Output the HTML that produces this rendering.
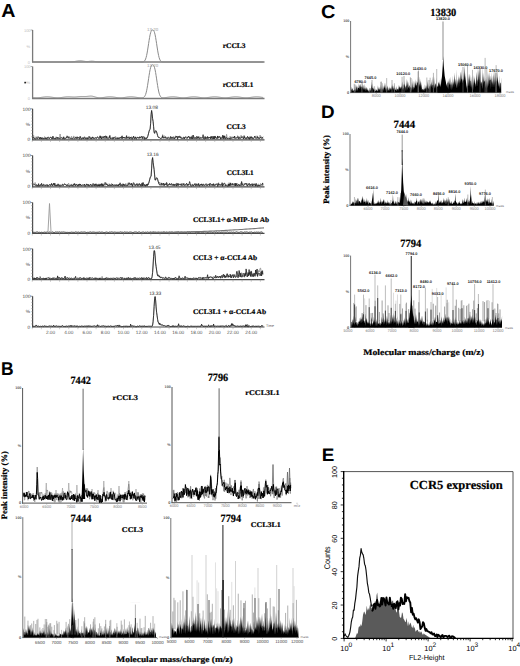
<!DOCTYPE html>
<html><head><meta charset="utf-8"><style>
html,body{margin:0;padding:0;background:#fff;overflow:hidden;}
svg{display:block;text-rendering:geometricPrecision;}
</style></head><body>
<svg width="520" height="666" viewBox="0 0 520 666">
<rect width="520" height="666" fill="#fff"/>
<text x="1.2" y="17.4" font-family="Liberation Sans" font-size="19" font-weight="bold" fill="#000" text-anchor="start" textLength="14.2" lengthAdjust="spacingAndGlyphs" >A</text>
<line x1="32.6" y1="30" x2="32.6" y2="62.5" stroke="#7a7a7a" stroke-width="1.3" />
<line x1="32.1" y1="62" x2="264.5" y2="62" stroke="#7a7a7a" stroke-width="1.3" />
<line x1="30.6" y1="30" x2="32.6" y2="30" stroke="#7a7a7a" stroke-width="0.6" />
<text x="30.6" y="31.9" font-family="Liberation Sans" font-size="4" font-weight="normal" fill="#bbb" text-anchor="end" >100</text>
<text x="30.1" y="47.5" font-family="Liberation Sans" font-size="4" font-weight="normal" fill="#bbb" text-anchor="end" >%</text>
<text x="30.1" y="63.5" font-family="Liberation Sans" font-size="4" font-weight="normal" fill="#bbb" text-anchor="end" >0</text>
<polyline points="33.1,62 33.6,62 34.1,62 34.6,62 35.1,62 35.6,62 36.1,62 36.6,62 37.1,62 37.6,62 38.1,62 38.6,62 39.1,62 39.6,62 40.1,62 40.6,62 41.1,62 41.6,62 42.1,62 42.6,62 43.1,62 43.6,62 44.1,62 44.6,62 45.1,62 45.6,62 46.1,62 46.6,62 47.1,62 47.6,62 48.1,62 48.6,62 49.1,62 49.6,62 50.1,62 50.6,62 51.1,62 51.6,62 52.1,62 52.6,62 53.1,62 53.6,62 54.1,62 54.6,62 55.1,62 55.6,62 56.1,62 56.6,62 57.1,62 57.6,62 58.1,62 58.6,62 59.1,62 59.6,62 60.1,62 60.6,62 61.1,62 61.6,62 62.1,62 62.6,62 63.1,62 63.6,62 64.1,62 64.6,62 65.1,62 65.6,62 66.1,62 66.6,62 67.1,61.99 67.6,61.99 68.1,61.99 68.6,61.98 69.1,61.97 69.6,61.96 70.1,61.94 70.6,61.92 71.1,61.9 71.6,61.87 72.1,61.83 72.6,61.78 73.1,61.73 73.6,61.67 74.1,61.6 74.6,61.52 75.1,61.43 75.6,61.34 76.1,61.25 76.6,61.16 77.1,61.08 77.6,61 78.1,60.93 78.6,60.87 79.1,60.83 79.6,60.81 80.1,60.8 80.6,60.81 81.1,60.84 81.6,60.89 82.1,60.95 82.6,61.02 83.1,61.1 83.6,61.18 84.1,61.27 84.6,61.34 85.1,61.41 85.6,61.47 86.1,61.51 86.6,61.53 87.1,61.54 87.6,61.53 88.1,61.5 88.6,61.46 89.1,61.41 89.6,61.35 90.1,61.3 90.6,61.25 91.1,61.21 91.6,61.19 92.1,61.19 92.6,61.21 93.1,61.25 93.6,61.3 94.1,61.37 94.6,61.45 95.1,61.53 95.6,61.61 96.1,61.69 96.6,61.75 97.1,61.81 97.6,61.86 98.1,61.9 98.6,61.93 99.1,61.95 99.6,61.97 100.1,61.98 100.6,61.99 101.1,61.99 101.6,62 102.1,62 102.6,62 103.1,62 103.6,62 104.1,62 104.6,62 105.1,62 105.6,62 106.1,62 106.6,62 107.1,62 107.6,62 108.1,62 108.6,62 109.1,62 109.6,62 110.1,62 110.6,62 111.1,62 111.6,62 112.1,62 112.6,62 113.1,62 113.6,62 114.1,62 114.6,62 115.1,62 115.6,62 116.1,62 116.6,62 117.1,62 117.6,62 118.1,62 118.6,62 119.1,62 119.6,62 120.1,62 120.6,62 121.1,62 121.6,62 122.1,62 122.6,62 123.1,62 123.6,62 124.1,62 124.6,62 125.1,62 125.6,62 126.1,62 126.6,62 127.1,62 127.6,62 128.1,62 128.6,62 129.1,62 129.6,62 130.1,62 130.6,62 131.1,62 131.6,62 132.1,62 132.6,62 133.1,62 133.6,62 134.1,62 134.6,62 135.1,62 135.6,62 136.1,62 136.6,62 137.1,62 137.6,62 138.1,62 138.6,62 139.1,62 139.6,62 140.1,62 140.6,62 141.1,61.99 141.6,61.99 142.1,61.97 142.6,61.92 143.1,61.84 143.6,61.67 144.1,61.38 144.6,60.9 145.1,60.15 145.6,59.04 146.1,57.51 146.6,55.51 147.1,53.04 147.6,50.15 148.1,46.96 148.6,43.65 149.1,40.4 149.6,37.4 150.1,34.84 150.6,32.8 151.1,31.36 151.6,30.48 152.1,30.08 152.6,30 153.1,30.08 153.6,30.48 154.1,31.36 154.6,32.8 155.1,34.84 155.6,37.4 156.1,40.4 156.6,43.65 157.1,46.96 157.6,50.15 158.1,53.04 158.6,55.51 159.1,57.51 159.6,59.04 160.1,60.15 160.6,60.9 161.1,61.38 161.6,61.67 162.1,61.84 162.6,61.92 163.1,61.97 163.6,61.99 164.1,61.99 164.6,62 165.1,62 165.6,62 166.1,62 166.6,62 167.1,62 167.6,62 168.1,62 168.6,62 169.1,62 169.6,62 170.1,62 170.6,62 171.1,62 171.6,62 172.1,62 172.6,62 173.1,62 173.6,62 174.1,62 174.6,62 175.1,62 175.6,62 176.1,62 176.6,62 177.1,62 177.6,62 178.1,62 178.6,62 179.1,62 179.6,62 180.1,62 180.6,62 181.1,62 181.6,62 182.1,62 182.6,62 183.1,62 183.6,62 184.1,62 184.6,62 185.1,62 185.6,62 186.1,62 186.6,62 187.1,62 187.6,62 188.1,62 188.6,62 189.1,62 189.6,62 190.1,62 190.6,62 191.1,62 191.6,62 192.1,62 192.6,62 193.1,62 193.6,62 194.1,62 194.6,62 195.1,62 195.6,62 196.1,62 196.6,62 197.1,62 197.6,62 198.1,62 198.6,62 199.1,62 199.6,62 200.1,62 200.6,62 201.1,62 201.6,62 202.1,62 202.6,62 203.1,62 203.6,62 204.1,62 204.6,62 205.1,62 205.6,62 206.1,62 206.6,62 207.1,62 207.6,62 208.1,62 208.6,62 209.1,62 209.6,62 210.1,62 210.6,62 211.1,62 211.6,62 212.1,62 212.6,62 213.1,62 213.6,62 214.1,62 214.6,62 215.1,62 215.6,62 216.1,62 216.6,62 217.1,62 217.6,62 218.1,62 218.6,62 219.1,62 219.6,62 220.1,62 220.6,62 221.1,62 221.6,62 222.1,62 222.6,62 223.1,62 223.6,62 224.1,62 224.6,62 225.1,62 225.6,62 226.1,62 226.6,62 227.1,62 227.6,62 228.1,62 228.6,62 229.1,62 229.6,62 230.1,62 230.6,62 231.1,62 231.6,62 232.1,62 232.6,62 233.1,62 233.6,62 234.1,62 234.6,62 235.1,62 235.6,62 236.1,62 236.6,62 237.1,62 237.6,62 238.1,62 238.6,62 239.1,62 239.6,62 240.1,62 240.6,62 241.1,62 241.6,62 242.1,62 242.6,62 243.1,62 243.6,62 244.1,62 244.6,62 245.1,62 245.6,62 246.1,62 246.6,62 247.1,62 247.6,62 248.1,62 248.6,62 249.1,62 249.6,62 250.1,62 250.6,62 251.1,62 251.6,62 252.1,62 252.6,62 253.1,62 253.6,62 254.1,62 254.6,62 255.1,62 255.6,62 256.1,62 256.6,62 257.1,62 257.6,62 258.1,62 258.6,62 259.1,62 259.6,62 260.1,62 260.6,62 261.1,62 261.6,62 262.1,62 262.6,62 263.1,62" stroke="#8a8a8a" stroke-width="1" fill="none" stroke-linejoin="round" />
<text x="152.6" y="30.9" font-family="Liberation Sans" font-size="4.4" font-weight="normal" fill="#999" text-anchor="middle" >13.20</text>
<text x="222.65" y="48.4" font-family="Liberation Serif" font-size="7.2" font-weight="bold" fill="#000" text-anchor="start" textLength="22.9" lengthAdjust="spacingAndGlyphs" stroke="#000" stroke-width="0.2" >rCCL3</text>
<line x1="32.6" y1="66.5" x2="32.6" y2="99" stroke="#7a7a7a" stroke-width="1.3" />
<line x1="32.1" y1="98.5" x2="264.5" y2="98.5" stroke="#7a7a7a" stroke-width="1.3" />
<line x1="30.6" y1="66.5" x2="32.6" y2="66.5" stroke="#7a7a7a" stroke-width="0.6" />
<text x="30.6" y="68.4" font-family="Liberation Sans" font-size="4" font-weight="normal" fill="#bbb" text-anchor="end" >100</text>
<text x="30.1" y="84" font-family="Liberation Sans" font-size="4" font-weight="normal" fill="#bbb" text-anchor="end" >%</text>
<text x="30.1" y="100" font-family="Liberation Sans" font-size="4" font-weight="normal" fill="#bbb" text-anchor="end" >0</text>
<polyline points="33.1,97.54 33.6,97.6 34.1,97.66 34.6,97.71 35.1,97.75 35.6,97.78 36.1,97.79 36.6,97.8 37.1,97.8 37.6,97.78 38.1,97.75 38.6,97.72 39.1,97.67 39.6,97.62 40.1,97.56 40.6,97.49 41.1,97.42 41.6,97.34 42.1,97.27 42.6,97.19 43.1,97.12 43.6,97.05 44.1,96.99 44.6,96.94 45.1,96.89 45.6,96.85 46.1,96.82 46.6,96.81 47.1,96.8 47.6,96.81 48.1,96.82 48.6,96.85 49.1,96.89 49.6,96.93 50.1,96.99 50.6,97.05 51.1,97.12 51.6,97.19 52.1,97.26 52.6,97.34 53.1,97.41 53.6,97.48 54.1,97.55 54.6,97.61 55.1,97.67 55.6,97.71 56.1,97.75 56.6,97.78 57.1,97.79 57.6,97.8 58.1,97.79 58.6,97.78 59.1,97.75 59.6,97.71 60.1,97.67 60.6,97.61 61.1,97.55 61.6,97.48 62.1,97.41 62.6,97.33 63.1,97.26 63.6,97.19 64.1,97.11 64.6,97.05 65.1,96.98 65.6,96.93 66.1,96.88 66.6,96.84 67.1,96.81 67.6,96.8 68.1,96.79 68.6,96.79 69.1,96.79 69.6,96.81 70.1,96.83 70.6,96.86 71.1,96.89 71.6,96.92 72.1,96.95 72.6,96.98 73.1,97 73.6,97.01 74.1,97.01 74.6,97.01 75.1,96.99 75.6,96.96 76.1,96.93 76.6,96.88 77.1,96.83 77.6,96.78 78.1,96.72 78.6,96.67 79.1,96.62 79.6,96.58 80.1,96.55 80.6,96.52 81.1,96.5 81.6,96.49 82.1,96.49 82.6,96.5 83.1,96.5 83.6,96.51 84.1,96.52 84.6,96.52 85.1,96.52 85.6,96.51 86.1,96.49 86.6,96.46 87.1,96.42 87.6,96.37 88.1,96.32 88.6,96.26 89.1,96.21 89.6,96.16 90.1,96.12 90.6,96.1 91.1,96.1 91.6,96.13 92.1,96.19 92.6,96.27 93.1,96.38 93.6,96.51 94.1,96.65 94.6,96.8 95.1,96.96 95.6,97.11 96.1,97.25 96.6,97.38 97.1,97.49 97.6,97.58 98.1,97.66 98.6,97.71 99.1,97.75 99.6,97.77 100.1,97.77 100.6,97.76 101.1,97.73 101.6,97.7 102.1,97.65 102.6,97.6 103.1,97.53 103.6,97.46 104.1,97.39 104.6,97.32 105.1,97.24 105.6,97.17 106.1,97.1 106.6,97.03 107.1,96.97 107.6,96.92 108.1,96.88 108.6,96.84 109.1,96.82 109.6,96.8 110.1,96.8 110.6,96.81 111.1,96.83 111.6,96.86 112.1,96.9 112.6,96.95 113.1,97.01 113.6,97.07 114.1,97.14 114.6,97.21 115.1,97.29 115.6,97.36 116.1,97.43 116.6,97.51 117.1,97.57 117.6,97.63 118.1,97.68 118.6,97.73 119.1,97.76 119.6,97.78 120.1,97.8 120.6,97.8 121.1,97.79 121.6,97.77 122.1,97.74 122.6,97.7 123.1,97.65 123.6,97.59 124.1,97.53 124.6,97.46 125.1,97.38 125.6,97.31 126.1,97.23 126.6,97.16 127.1,97.09 127.6,97.03 128.1,96.97 128.6,96.91 129.1,96.87 129.6,96.84 130.1,96.81 130.6,96.8 131.1,96.8 131.6,96.81 132.1,96.83 132.6,96.86 133.1,96.91 133.6,96.96 134.1,97.01 134.6,97.08 135.1,97.15 135.6,97.22 136.1,97.29 136.6,97.37 137.1,97.44 137.6,97.51 138.1,97.58 138.6,97.64 139.1,97.69 139.6,97.73 140.1,97.76 140.6,97.78 141.1,97.79 141.6,97.78 142.1,97.75 142.6,97.69 143.1,97.57 143.6,97.36 144.1,97.02 144.6,96.48 145.1,95.67 145.6,94.49 146.1,92.89 146.6,90.81 147.1,88.26 147.6,85.3 148.1,82.05 148.6,78.67 149.1,75.36 149.6,72.31 150.1,69.7 150.6,67.64 151.1,66.17 151.6,65.28 152.1,64.88 152.6,64.81 153.1,64.91 153.6,65.35 154.1,66.27 154.6,67.77 155.1,69.86 155.6,72.49 156.1,75.55 156.6,78.88 157.1,82.27 157.6,85.53 158.1,88.49 158.6,91.03 159.1,93.1 159.6,94.69 160.1,95.84 160.6,96.64 161.1,97.15 161.6,97.46 162.1,97.63 162.6,97.72 163.1,97.75 163.6,97.75 164.1,97.72 164.6,97.69 165.1,97.63 165.6,97.58 166.1,97.51 166.6,97.44 167.1,97.37 167.6,97.29 168.1,97.22 168.6,97.15 169.1,97.08 169.6,97.01 170.1,96.95 170.6,96.9 171.1,96.86 171.6,96.83 172.1,96.81 172.6,96.8 173.1,96.8 173.6,96.81 174.1,96.84 174.6,96.87 175.1,96.92 175.6,96.97 176.1,97.03 176.6,97.09 177.1,97.16 177.6,97.24 178.1,97.31 178.6,97.39 179.1,97.46 179.6,97.53 180.1,97.59 180.6,97.65 181.1,97.7 181.6,97.74 182.1,97.77 182.6,97.79 183.1,97.8 183.6,97.8 184.1,97.78 184.6,97.76 185.1,97.73 185.6,97.68 186.1,97.63 186.6,97.57 187.1,97.5 187.6,97.43 188.1,97.36 188.6,97.28 189.1,97.21 189.6,97.14 190.1,97.07 190.6,97 191.1,96.95 191.6,96.9 192.1,96.86 192.6,96.83 193.1,96.81 193.6,96.8 194.1,96.8 194.6,96.82 195.1,96.84 195.6,96.88 196.1,96.92 196.6,96.97 197.1,97.03 197.6,97.1 198.1,97.17 198.6,97.24 199.1,97.32 199.6,97.39 200.1,97.47 200.6,97.54 201.1,97.6 201.6,97.66 202.1,97.7 202.6,97.74 203.1,97.77 203.6,97.79 204.1,97.8 204.6,97.8 205.1,97.78 205.6,97.76 206.1,97.72 206.6,97.68 207.1,97.62 207.6,97.56 208.1,97.5 208.6,97.42 209.1,97.35 209.6,97.28 210.1,97.2 210.6,97.13 211.1,97.06 211.6,97 212.1,96.94 212.6,96.89 213.1,96.85 213.6,96.83 214.1,96.81 214.6,96.8 215.1,96.8 215.6,96.82 216.1,96.84 216.6,96.88 217.1,96.93 217.6,96.98 218.1,97.04 218.6,97.11 219.1,97.18 219.6,97.25 220.1,97.33 220.6,97.4 221.1,97.47 221.6,97.54 222.1,97.61 222.6,97.66 223.1,97.71 223.6,97.75 224.1,97.78 224.6,97.79 225.1,97.8 225.6,97.8 226.1,97.78 226.6,97.75 227.1,97.72 227.6,97.67 228.1,97.62 228.6,97.55 229.1,97.49 229.6,97.42 230.1,97.34 230.6,97.27 231.1,97.19 231.6,97.12 232.1,97.05 232.6,96.99 233.1,96.94 233.6,96.89 234.1,96.85 234.6,96.82 235.1,96.81 235.6,96.8 236.1,96.81 236.6,96.82 237.1,96.85 237.6,96.89 238.1,96.93 238.6,96.99 239.1,97.05 239.6,97.12 240.1,97.19 240.6,97.26 241.1,97.34 241.6,97.41 242.1,97.48 242.6,97.55 243.1,97.61 243.6,97.67 244.1,97.71 244.6,97.75 245.1,97.78 245.6,97.79 246.1,97.8 246.6,97.79 247.1,97.78 247.6,97.75 248.1,97.71 248.6,97.66 249.1,97.61 249.6,97.55 250.1,97.48 250.6,97.41 251.1,97.33 251.6,97.26 252.1,97.19 252.6,97.11 253.1,97.05 253.6,96.98 254.1,96.93 254.6,96.88 255.1,96.85 255.6,96.82 256.1,96.8 256.6,96.8 257.1,96.81 257.6,96.82 258.1,96.85 258.6,96.89 259.1,96.94 259.6,96.99 260.1,97.06 260.6,97.12 261.1,97.2 261.6,97.27 262.1,97.35 262.6,97.42 263.1,97.49" stroke="#8a8a8a" stroke-width="1" fill="none" stroke-linejoin="round" />
<text x="152.6" y="67.4" font-family="Liberation Sans" font-size="4.4" font-weight="normal" fill="#999" text-anchor="middle" >13.20</text>
<text x="222.65" y="86.9" font-family="Liberation Serif" font-size="7.2" font-weight="bold" fill="#000" text-anchor="start" textLength="30.7" lengthAdjust="spacingAndGlyphs" stroke="#000" stroke-width="0.2" >rCCL3L1</text>
<line x1="32.6" y1="108.8" x2="32.6" y2="140.3" stroke="#4a4a4a" stroke-width="1.2" />
<line x1="32.1" y1="139.8" x2="264.5" y2="139.8" stroke="#4a4a4a" stroke-width="1.2" />
<line x1="30.6" y1="108.8" x2="32.6" y2="108.8" stroke="#4a4a4a" stroke-width="0.6" />
<text x="30.6" y="110.7" font-family="Liberation Sans" font-size="4.8" font-weight="normal" fill="#444" text-anchor="end" >100</text>
<text x="30.1" y="125.8" font-family="Liberation Sans" font-size="4.8" font-weight="normal" fill="#444" text-anchor="end" >%</text>
<text x="30.1" y="141.3" font-family="Liberation Sans" font-size="4.8" font-weight="normal" fill="#444" text-anchor="end" >0</text>
<path d="M31 136.7h1.6M31 133.6h1.6M31 130.5h1.6M31 127.4h1.6M31 124.3h1.6M31 121.2h1.6M31 118.1h1.6M31 115h1.6M31 111.9h1.6" stroke="#999" stroke-width="0.5"/>
<path d="M32.25 139.8v2.2M41.38 139.8v2.2M50.5 139.8v2.2M59.62 139.8v2.2M68.75 139.8v2.2M77.88 139.8v2.2M87 139.8v2.2M96.12 139.8v2.2M105.25 139.8v2.2M114.38 139.8v2.2M123.5 139.8v2.2M132.62 139.8v2.2M141.75 139.8v2.2M150.88 139.8v2.2M160 139.8v2.2M169.12 139.8v2.2M178.25 139.8v2.2M187.38 139.8v2.2M196.5 139.8v2.2M205.62 139.8v2.2M214.75 139.8v2.2M223.88 139.8v2.2M233 139.8v2.2M242.12 139.8v2.2M251.25 139.8v2.2M260.38 139.8v2.2" stroke="#999" stroke-width="0.5"/>
<polyline points="33.1,138.77 33.6,135.28 34.1,138.45 34.6,138.44 35.1,138.73 35.6,138.32 36.1,136.61 36.6,138.91 37.1,137.94 37.6,138.5 38.1,138 38.6,137.95 39.1,138.61 39.6,138.31 40.1,139.01 40.6,138.52 41.1,138.64 41.6,138.66 42.1,137.62 42.6,137.57 43.1,137.93 43.6,138.5 44.1,137.95 44.6,136.64 45.1,136.97 45.6,138.46 46.1,138.86 46.6,138.04 47.1,137.24 47.6,137.29 48.1,138.14 48.6,138.01 49.1,139.2 49.6,137.54 50.1,137.12 50.6,137.33 51.1,137.53 51.6,138.75 52.1,138.93 52.6,136.09 53.1,139.15 53.6,138.71 54.1,138.11 54.6,138.97 55.1,138.36 55.6,138.39 56.1,136.69 56.6,138.13 57.1,138.68 57.6,138.97 58.1,137.19 58.6,138.16 59.1,138.61 59.6,137.91 60.1,134.01 60.6,137.81 61.1,136.96 61.6,137.46 62.1,137.17 62.6,137.78 63.1,138.73 63.6,136.59 64.1,136.79 64.6,138.53 65.1,138.9 65.6,138.86 66.1,138.62 66.6,137.34 67.1,135.66 67.6,136.36 68.1,138.85 68.6,138.3 69.1,138.09 69.6,136.59 70.1,138.24 70.6,138.33 71.1,138.04 71.6,136.29 72.1,138.28 72.6,138.96 73.1,137.88 73.6,136.19 74.1,136.25 74.6,137.81 75.1,138.33 75.6,138.34 76.1,138.43 76.6,137.91 77.1,138.64 77.6,138.86 78.1,138.62 78.6,137.88 79.1,137.05 79.6,137.5 80.1,137.42 80.6,136.59 81.1,137.53 81.6,139.03 82.1,139.19 82.6,139.04 83.1,137.1 83.6,138.09 84.1,138.65 84.6,138.46 85.1,138 85.6,139.04 86.1,137.66 86.6,138.02 87.1,138.27 87.6,138.03 88.1,138.1 88.6,136.2 89.1,138.66 89.6,137.9 90.1,138.13 90.6,137.29 91.1,137.31 91.6,138.7 92.1,137.24 92.6,137.02 93.1,138.19 93.6,138.42 94.1,137.82 94.6,138.54 95.1,138.52 95.6,138.69 96.1,139.17 96.6,138.16 97.1,138.34 97.6,137.51 98.1,137.3 98.6,138.53 99.1,138.3 99.6,138.79 100.1,135.84 100.6,136.94 101.1,139.05 101.6,138.47 102.1,138.68 102.6,137.69 103.1,137.05 103.6,138.51 104.1,138.41 104.6,138.92 105.1,138.85 105.6,137.93 106.1,137.22 106.6,137.89 107.1,137.8 107.6,136.79 108.1,137.69 108.6,137.44 109.1,137.86 109.6,138.25 110.1,135.31 110.6,139.25 111.1,138.06 111.6,138.64 112.1,138.39 112.6,137.23 113.1,137.13 113.6,137.96 114.1,138.76 114.6,138.88 115.1,138.61 115.6,136.32 116.1,137.43 116.6,137.67 117.1,138.42 117.6,138.06 118.1,136.98 118.6,138.32 119.1,137.99 119.6,138.77 120.1,137.95 120.6,138.14 121.1,137.09 121.6,139.03 122.1,136.6 122.6,138.6 123.1,137.27 123.6,137.6 124.1,137.03 124.6,138.57 125.1,138.36 125.6,137.28 126.1,136.66 126.6,138.84 127.1,138.52 127.6,137.29 128.1,139 128.6,136.58 129.1,137.93 129.6,136.7 130.1,138 130.6,137.47 131.1,138.43 131.6,136.65 132.1,137.97 132.6,138.11 133.1,138.91 133.6,137.03 134.1,138.44 134.6,137.37 135.1,138.14 135.6,138.23 136.1,137.11 136.6,138.65 137.1,137.93 137.6,137 138.1,137.82 138.6,138.82 139.1,137.82 139.6,138.3 140.1,138.05 140.6,137.31 141.1,138.73 141.6,136.64 142.1,137.85 142.6,136.23 143.1,138.91 143.6,138.51 144.1,138.27 144.6,137.21 145.1,139.03 145.6,138.77 146.1,138.58 146.6,138.64 147.1,137.94 147.6,136.79 148.1,135.16 148.6,133.19 149.1,131.23 149.6,129.76 150.1,129.22 150.6,123.77 151.1,114.62 151.6,110.5 152.1,113.88 152.6,118.65 153.1,121.43 153.6,126.72 154.1,132.1 154.6,133.32 155.1,131.68 155.6,130.75 156.1,130.86 156.6,131.96 157.1,133.69 157.6,135.52 158.1,137.06 158.6,137.54 159.1,137.18 159.6,137.74 160.1,137.85 160.6,138.57 161.1,138.53 161.6,138.26 162.1,137.95 162.6,134.64 163.1,138.6 163.6,136.92 164.1,135.58 164.6,136.46 165.1,138.18 165.6,137.56 166.1,138.87 166.6,138.26 167.1,137.87 167.6,137.23 168.1,137.24 168.6,137.09 169.1,137.1 169.6,137.49 170.1,138.23 170.6,138.44 171.1,137.94 171.6,138.82 172.1,138.64 172.6,138.61 173.1,137.45 173.6,136.43 174.1,139.1 174.6,137.37 175.1,137.59 175.6,135.81 176.1,137.23 176.6,136.88 177.1,135.99 177.6,138.1 178.1,137.06 178.6,137.31 179.1,136.58 179.6,135.81 180.1,136.95 180.6,136.01 181.1,138.93 181.6,138.18 182.1,139.06 182.6,138.05 183.1,138.56 183.6,136.81 184.1,139.17 184.6,138.62 185.1,137.24 185.6,136.46 186.1,136.45 186.6,137.82 187.1,137.17 187.6,137.56 188.1,137.14 188.6,137.2 189.1,136.56 189.6,138.54 190.1,138.11 190.6,139.07 191.1,138.53 191.6,138.91 192.1,135.72 192.6,137.38 193.1,135.9 193.6,139.06 194.1,136.88 194.6,137.67 195.1,138.44 195.6,138.42 196.1,138.61 196.6,138.83 197.1,137.95 197.6,139 198.1,136.56 198.6,137.5 199.1,137.23 199.6,136.94 200.1,137.38 200.6,139.11 201.1,138.01 201.6,137.7 202.1,137.34 202.6,137.94 203.1,138.83 203.6,138.31 204.1,137.66 204.6,137.48 205.1,138.21 205.6,137.78 206.1,137.93 206.6,137.19 207.1,137.32 207.6,137.48 208.1,138.62 208.6,137.68 209.1,137.6 209.6,137.53 210.1,137.78 210.6,137.55 211.1,138.92 211.6,136.65 212.1,138.62 212.6,136.03 213.1,139.2 213.6,138.4 214.1,139.22 214.6,137.69 215.1,138 215.6,137.57 216.1,137.97 216.6,137.7 217.1,139.16 217.6,136.08 218.1,137.56 218.6,136.31 219.1,138.06 219.6,137.59 220.1,137.54 220.6,137.44 221.1,138.5 221.6,137.55 222.1,137.25 222.6,137.39 223.1,138.6 223.6,137.59 224.1,137.19 224.6,136.84 225.1,138.07 225.6,138.64 226.1,137.21 226.6,134.34 227.1,137.52 227.6,138.66 228.1,138.06 228.6,138.27 229.1,138.39 229.6,139.15 230.1,136.19 230.6,138.18 231.1,136.9 231.6,137.9 232.1,136.61 232.6,138 233.1,136.88 233.6,137.19 234.1,137.09 234.6,137.15 235.1,139.07 235.6,138.92 236.1,137.84 236.6,137.76 237.1,138.68 237.6,135.69 238.1,137.15 238.6,138.69 239.1,136.98 239.6,136.91 240.1,138.72 240.6,137.5 241.1,135.27 241.6,138.13 242.1,137.45 242.6,138.07 243.1,137.74 243.6,137.74 244.1,137.73 244.6,137.22 245.1,136.82 245.6,138.66 246.1,138.18 246.6,137.79 247.1,137.95 247.6,137.61 248.1,137.89 248.6,137.86 249.1,137.93 249.6,138.84 250.1,135.99 250.6,136.89 251.1,138 251.6,137.31 252.1,138.66 252.6,137.26 253.1,137.79 253.6,138.38 254.1,137.82 254.6,137.05 255.1,136.56 255.6,135.9 256.1,137 256.6,137.75 257.1,135.77 257.6,136.62 258.1,138.28 258.6,137.16 259.1,138.89 259.6,138.6 260.1,135.12 260.6,138.25 261.1,136.44 261.6,138.1 262.1,138.69 262.6,137.12 263.1,138.85" stroke="#8a8a8a" stroke-width="0.8" fill="none" stroke-linejoin="round" />
<polyline points="33.1,137.64 33.6,137.08 34.1,138.64 34.6,138.65 35.1,138.74 35.6,138.93 36.1,138.53 36.6,137.81 37.1,138.28 37.6,138.46 38.1,136.59 38.6,137.15 39.1,137.87 39.6,139.03 40.1,137.01 40.6,138.51 41.1,137.59 41.6,139.06 42.1,137.81 42.6,138.62 43.1,138.16 43.6,139.1 44.1,138.07 44.6,138.53 45.1,137.82 45.6,138.8 46.1,137.78 46.6,138.83 47.1,139.21 47.6,137.44 48.1,137.07 48.6,137.24 49.1,138.45 49.6,138.34 50.1,138.03 50.6,137.25 51.1,137.29 51.6,137.67 52.1,139.01 52.6,137.54 53.1,136.37 53.6,138.48 54.1,138.29 54.6,138.72 55.1,137.9 55.6,138.81 56.1,138.37 56.6,137.62 57.1,138.75 57.6,137.26 58.1,137.76 58.6,138.51 59.1,137.9 59.6,138.6 60.1,138.92 60.6,137.88 61.1,137.89 61.6,137.77 62.1,138.63 62.6,138.75 63.1,138.96 63.6,137.14 64.1,139.14 64.6,138.73 65.1,138.58 65.6,138.6 66.1,137.28 66.6,137.74 67.1,136.37 67.6,137.34 68.1,136.59 68.6,138.06 69.1,138.26 69.6,138.08 70.1,137.94 70.6,138.5 71.1,138.83 71.6,138.46 72.1,138.58 72.6,139.12 73.1,137.93 73.6,137.73 74.1,138.24 74.6,138.7 75.1,138.5 75.6,137.13 76.1,137.28 76.6,138.57 77.1,136.7 77.6,138.33 78.1,137.25 78.6,137.69 79.1,138.25 79.6,139.19 80.1,136.35 80.6,138.37 81.1,138.81 81.6,139.11 82.1,137.95 82.6,138.08 83.1,137.74 83.6,138.93 84.1,138.02 84.6,136.77 85.1,137.51 85.6,138.71 86.1,138.32 86.6,137.96 87.1,139.2 87.6,137.74 88.1,138.81 88.6,138.24 89.1,137.47 89.6,136.52 90.1,138.64 90.6,138.2 91.1,139.12 91.6,137.94 92.1,138.21 92.6,136.92 93.1,138.64 93.6,137.66 94.1,138.53 94.6,138.2 95.1,137.83 95.6,137.46 96.1,138.55 96.6,138.07 97.1,137.06 97.6,136.7 98.1,137.57 98.6,138.22 99.1,138.67 99.6,137.36 100.1,135.82 100.6,138.19 101.1,136.43 101.6,139.01 102.1,138.36 102.6,137.42 103.1,136.28 103.6,137.8 104.1,138.41 104.6,136.05 105.1,136.66 105.6,135.77 106.1,138.64 106.6,136.25 107.1,138 107.6,138.67 108.1,139.16 108.6,138.48 109.1,137.96 109.6,135.68 110.1,138.43 110.6,138.35 111.1,138.45 111.6,137.85 112.1,138.23 112.6,139.12 113.1,137.59 113.6,138.63 114.1,137.05 114.6,137.22 115.1,137.79 115.6,138.77 116.1,138.58 116.6,138.47 117.1,139.05 117.6,137.82 118.1,138.87 118.6,138.21 119.1,138.81 119.6,137.5 120.1,137.51 120.6,137.37 121.1,138.35 121.6,136.61 122.1,135.79 122.6,138.43 123.1,138.16 123.6,137.13 124.1,138.15 124.6,137.46 125.1,138.24 125.6,137.99 126.1,138.57 126.6,135.6 127.1,138.02 127.6,137.57 128.1,137.23 128.6,137.68 129.1,137.77 129.6,138.91 130.1,137.23 130.6,138.3 131.1,137.4 131.6,138.34 132.1,139.29 132.6,137.72 133.1,137.78 133.6,136.02 134.1,137.53 134.6,138.83 135.1,138.49 135.6,136.84 136.1,138.94 136.6,138.79 137.1,138.31 137.6,137.2 138.1,137.46 138.6,137.57 139.1,138.23 139.6,136.69 140.1,138.06 140.6,136.93 141.1,136.43 141.6,136.52 142.1,136.72 142.6,138.64 143.1,137.2 143.6,136.62 144.1,136.77 144.6,139.2 145.1,138.72 145.6,138.81 146.1,137.54 146.6,138.64 147.1,137.94 147.6,136.79 148.1,135.16 148.6,133.19 149.1,131.23 149.6,129.76 150.1,129.22 150.6,123.77 151.1,114.62 151.6,110.5 152.1,113.88 152.6,118.65 153.1,121.43 153.6,126.72 154.1,132.1 154.6,133.32 155.1,131.68 155.6,130.75 156.1,130.86 156.6,131.96 157.1,133.69 157.6,135.52 158.1,137.06 158.6,137.42 159.1,137.94 159.6,137.71 160.1,138.28 160.6,138.42 161.1,138.29 161.6,138.04 162.1,137.72 162.6,135.76 163.1,138.11 163.6,137.72 164.1,137.16 164.6,137.9 165.1,138.27 165.6,136.65 166.1,137.8 166.6,138.17 167.1,138.05 167.6,138.68 168.1,137.33 168.6,138.21 169.1,138.81 169.6,138.79 170.1,138.51 170.6,136.46 171.1,138.56 171.6,137.32 172.1,136.87 172.6,138.3 173.1,137.58 173.6,138.37 174.1,137.75 174.6,138.89 175.1,138.26 175.6,136.78 176.1,137.25 176.6,136.28 177.1,137.36 177.6,139.26 178.1,136.16 178.6,137.03 179.1,137.59 179.6,136.45 180.1,137.73 180.6,137.02 181.1,138.22 181.6,137.87 182.1,138.15 182.6,138.27 183.1,137.77 183.6,138.37 184.1,137.27 184.6,138.77 185.1,137.17 185.6,137.26 186.1,137.61 186.6,138.05 187.1,138.61 187.6,137.07 188.1,137.26 188.6,136.13 189.1,137.1 189.6,138.47 190.1,136.95 190.6,137.25 191.1,138.9 191.6,136.72 192.1,137.65 192.6,138.98 193.1,135 193.6,136.33 194.1,138.51 194.6,138.26 195.1,137.82 195.6,137.51 196.1,138.79 196.6,136.39 197.1,136.93 197.6,138.23 198.1,136.52 198.6,138.34 199.1,137.5 199.6,138.8 200.1,138.42 200.6,137.45 201.1,137.81 201.6,138 202.1,137.95 202.6,137.74 203.1,134.67 203.6,138.65 204.1,138.75 204.6,139.07 205.1,136.43 205.6,138.73 206.1,137.41 206.6,138.48 207.1,138.72 207.6,136.43 208.1,138.5 208.6,137.31 209.1,137.84 209.6,137.99 210.1,136.99 210.6,138.76 211.1,136.19 211.6,138.03 212.1,138.44 212.6,138.65 213.1,136.47 213.6,138.78 214.1,136.19 214.6,138.77 215.1,135.98 215.6,138.03 216.1,138.5 216.6,138.09 217.1,138.57 217.6,135.94 218.1,138.34 218.6,137.67 219.1,136.5 219.6,136.62 220.1,136.72 220.6,139.15 221.1,138.04 221.6,138.09 222.1,137.76 222.6,135.3 223.1,138.81 223.6,135.67 224.1,138.84 224.6,135.84 225.1,137.3 225.6,138.75 226.1,138.51 226.6,137.46 227.1,138.87 227.6,138.47 228.1,138.47 228.6,138.07 229.1,138.65 229.6,138.46 230.1,139.24 230.6,137.77 231.1,138.35 231.6,138.22 232.1,138.64 232.6,138.02 233.1,137.4 233.6,137.45 234.1,138.4 234.6,136.01 235.1,137.74 235.6,138.1 236.1,137.78 236.6,137.81 237.1,137.34 237.6,137.35 238.1,136.66 238.6,138.63 239.1,138.86 239.6,137.47 240.1,137.96 240.6,138.17 241.1,138.09 241.6,137.41 242.1,136.46 242.6,137.25 243.1,138.06 243.6,139.02 244.1,135.65 244.6,138.14 245.1,137.81 245.6,138.28 246.1,139.14 246.6,137.74 247.1,137.51 247.6,136.33 248.1,138.88 248.6,137.54 249.1,137.06 249.6,139.22 250.1,138.87 250.6,137.17 251.1,138.55 251.6,136.63 252.1,137.51 252.6,138.74 253.1,138.72 253.6,138.81 254.1,137.8 254.6,136.12 255.1,136.81 255.6,138.4 256.1,138.54 256.6,138.21 257.1,138.63 257.6,136.65 258.1,138.22 258.6,138.32 259.1,138.59 259.6,138.38 260.1,137.33 260.6,137.4 261.1,137.93 261.6,138.09 262.1,138.52 262.6,137.42 263.1,136.79" stroke="#1e1e1e" stroke-width="0.8" fill="none" stroke-linejoin="round" />
<text x="151.8" y="109.3" font-family="Liberation Sans" font-size="4.84" font-weight="normal" fill="#333" text-anchor="middle" >13.08</text>
<text x="226.45" y="128.5" font-family="Liberation Serif" font-size="7.2" font-weight="bold" fill="#000" text-anchor="start" textLength="19.3" lengthAdjust="spacingAndGlyphs" stroke="#000" stroke-width="0.2" >CCL3</text>
<line x1="32.6" y1="155.5" x2="32.6" y2="187.4" stroke="#4a4a4a" stroke-width="1.2" />
<line x1="32.1" y1="186.9" x2="264.5" y2="186.9" stroke="#4a4a4a" stroke-width="1.2" />
<line x1="30.6" y1="155.5" x2="32.6" y2="155.5" stroke="#4a4a4a" stroke-width="0.6" />
<text x="30.6" y="157.4" font-family="Liberation Sans" font-size="4.8" font-weight="normal" fill="#444" text-anchor="end" >100</text>
<text x="30.1" y="172.7" font-family="Liberation Sans" font-size="4.8" font-weight="normal" fill="#444" text-anchor="end" >%</text>
<text x="30.1" y="188.4" font-family="Liberation Sans" font-size="4.8" font-weight="normal" fill="#444" text-anchor="end" >0</text>
<path d="M31 183.76h1.6M31 180.62h1.6M31 177.48h1.6M31 174.34h1.6M31 171.2h1.6M31 168.06h1.6M31 164.92h1.6M31 161.78h1.6M31 158.64h1.6" stroke="#999" stroke-width="0.5"/>
<path d="M32.25 186.9v2.2M41.38 186.9v2.2M50.5 186.9v2.2M59.62 186.9v2.2M68.75 186.9v2.2M77.88 186.9v2.2M87 186.9v2.2M96.12 186.9v2.2M105.25 186.9v2.2M114.38 186.9v2.2M123.5 186.9v2.2M132.62 186.9v2.2M141.75 186.9v2.2M150.88 186.9v2.2M160 186.9v2.2M169.12 186.9v2.2M178.25 186.9v2.2M187.38 186.9v2.2M196.5 186.9v2.2M205.62 186.9v2.2M214.75 186.9v2.2M223.88 186.9v2.2M233 186.9v2.2M242.12 186.9v2.2M251.25 186.9v2.2M260.38 186.9v2.2" stroke="#999" stroke-width="0.5"/>
<polyline points="33.1,184.78 33.6,185.1 34.1,184.77 34.6,184.67 35.1,182.51 35.6,184.95 36.1,184.83 36.6,185.1 37.1,186.02 37.6,185.43 38.1,184.8 38.6,185.42 39.1,185.37 39.6,185.66 40.1,185.45 40.6,184.09 41.1,185.72 41.6,184.36 42.1,185.34 42.6,184.63 43.1,185.27 43.6,185.58 44.1,185.18 44.6,185.03 45.1,184.63 45.6,185.39 46.1,184.22 46.6,184.73 47.1,184.17 47.6,185.73 48.1,185.05 48.6,185.75 49.1,185.29 49.6,186.1 50.1,185.7 50.6,184.44 51.1,185.23 51.6,184.27 52.1,184.51 52.6,185.42 53.1,184.57 53.6,183.82 54.1,183.42 54.6,186.08 55.1,183.29 55.6,183.87 56.1,185.14 56.6,186.15 57.1,186.12 57.6,184.41 58.1,184.63 58.6,185.06 59.1,185.22 59.6,184.63 60.1,184.1 60.6,186.19 61.1,185.75 61.6,185.23 62.1,184.74 62.6,185.63 63.1,184.84 63.6,184.75 64.1,184.95 64.6,183.51 65.1,183.97 65.6,184.67 66.1,185.25 66.6,186.12 67.1,185.4 67.6,185.52 68.1,184.07 68.6,183.2 69.1,184.35 69.6,185.11 70.1,186.26 70.6,185.17 71.1,185.73 71.6,183.95 72.1,185.73 72.6,185.15 73.1,184.74 73.6,184.25 74.1,183.46 74.6,184.42 75.1,185.23 75.6,185.98 76.1,183.92 76.6,184.94 77.1,184.57 77.6,185.58 78.1,184.6 78.6,185.79 79.1,185.89 79.6,185.24 80.1,185.56 80.6,184.7 81.1,185.24 81.6,186.12 82.1,185.85 82.6,184.84 83.1,185.09 83.6,186.29 84.1,185.33 84.6,185.67 85.1,185.58 85.6,185.82 86.1,185.9 86.6,184.04 87.1,184.84 87.6,185.67 88.1,185.1 88.6,185.27 89.1,184.82 89.6,186.25 90.1,185.74 90.6,184.15 91.1,184.75 91.6,185.75 92.1,184.36 92.6,185.98 93.1,185.45 93.6,185.53 94.1,186.1 94.6,184.08 95.1,184.45 95.6,184.8 96.1,184.54 96.6,185.4 97.1,184.01 97.6,185.98 98.1,185.89 98.6,184.09 99.1,183.76 99.6,185.91 100.1,185.39 100.6,185.11 101.1,183.66 101.6,184.95 102.1,184.68 102.6,183.62 103.1,185.23 103.6,183.81 104.1,185.67 104.6,185.16 105.1,185.35 105.6,185.23 106.1,183.19 106.6,183 107.1,184.94 107.6,185.34 108.1,184.96 108.6,186.36 109.1,183.65 109.6,184.86 110.1,186.03 110.6,184.98 111.1,185.61 111.6,183.43 112.1,184.58 112.6,184.94 113.1,184.73 113.6,185.56 114.1,186.15 114.6,185.18 115.1,184.84 115.6,186.26 116.1,184.58 116.6,186.28 117.1,184.77 117.6,186.09 118.1,184.45 118.6,184.62 119.1,184.34 119.6,185 120.1,186.02 120.6,185.48 121.1,185.98 121.6,184.9 122.1,183.93 122.6,184.14 123.1,183.48 123.6,185.14 124.1,184.3 124.6,185.43 125.1,185.13 125.6,183.56 126.1,184.39 126.6,184.16 127.1,184.04 127.6,184.85 128.1,182.82 128.6,185.31 129.1,185.92 129.6,185.7 130.1,183.55 130.6,184.13 131.1,183.52 131.6,184.85 132.1,185.49 132.6,185.91 133.1,183.07 133.6,182.05 134.1,184.76 134.6,185.32 135.1,185.82 135.6,185.4 136.1,185.48 136.6,186.36 137.1,183.26 137.6,184.81 138.1,185.28 138.6,184.17 139.1,185.91 139.6,184.03 140.1,184.13 140.6,186.08 141.1,184.49 141.6,185.17 142.1,183.6 142.6,183.97 143.1,185.1 143.6,185.34 144.1,184.6 144.6,185.71 145.1,184.71 145.6,185.96 146.1,186.3 146.6,184.5 147.1,184.58 147.6,185.22 148.1,183.2 148.6,183.59 149.1,181.87 149.6,179.86 150.1,177.95 150.6,176.64 151.1,176.31 151.6,168.87 152.1,160.22 152.6,157.64 153.1,162.26 153.6,165.93 154.1,169.41 154.6,174.92 155.1,180.1 155.6,180.03 156.1,178.49 156.6,177.75 157.1,178.08 157.6,179.35 158.1,181.14 158.6,182.95 159.1,183.22 159.6,182.02 160.1,184.47 160.6,184.28 161.1,182.75 161.6,185.22 162.1,183.54 162.6,185.48 163.1,185.35 163.6,185.87 164.1,185.72 164.6,185.46 165.1,184.24 165.6,183.57 166.1,184.91 166.6,184.97 167.1,185.25 167.6,183.6 168.1,184.67 168.6,185.03 169.1,184.04 169.6,184.19 170.1,185.13 170.6,183.92 171.1,185.25 171.6,185.73 172.1,184.55 172.6,185.29 173.1,185.36 173.6,186.17 174.1,185.09 174.6,184.72 175.1,185.21 175.6,183.79 176.1,184.76 176.6,182.93 177.1,184.47 177.6,184.38 178.1,183.04 178.6,185.14 179.1,185.36 179.6,184.37 180.1,185.07 180.6,185.2 181.1,184.57 181.6,183.7 182.1,184.94 182.6,183.34 183.1,185.25 183.6,185.44 184.1,183.4 184.6,184.56 185.1,184.19 185.6,185.17 186.1,186 186.6,184.85 187.1,184.9 187.6,184.23 188.1,185 188.6,185.83 189.1,184.68 189.6,184.64 190.1,184.14 190.6,184.59 191.1,185.36 191.6,184.57 192.1,184.84 192.6,186.04 193.1,184.73 193.6,185.6 194.1,184.33 194.6,183.85 195.1,184.65 195.6,185.35 196.1,184.26 196.6,183.96 197.1,185.91 197.6,185.53 198.1,184.34 198.6,183.22 199.1,184.85 199.6,185.52 200.1,186.21 200.6,185.04 201.1,183.87 201.6,184.14 202.1,184.84 202.6,185.27 203.1,183.74 203.6,184.16 204.1,185.03 204.6,185.91 205.1,185.06 205.6,184.99 206.1,185.88 206.6,185.53 207.1,185.01 207.6,186.27 208.1,185.42 208.6,184.6 209.1,184.26 209.6,183.92 210.1,185.31 210.6,185.97 211.1,183.99 211.6,184.44 212.1,185.76 212.6,184.57 213.1,185.1 213.6,184.33 214.1,184.08 214.6,184.79 215.1,186.32 215.6,185.55 216.1,184.81 216.6,184.17 217.1,184.99 217.6,185.07 218.1,184.55 218.6,182.66 219.1,184.58 219.6,184.76 220.1,184.97 220.6,186.14 221.1,185.3 221.6,184.58 222.1,184.87 222.6,185.99 223.1,183.17 223.6,184.4 224.1,185.92 224.6,185.63 225.1,184.94 225.6,184.75 226.1,184.69 226.6,185.23 227.1,184.87 227.6,185.54 228.1,183.75 228.6,185.79 229.1,182.65 229.6,184.41 230.1,184.91 230.6,184.08 231.1,184.7 231.6,185.45 232.1,183.29 232.6,185.54 233.1,184.38 233.6,183.7 234.1,184.83 234.6,183.72 235.1,184.43 235.6,185.55 236.1,183.79 236.6,185.11 237.1,183.81 237.6,183.47 238.1,184.94 238.6,185.06 239.1,184.16 239.6,185.28 240.1,184.38 240.6,184.26 241.1,182.85 241.6,185.56 242.1,183.29 242.6,184.72 243.1,184.98 243.6,183.89 244.1,184.33 244.6,183.11 245.1,184.58 245.6,183.68 246.1,185.25 246.6,184.77 247.1,183.33 247.6,186.02 248.1,185.17 248.6,183.72 249.1,185.28 249.6,185.36 250.1,184.01 250.6,184.82 251.1,184.72 251.6,184.82 252.1,184.46 252.6,184.87 253.1,184.62 253.6,185.91 254.1,183.29 254.6,184.64 255.1,186.04 255.6,185.1 256.1,184.29 256.6,185.73 257.1,184.92 257.6,186.14 258.1,183.98 258.6,183.99 259.1,186.06 259.6,185.12 260.1,185.39 260.6,183.48 261.1,184.5 261.6,184.62 262.1,185.38 262.6,186.05 263.1,184.95" stroke="#8a8a8a" stroke-width="0.8" fill="none" stroke-linejoin="round" />
<polyline points="33.1,183.77 33.6,184.09 34.1,184.25 34.6,185 35.1,185.2 35.6,185.47 36.1,184.65 36.6,184.87 37.1,186.29 37.6,185.45 38.1,185.93 38.6,183.66 39.1,186.33 39.6,185.77 40.1,184.95 40.6,185.49 41.1,184.46 41.6,183.34 42.1,185.87 42.6,185.02 43.1,185.66 43.6,184.28 44.1,184.63 44.6,185.39 45.1,186.06 45.6,185.32 46.1,185.88 46.6,185.37 47.1,184.68 47.6,186.09 48.1,185.83 48.6,185.76 49.1,184.68 49.6,184.55 50.1,184.56 50.6,185.67 51.1,185.33 51.6,183.36 52.1,185.26 52.6,185.98 53.1,184.35 53.6,183.26 54.1,185.25 54.6,183.41 55.1,185.62 55.6,185.05 56.1,186.17 56.6,185.1 57.1,185.23 57.6,185.85 58.1,183.82 58.6,185.61 59.1,186.06 59.6,185.2 60.1,186.36 60.6,185.71 61.1,185.82 61.6,185.15 62.1,184.5 62.6,184.15 63.1,185.82 63.6,185.24 64.1,184.38 64.6,184.15 65.1,184.46 65.6,184.53 66.1,185.13 66.6,185.74 67.1,184.41 67.6,185.52 68.1,185.48 68.6,185.16 69.1,186.17 69.6,186.22 70.1,185.53 70.6,184.75 71.1,185.58 71.6,185.24 72.1,184.81 72.6,185.83 73.1,186.18 73.6,184.33 74.1,185.22 74.6,183.59 75.1,185.56 75.6,185.6 76.1,184.4 76.6,185.03 77.1,184.61 77.6,185.93 78.1,186.16 78.6,184.34 79.1,185.33 79.6,183.88 80.1,185.43 80.6,184.07 81.1,185.75 81.6,185.66 82.1,185.08 82.6,184.95 83.1,185.02 83.6,185 84.1,185.35 84.6,184.01 85.1,186.34 85.6,185.69 86.1,185.53 86.6,183.87 87.1,184.51 87.6,185.41 88.1,184.08 88.6,185.87 89.1,186.16 89.6,185.84 90.1,184.72 90.6,184.08 91.1,185.5 91.6,185.71 92.1,186.27 92.6,185.67 93.1,183.45 93.6,184.59 94.1,185.58 94.6,184.46 95.1,186.15 95.6,184.01 96.1,183.68 96.6,185.8 97.1,185.36 97.6,186.24 98.1,184.65 98.6,186.03 99.1,184.76 99.6,186.2 100.1,184.14 100.6,185.53 101.1,185.88 101.6,183.64 102.1,186.13 102.6,184.32 103.1,186.18 103.6,184.93 104.1,184.97 104.6,184.47 105.1,182.4 105.6,183.03 106.1,184.89 106.6,184.58 107.1,183.99 107.6,185.56 108.1,185.34 108.6,185.55 109.1,185.54 109.6,184.7 110.1,185.72 110.6,184.84 111.1,184.55 111.6,185.6 112.1,185.85 112.6,184.14 113.1,185.35 113.6,185.33 114.1,184.94 114.6,184.83 115.1,185.74 115.6,184.91 116.1,185.22 116.6,184.77 117.1,185.82 117.6,185.07 118.1,184.85 118.6,186.05 119.1,184 119.6,184.86 120.1,182.8 120.6,185.6 121.1,185.29 121.6,185.47 122.1,184.25 122.6,186.28 123.1,185.44 123.6,184.04 124.1,185.88 124.6,184.69 125.1,185.37 125.6,184.73 126.1,186.08 126.6,185.5 127.1,185.09 127.6,185.91 128.1,184.81 128.6,184.12 129.1,182.67 129.6,184.21 130.1,184.05 130.6,184.07 131.1,185.43 131.6,183.21 132.1,184.09 132.6,186.32 133.1,184.43 133.6,183.53 134.1,183.54 134.6,183.86 135.1,185.72 135.6,184.72 136.1,185.04 136.6,183.9 137.1,183.98 137.6,185.7 138.1,185.79 138.6,184.88 139.1,183.38 139.6,183.85 140.1,185.14 140.6,184.68 141.1,186.2 141.6,184.4 142.1,182.87 142.6,186.01 143.1,182.46 143.6,183.83 144.1,185.76 144.6,184.63 145.1,185.07 145.6,186.25 146.1,184.71 146.6,184.17 147.1,186.06 147.6,183.92 148.1,184.84 148.6,183.45 149.1,181.87 149.6,179.86 150.1,177.95 150.6,176.64 151.1,176.31 151.6,168.87 152.1,160.22 152.6,157.64 153.1,162.26 153.6,165.93 154.1,169.41 154.6,174.92 155.1,180.1 155.6,180.03 156.1,178.49 156.6,177.75 157.1,178.08 157.6,179.35 158.1,181.14 158.6,182.95 159.1,184.41 159.6,184.28 160.1,185.32 160.6,184.76 161.1,185.29 161.6,183.29 162.1,184.02 162.6,183.86 163.1,184.84 163.6,183.1 164.1,185.68 164.6,184.03 165.1,183.64 165.6,184.61 166.1,185.13 166.6,182.48 167.1,185.12 167.6,186.19 168.1,185.02 168.6,184.73 169.1,185.1 169.6,183.42 170.1,184.54 170.6,184.83 171.1,184.87 171.6,183.45 172.1,184.12 172.6,185.31 173.1,185.02 173.6,183.92 174.1,185.92 174.6,184.5 175.1,184.41 175.6,185.36 176.1,184.69 176.6,186.12 177.1,183.48 177.6,185.24 178.1,185.87 178.6,183.79 179.1,184.43 179.6,184.17 180.1,184.67 180.6,185.03 181.1,183.69 181.6,185.63 182.1,185.06 182.6,185.35 183.1,185 183.6,183.62 184.1,185.26 184.6,185.6 185.1,184.66 185.6,184.82 186.1,184.63 186.6,183.23 187.1,184.16 187.6,185.68 188.1,184.1 188.6,184.93 189.1,183.87 189.6,181.55 190.1,183.11 190.6,185.65 191.1,185.43 191.6,186.27 192.1,185.61 192.6,184.43 193.1,184.85 193.6,185.78 194.1,185.45 194.6,184.09 195.1,183.51 195.6,185.73 196.1,185.96 196.6,184.17 197.1,183.76 197.6,184.37 198.1,185.75 198.6,183.7 199.1,185.76 199.6,186.13 200.1,184.5 200.6,184.5 201.1,185.17 201.6,183.91 202.1,185.76 202.6,184.64 203.1,185.61 203.6,184.48 204.1,184.66 204.6,185.41 205.1,184.6 205.6,184.44 206.1,183.64 206.6,184.78 207.1,185.76 207.6,184.43 208.1,184.86 208.6,184.42 209.1,183.87 209.6,185.69 210.1,183.28 210.6,183.84 211.1,184.19 211.6,185.27 212.1,184.63 212.6,184.24 213.1,185.88 213.6,183.63 214.1,185.11 214.6,185.69 215.1,185.36 215.6,184.18 216.1,184.34 216.6,184.15 217.1,183.57 217.6,186.32 218.1,186.08 218.6,183.61 219.1,184.76 219.6,185.25 220.1,184.28 220.6,185.06 221.1,184.86 221.6,185.22 222.1,182.68 222.6,186.26 223.1,184.99 223.6,183.96 224.1,183.42 224.6,183.08 225.1,184.22 225.6,185.87 226.1,184.89 226.6,185.41 227.1,185.55 227.6,186.21 228.1,186.23 228.6,184.11 229.1,185.95 229.6,183.87 230.1,185.99 230.6,182.87 231.1,184.58 231.6,185.08 232.1,184.91 232.6,183.51 233.1,185.01 233.6,185.08 234.1,185.12 234.6,185.65 235.1,183.13 235.6,185.98 236.1,183.19 236.6,185.22 237.1,186.01 237.6,184.87 238.1,185.66 238.6,184.5 239.1,184.68 239.6,185.88 240.1,184.91 240.6,185.36 241.1,185.74 241.6,181.51 242.1,183.5 242.6,184.9 243.1,185.75 243.6,185.12 244.1,185.38 244.6,184.33 245.1,183.95 245.6,183.18 246.1,183.73 246.6,183.6 247.1,185.94 247.6,185.76 248.1,184.65 248.6,184.36 249.1,183.3 249.6,183.73 250.1,185.85 250.6,184.58 251.1,185.14 251.6,185.18 252.1,183.56 252.6,185.99 253.1,184.52 253.6,184.42 254.1,185.03 254.6,184.81 255.1,184.2 255.6,186.15 256.1,183.3 256.6,184.43 257.1,186.2 257.6,185.96 258.1,186.18 258.6,185.09 259.1,185.93 259.6,185.59 260.1,185.67 260.6,184.98 261.1,185.39 261.6,184.83 262.1,185.08 262.6,182.95 263.1,184.7" stroke="#1e1e1e" stroke-width="0.8" fill="none" stroke-linejoin="round" />
<text x="152.7" y="156.3" font-family="Liberation Sans" font-size="4.84" font-weight="normal" fill="#333" text-anchor="middle" >13.16</text>
<text x="226.65" y="174.7" font-family="Liberation Serif" font-size="7.2" font-weight="bold" fill="#000" text-anchor="start" textLength="26.9" lengthAdjust="spacingAndGlyphs" stroke="#000" stroke-width="0.2" >CCL3L1</text>
<line x1="32.6" y1="202.5" x2="32.6" y2="233.9" stroke="#4a4a4a" stroke-width="1.2" />
<line x1="32.1" y1="233.4" x2="264.5" y2="233.4" stroke="#4a4a4a" stroke-width="1.2" />
<line x1="30.6" y1="202.5" x2="32.6" y2="202.5" stroke="#4a4a4a" stroke-width="0.6" />
<text x="30.6" y="204.4" font-family="Liberation Sans" font-size="4.8" font-weight="normal" fill="#444" text-anchor="end" >100</text>
<text x="30.1" y="219.45" font-family="Liberation Sans" font-size="4.8" font-weight="normal" fill="#444" text-anchor="end" >%</text>
<text x="30.1" y="234.9" font-family="Liberation Sans" font-size="4.8" font-weight="normal" fill="#444" text-anchor="end" >0</text>
<path d="M31 230.31h1.6M31 227.22h1.6M31 224.13h1.6M31 221.04h1.6M31 217.95h1.6M31 214.86h1.6M31 211.77h1.6M31 208.68h1.6M31 205.59h1.6" stroke="#999" stroke-width="0.5"/>
<path d="M32.25 233.4v2.2M41.38 233.4v2.2M50.5 233.4v2.2M59.62 233.4v2.2M68.75 233.4v2.2M77.88 233.4v2.2M87 233.4v2.2M96.12 233.4v2.2M105.25 233.4v2.2M114.38 233.4v2.2M123.5 233.4v2.2M132.62 233.4v2.2M141.75 233.4v2.2M150.88 233.4v2.2M160 233.4v2.2M169.12 233.4v2.2M178.25 233.4v2.2M187.38 233.4v2.2M196.5 233.4v2.2M205.62 233.4v2.2M214.75 233.4v2.2M223.88 233.4v2.2M233 233.4v2.2M242.12 233.4v2.2M251.25 233.4v2.2M260.38 233.4v2.2" stroke="#999" stroke-width="0.5"/>
<polyline points="33.1,232.12 33.9,232.48 34.7,232.33 35.5,232.37 36.3,232.06 37.1,232.09 37.9,231.96 38.7,232.45 39.5,232.25 40.3,232.48 41.1,232.37 41.9,232.2 42.7,232.48 43.5,232.38 44.3,232.11 45.1,232.17 45.9,232.37 46.7,232.15 47.5,232.01 48.3,232.5 49.1,232.02 49.9,232.08 50.7,232.3 51.5,232.41 52.3,231.93 53.1,232.3 53.9,232.44 54.7,232.44 55.5,231.99 56.3,232.14 57.1,232.02 57.9,232.06 58.7,232.18 59.5,231.92 60.3,232.27 61.1,232.17 61.9,232 62.7,232.13 63.5,231.98 64.3,232.15 65.1,232.08 65.9,232.47 66.7,232.36 67.5,232.33 68.3,232.45 69.1,232.36 69.9,232.44 70.7,232.33 71.5,232.12 72.3,232.28 73.1,232.28 73.9,232.37 74.7,232.34 75.5,231.94 76.3,232.11 77.1,232.13 77.9,232.4 78.7,232.06 79.5,232.4 80.3,232.27 81.1,231.91 81.9,232.12 82.7,232.17 83.5,232.09 84.3,231.99 85.1,232.03 85.9,232.36 86.7,232.48 87.5,232.31 88.3,232.34 89.1,232.37 89.9,231.93 90.7,231.97 91.5,232.31 92.3,232.11 93.1,232.26 93.9,231.95 94.7,232.22 95.5,232.34 96.3,232.35 97.1,232.16 97.9,232.34 98.7,232.15 99.5,231.96 100.3,232.26 101.1,232.37 101.9,231.9 102.7,232.19 103.5,232.45 104.3,232.47 105.1,232.43 105.9,232.12 106.7,232.02 107.5,232.25 108.3,232.46 109.1,232.27 109.9,231.9 110.7,232.18 111.5,231.92 112.3,231.98 113.1,232.49 113.9,232.07 114.7,232.09 115.5,232.18 116.3,232.34 117.1,232.12 117.9,232.43 118.7,232.24 119.5,232.23 120.3,231.93 121.1,231.97 121.9,232.34 122.7,232.2 123.5,232.39 124.3,231.95 125.1,231.98 125.9,232.32 126.7,232.12 127.5,232.13 128.3,232.41 129.1,232.04 129.9,232.18 130.7,232.03 131.5,232.18 132.3,232.5 133.1,232.31 133.9,232.49 134.7,231.94 135.5,231.97 136.3,232 137.1,232.32 137.9,232.47 138.7,231.97 139.5,231.93 140.3,232.45 141.1,232.21 141.9,232.46 142.7,232.04 143.5,232.04 144.3,232.42 145.1,232.21 145.9,232.17 146.7,232.34 147.5,231.98 148.3,232.25 149.1,232.37 149.9,232.18 150.7,232.06 151.5,232.38 152.3,232.31 153.1,231.9 153.9,232.11 154.7,232.24 155.5,232.19 156.3,232.43 157.1,232.37 157.9,232.3 158.7,232.15 159.5,232.36 160.3,232.37 161.1,232.46 161.9,232.12 162.7,232.36 163.5,231.96 164.3,231.98 165.1,232.46 165.9,232.36 166.7,232.1 167.5,232.37 168.3,232.42 169.1,231.94 169.9,232.16 170.7,232.22 171.5,232.03 172.3,232.02 173.1,232.39 173.9,232.44 174.7,232.24 175.5,232.25 176.3,232.22 177.1,232.06 177.9,232.1 178.7,231.91 179.5,232.44 180.3,232.26 181.1,232.3 181.9,231.98 182.7,232.35 183.5,232.39 184.3,232.23 185.1,232.25 185.9,232.33 186.7,232.35 187.5,231.95 188.3,232.23 189.1,231.98 189.9,232.17 190.7,232.47 191.5,231.9 192.3,232 193.1,231.92 193.9,231.94 194.7,231.99 195.5,232.4 196.3,232.21 197.1,232.37 197.9,232.26 198.7,232.46 199.5,232.27 200.3,231.91 201.1,232.34 201.9,232.03 202.7,232.23 203.5,232.25 204.3,231.93 205.1,231.9 205.9,232.17 206.7,232.07 207.5,232.41 208.3,232.32 209.1,231.92 209.9,232.15 210.7,232.17 211.5,232.05 212.3,232.47 213.1,232.15 213.9,232.2 214.7,231.99 215.5,232.41 216.3,231.92 217.1,232.45 217.9,232.39 218.7,232.14 219.5,232.09 220.3,232.36 221.1,232.43 221.9,231.97 222.7,232.35 223.5,232.14 224.3,232.13 225.1,232.25 225.9,232.15 226.7,232.19 227.5,231.94 228.3,232.38 229.1,232.07 229.9,232.36 230.7,232.26 231.5,232.1 232.3,232.32 233.1,232.31 233.9,232.05 234.7,232.46 235.5,232.23 236.3,231.9 237.1,231.9 237.9,232.46 238.7,232.37 239.5,232.34 240.3,231.94 241.1,231.97 241.9,231.97 242.7,232.28 243.5,232.41 244.3,232 245.1,232.08 245.9,232.13 246.7,231.91 247.5,232.11 248.3,232.5 249.1,232.01 249.9,232.32 250.7,232.1 251.5,231.94 252.3,232.42 253.1,232.43 253.9,232.44 254.7,232.17 255.5,232.34 256.3,232.14 257.1,232.07 257.9,232.38 258.7,232.12 259.5,232.34 260.3,232.21 261.1,231.96 261.9,231.99 262.7,232.44" stroke="#333" stroke-width="0.9" fill="none" stroke-linejoin="round" />
<polyline points="47.9,233.4 49.5,203.5 51.1,233.4" stroke="#999" stroke-width="0.9" fill="none" stroke-linejoin="round" />
<polyline points="150,232.4 152,232.4 154,232.39 156,232.39 158,232.38 160,232.36 162,232.35 164,232.33 166,232.31 168,232.29 170,232.26 172,232.23 174,232.2 176,232.16 178,232.12 180,232.08 182,232.04 184,231.99 186,231.95 188,231.89 190,231.84 192,231.78 194,231.72 196,231.66 198,231.59 200,231.52 202,231.45 204,231.38 206,231.3 208,231.22 210,231.14 212,231.05 214,230.96 216,230.87 218,230.78 220,230.68 222,230.58 224,230.48 226,230.37 228,230.27 230,230.15 232,230.04 234,229.92 236,229.8 238,229.68 240,229.56 242,229.43 244,229.3 246,229.17 248,229.03 250,228.89 252,228.75 254,228.6 256,228.46 258,228.31 260,228.15 262,228 264,227.84" stroke="#777" stroke-width="1.1" fill="none" stroke-linejoin="round" />
<text x="192.95" y="221.8" font-family="Liberation Serif" font-size="7.2" font-weight="bold" fill="#000" text-anchor="start" textLength="76.1" lengthAdjust="spacingAndGlyphs" stroke="#000" stroke-width="0.2" >CCL3L1+ α-MIP-1α Ab</text>
<line x1="32.6" y1="248.75" x2="32.6" y2="280.1" stroke="#4a4a4a" stroke-width="1.2" />
<line x1="32.1" y1="279.6" x2="264.5" y2="279.6" stroke="#4a4a4a" stroke-width="1.2" />
<line x1="30.6" y1="248.75" x2="32.6" y2="248.75" stroke="#4a4a4a" stroke-width="0.6" />
<text x="30.6" y="250.65" font-family="Liberation Sans" font-size="4.8" font-weight="normal" fill="#444" text-anchor="end" >100</text>
<text x="30.1" y="265.68" font-family="Liberation Sans" font-size="4.8" font-weight="normal" fill="#444" text-anchor="end" >%</text>
<text x="30.1" y="281.1" font-family="Liberation Sans" font-size="4.8" font-weight="normal" fill="#444" text-anchor="end" >0</text>
<path d="M31 276.52h1.6M31 273.43h1.6M31 270.35h1.6M31 267.26h1.6M31 264.18h1.6M31 261.09h1.6M31 258h1.6M31 254.92h1.6M31 251.84h1.6" stroke="#999" stroke-width="0.5"/>
<path d="M32.25 279.6v2.2M41.38 279.6v2.2M50.5 279.6v2.2M59.62 279.6v2.2M68.75 279.6v2.2M77.88 279.6v2.2M87 279.6v2.2M96.12 279.6v2.2M105.25 279.6v2.2M114.38 279.6v2.2M123.5 279.6v2.2M132.62 279.6v2.2M141.75 279.6v2.2M150.88 279.6v2.2M160 279.6v2.2M169.12 279.6v2.2M178.25 279.6v2.2M187.38 279.6v2.2M196.5 279.6v2.2M205.62 279.6v2.2M214.75 279.6v2.2M223.88 279.6v2.2M233 279.6v2.2M242.12 279.6v2.2M251.25 279.6v2.2M260.38 279.6v2.2" stroke="#999" stroke-width="0.5"/>
<polyline points="33.1,278.2 33.6,278.52 34.1,277.94 34.6,278.89 35.1,277.98 35.6,279.16 36.1,278.36 36.6,277.3 37.1,277.8 37.6,278.14 38.1,278.59 38.6,279.17 39.1,278.75 39.6,278.47 40.1,276.22 40.6,278.25 41.1,278.31 41.6,278.83 42.1,278.37 42.6,278.83 43.1,278.46 43.6,279.03 44.1,278.08 44.6,278.9 45.1,278.35 45.6,278.14 46.1,278.88 46.6,278.65 47.1,279.24 47.6,278.75 48.1,278.41 48.6,277.95 49.1,278.59 49.6,278.6 50.1,278.19 50.6,278.22 51.1,278.37 51.6,278.55 52.1,278.7 52.6,278.38 53.1,277.67 53.6,278.52 54.1,277.74 54.6,277.58 55.1,278.01 55.6,278.39 56.1,278.42 56.6,278.53 57.1,277.5 57.6,278.51 58.1,278.89 58.6,277.93 59.1,278.22 59.6,278.63 60.1,278.25 60.6,278.86 61.1,277.97 61.6,279.12 62.1,278.85 62.6,278.66 63.1,279.26 63.6,278.88 64.1,277.98 64.6,278.88 65.1,278.01 65.6,278.27 66.1,278.03 66.6,277.89 67.1,278.16 67.6,277.89 68.1,278.69 68.6,278.87 69.1,279.12 69.6,277.46 70.1,277.81 70.6,278.82 71.1,278.1 71.6,277.95 72.1,278.71 72.6,278.15 73.1,278.9 73.6,279.02 74.1,277.58 74.6,278.73 75.1,278.43 75.6,279.22 76.1,278.83 76.6,278.74 77.1,278.35 77.6,278.03 78.1,278.31 78.6,278.24 79.1,278.07 79.6,278.45 80.1,277.59 80.6,278.15 81.1,278.12 81.6,278.18 82.1,279.02 82.6,279.17 83.1,279.12 83.6,277.58 84.1,277.23 84.6,278.5 85.1,278.09 85.6,278.68 86.1,278.5 86.6,277.53 87.1,278.4 87.6,277.72 88.1,278.81 88.6,277.8 89.1,278.15 89.6,278.6 90.1,278.48 90.6,278.5 91.1,278.36 91.6,278.3 92.1,278.62 92.6,278.57 93.1,278.59 93.6,278.7 94.1,278.86 94.6,278.68 95.1,278.04 95.6,278.39 96.1,278.3 96.6,279.12 97.1,278.16 97.6,278.32 98.1,278.87 98.6,278.52 99.1,277.72 99.6,278.55 100.1,278.15 100.6,278.12 101.1,277.94 101.6,278.49 102.1,276.37 102.6,278.05 103.1,278.75 103.6,278.63 104.1,278.79 104.6,278.4 105.1,278.37 105.6,278.55 106.1,277.39 106.6,278.82 107.1,277.93 107.6,278.07 108.1,277.82 108.6,278.36 109.1,279.18 109.6,278.51 110.1,278.72 110.6,277.83 111.1,277.9 111.6,279.2 112.1,277.93 112.6,278.13 113.1,278.08 113.6,277.59 114.1,278.59 114.6,279.2 115.1,277.78 115.6,278.66 116.1,278.36 116.6,278.15 117.1,278.14 117.6,277.74 118.1,277.78 118.6,279.21 119.1,278.98 119.6,278.62 120.1,278.28 120.6,278.36 121.1,277.37 121.6,278.46 122.1,278.73 122.6,279.16 123.1,278.39 123.6,277.83 124.1,278.67 124.6,278.5 125.1,278.73 125.6,279.09 126.1,277.9 126.6,278.41 127.1,277.43 127.6,277.93 128.1,278.71 128.6,278.75 129.1,278.82 129.6,277.93 130.1,278.84 130.6,277.71 131.1,278.19 131.6,278.59 132.1,278.47 132.6,278.89 133.1,278.65 133.6,278.83 134.1,277.27 134.6,278.64 135.1,278.85 135.6,278.93 136.1,277.69 136.6,278.48 137.1,278.33 137.6,278.31 138.1,279.09 138.6,278.62 139.1,277.95 139.6,278.91 140.1,279.15 140.6,278.96 141.1,278.46 141.6,279.04 142.1,278.1 142.6,278.27 143.1,277.2 143.6,278.87 144.1,278.21 144.6,278.61 145.1,279.27 145.6,278.45 146.1,278.26 146.6,277.93 147.1,279.05 147.6,278.14 148.1,278.46 148.6,277.52 149.1,278.23 149.6,279.14 150.1,278.32 150.6,278.91 151.1,279.04 151.6,278.53 152.1,276.69 152.6,272.39 153.1,265.04 153.6,256.37 154.1,250.58 154.6,250.9 155.1,255.84 155.6,263.01 156.1,266.53 156.6,270.05 157.1,273.3 157.6,275.82 158.1,274.87 158.6,275.05 159.1,275.93 159.6,276.14 160.1,276.85 160.6,277.56 161.1,277.48 161.6,278.08 162.1,277.46 162.6,278.1 163.1,278.22 163.6,277.63 164.1,278.07 164.6,277.79 165.1,278.47 165.6,276.66 166.1,278.85 166.6,277.39 167.1,278.85 167.6,278.73 168.1,277.69 168.6,278.38 169.1,278.92 169.6,278.01 170.1,278.99 170.6,278.59 171.1,278.48 171.6,278.95 172.1,278.85 172.6,278.49 173.1,278.47 173.6,278.85 174.1,278.08 174.6,279.01 175.1,278.55 175.6,277.86 176.1,277.74 176.6,278.02 177.1,278.17 177.6,278.55 178.1,278.45 178.6,277.62 179.1,277.71 179.6,279.09 180.1,278.02 180.6,278.38 181.1,277.92 181.6,278.65 182.1,278.83 182.6,278.64 183.1,279.26 183.6,277.96 184.1,278.58 184.6,277.97 185.1,278.23 185.6,278.67 186.1,278.43 186.6,278.85 187.1,278.41 187.6,278.45 188.1,278.33 188.6,277.81 189.1,279.09 189.6,278.43 190.1,278.28 190.6,278.45 191.1,278.59 191.6,278.73 192.1,278.05 192.6,278.67 193.1,277.8 193.6,277.71 194.1,278.87 194.6,278.33 195.1,279.23 195.6,277.88 196.1,278.44 196.6,277.72 197.1,279.28 197.6,278.55 198.1,279.19 198.6,279.19 199.1,277.62 199.6,277.42 200.1,277.37 200.6,277.35 201.1,278.84 201.6,278.69 202.1,279.11 202.6,277.4 203.1,278.25 203.6,277.77 204.1,277.16 204.6,277.72 205.1,277.84 205.6,278.07 206.1,278.73 206.6,278.09 207.1,277.19 207.6,277.75 208.1,276.99 208.6,277.4 209.1,277.22 209.6,277.4 210.1,277.73 210.6,277.03 211.1,276.91 211.6,277.97 212.1,277.7 212.6,277.64 213.1,278.18 213.6,276.4 214.1,277.21 214.6,277.25 215.1,276.78 215.6,278.18 216.1,276.39 216.6,276.16 217.1,276.21 217.6,276.74 218.1,276.65 218.6,276.56 219.1,277.66 219.6,276.14 220.1,276.94 220.6,276.77 221.1,276.86 221.6,277.58 222.1,277.46 222.6,275.12 223.1,275.86 223.6,275.86 224.1,277.58 224.6,277.58 225.1,276.29 225.6,275.9 226.1,276.82 226.6,276.19 227.1,273.47 227.6,273.9 228.1,277.14 228.6,276.79 229.1,275.04 229.6,274.26 230.1,276.69 230.6,276.47 231.1,277.7 231.6,276.5 232.1,277.49 232.6,274.37 233.1,276.1 233.6,274.13 234.1,276.85 234.6,274.14 235.1,275.43 235.6,277.26 236.1,275.6 236.6,276.44 237.1,276.91 237.6,277.1 238.1,275.28 238.6,275.62 239.1,274.62 239.6,272.02 240.1,276.23 240.6,274.42 241.1,277.18 241.6,272.67 242.1,276.58 242.6,275.45 243.1,275.13 243.6,277.02 244.1,274.77 244.6,277.26 245.1,273.35 245.6,273.71 246.1,272.28 246.6,273.71 247.1,274.42 247.6,276.83 248.1,275.63 248.6,272.87 249.1,273.7 249.6,274.38 250.1,275.86 250.6,276.1 251.1,276.48 251.6,271.92 252.1,275.19 252.6,273.49 253.1,273.59 253.6,273.25 254.1,275.1 254.6,275.5 255.1,274.97 255.6,273.18 256.1,269.84 256.6,274.25 257.1,275.87 257.6,274.87 258.1,274.93 258.6,270.51 259.1,272.12 259.6,270.47 260.1,268.29 260.6,268.17 261.1,271.15 261.6,272.59 262.1,274.45 262.6,270.49 263.1,274.73" stroke="#8a8a8a" stroke-width="0.8" fill="none" stroke-linejoin="round" />
<polyline points="33.1,279.14 33.6,278.8 34.1,277.72 34.6,278.79 35.1,278.04 35.6,279.05 36.1,278.4 36.6,278.57 37.1,277.24 37.6,278.17 38.1,278.79 38.6,277.9 39.1,278.55 39.6,279.08 40.1,277.98 40.6,278.01 41.1,278.46 41.6,278.51 42.1,278.4 42.6,278.85 43.1,277.97 43.6,278.18 44.1,279.03 44.6,278.58 45.1,279.17 45.6,278.16 46.1,279.16 46.6,278 47.1,278.41 47.6,277.78 48.1,277.83 48.6,277.87 49.1,277.43 49.6,278.7 50.1,278.31 50.6,279.15 51.1,278.82 51.6,278.3 52.1,279.09 52.6,278.61 53.1,277.69 53.6,278.54 54.1,278.79 54.6,278.24 55.1,278.78 55.6,278.42 56.1,278.55 56.6,278.68 57.1,279.23 57.6,275.88 58.1,278.02 58.6,278.4 59.1,277.18 59.6,278.33 60.1,277.9 60.6,278.68 61.1,278.66 61.6,277.56 62.1,278.33 62.6,277.91 63.1,279.17 63.6,278.46 64.1,277.87 64.6,278.02 65.1,276.04 65.6,278.92 66.1,278.75 66.6,278.16 67.1,278.53 67.6,277.57 68.1,277.77 68.6,278.84 69.1,278.92 69.6,279.13 70.1,278.88 70.6,278.59 71.1,278.04 71.6,278.28 72.1,278.76 72.6,278.89 73.1,279.15 73.6,278.82 74.1,278.39 74.6,278.84 75.1,278.09 75.6,276.37 76.1,278.58 76.6,279.08 77.1,278.81 77.6,278.24 78.1,278.73 78.6,278.36 79.1,278.19 79.6,278.46 80.1,277.48 80.6,278.32 81.1,278.45 81.6,278.71 82.1,277.95 82.6,278.4 83.1,279.03 83.6,277.83 84.1,277.86 84.6,278.87 85.1,278.78 85.6,278.6 86.1,278.66 86.6,278.79 87.1,279.04 87.6,278.45 88.1,278.33 88.6,278.29 89.1,279.16 89.6,277.45 90.1,278.37 90.6,277.73 91.1,277.81 91.6,278.35 92.1,278.13 92.6,277.8 93.1,278.23 93.6,278.49 94.1,278.35 94.6,278.51 95.1,277.63 95.6,278.74 96.1,278.98 96.6,277.95 97.1,278.31 97.6,278.53 98.1,278.72 98.6,278.93 99.1,279.21 99.6,277.99 100.1,279.15 100.6,278.39 101.1,278.36 101.6,278.84 102.1,278.27 102.6,278.62 103.1,278.63 103.6,278.81 104.1,278.75 104.6,279.02 105.1,278.15 105.6,279.01 106.1,278.2 106.6,277.7 107.1,278.5 107.6,278.68 108.1,278.19 108.6,278.34 109.1,279.17 109.6,278.44 110.1,278.73 110.6,278.56 111.1,278.09 111.6,278.59 112.1,278.58 112.6,278.88 113.1,278.52 113.6,279.08 114.1,278.22 114.6,278.51 115.1,278.77 115.6,278.55 116.1,278.42 116.6,277.75 117.1,278.16 117.6,278.5 118.1,278.59 118.6,278.06 119.1,278.39 119.6,278.17 120.1,277.92 120.6,277.56 121.1,278.45 121.6,278.6 122.1,277.3 122.6,278.41 123.1,278.62 123.6,279.12 124.1,278.39 124.6,278.12 125.1,279.01 125.6,279.17 126.1,278.56 126.6,277.94 127.1,279.07 127.6,278.48 128.1,278.73 128.6,277.35 129.1,278.6 129.6,278.09 130.1,278.84 130.6,278.39 131.1,278.74 131.6,278.78 132.1,278.78 132.6,278.04 133.1,278.8 133.6,278.19 134.1,278.38 134.6,278.32 135.1,277.37 135.6,278.63 136.1,279 136.6,278.53 137.1,278.09 137.6,278.22 138.1,278.76 138.6,278.26 139.1,278.39 139.6,277.82 140.1,277.96 140.6,278.64 141.1,277.85 141.6,277.55 142.1,279.17 142.6,278.1 143.1,278.82 143.6,278.39 144.1,278.28 144.6,277.86 145.1,278.72 145.6,278.15 146.1,278.49 146.6,277.44 147.1,278.94 147.6,278.32 148.1,278.32 148.6,277.53 149.1,278.4 149.6,278.08 150.1,279.08 150.6,279.11 151.1,278.47 151.6,278.53 152.1,276.69 152.6,272.39 153.1,265.04 153.6,256.37 154.1,250.58 154.6,250.9 155.1,255.84 155.6,263.01 156.1,266.53 156.6,270.05 157.1,273.3 157.6,275.78 158.1,275.34 158.6,275.34 159.1,276.94 159.6,275.93 160.1,277.79 160.6,277.78 161.1,277.04 161.6,277.32 162.1,277.3 162.6,278.38 163.1,277.83 163.6,278.06 164.1,278.5 164.6,278.69 165.1,278.3 165.6,277.45 166.1,278.22 166.6,278.82 167.1,278.58 167.6,278.84 168.1,278.56 168.6,277.37 169.1,277.56 169.6,277.53 170.1,278.23 170.6,278.39 171.1,278.63 171.6,278.17 172.1,278.97 172.6,278.55 173.1,279.06 173.6,278.07 174.1,278.83 174.6,278.79 175.1,277.34 175.6,277.55 176.1,278.09 176.6,279.24 177.1,278.54 177.6,278.88 178.1,278.67 178.6,279.08 179.1,275.79 179.6,277.75 180.1,278.42 180.6,278.35 181.1,278.49 181.6,278.56 182.1,278.62 182.6,277.66 183.1,278.31 183.6,279.22 184.1,278.53 184.6,278.28 185.1,276.17 185.6,278.42 186.1,278.24 186.6,277.76 187.1,277.81 187.6,277.84 188.1,278.77 188.6,278.09 189.1,278.75 189.6,278.62 190.1,278.81 190.6,277.98 191.1,278.88 191.6,278.83 192.1,278.8 192.6,278.52 193.1,278.76 193.6,278.29 194.1,277.82 194.6,278.37 195.1,278.47 195.6,278.13 196.1,278.79 196.6,278.14 197.1,279.08 197.6,279.21 198.1,277.94 198.6,277.51 199.1,278.24 199.6,277.81 200.1,278.38 200.6,277.92 201.1,277.64 201.6,278.13 202.1,277.97 202.6,279.13 203.1,277.26 203.6,278.41 204.1,278.26 204.6,278.26 205.1,277.4 205.6,277.74 206.1,277.82 206.6,278 207.1,277.12 207.6,274.71 208.1,278.83 208.6,277.4 209.1,278.1 209.6,276.96 210.1,277.02 210.6,276.79 211.1,277.17 211.6,277.15 212.1,276.92 212.6,278.67 213.1,278.75 213.6,278.52 214.1,277.54 214.6,277.59 215.1,276.7 215.6,275.38 216.1,278.08 216.6,276.95 217.1,277.18 217.6,276.42 218.1,278.02 218.6,277.51 219.1,276.4 219.6,276.88 220.1,276.28 220.6,278.23 221.1,275.92 221.6,275.55 222.1,277.46 222.6,277.82 223.1,274.77 223.6,274.11 224.1,276.86 224.6,274.98 225.1,277.83 225.6,276.18 226.1,277.37 226.6,276.12 227.1,273.85 227.6,275.27 228.1,277.45 228.6,275.54 229.1,276.83 229.6,276.6 230.1,277.09 230.6,274.36 231.1,277.99 231.6,276.2 232.1,274.94 232.6,275.27 233.1,275.9 233.6,277.82 234.1,275.3 234.6,276.2 235.1,276.61 235.6,277.44 236.1,277.1 236.6,271.6 237.1,271.18 237.6,274.93 238.1,277.75 238.6,274.95 239.1,270.5 239.6,272.91 240.1,277.02 240.6,273.21 241.1,276.1 241.6,276.96 242.1,277.22 242.6,276.4 243.1,273.29 243.6,273.99 244.1,274.13 244.6,276.48 245.1,272.97 245.6,275.66 246.1,268.92 246.6,272.25 247.1,276.85 247.6,275.95 248.1,272.56 248.6,275.89 249.1,269.55 249.6,274.5 250.1,271.99 250.6,276.39 251.1,270.92 251.6,273.54 252.1,276.73 252.6,275.04 253.1,274.17 253.6,276.69 254.1,273.11 254.6,274 255.1,276.37 255.6,270 256.1,274.2 256.6,272.98 257.1,268.99 257.6,276.48 258.1,273.57 258.6,273.02 259.1,273.84 259.6,273.57 260.1,275.95 260.6,273.95 261.1,271.64 261.6,275.98 262.1,270.84 262.6,273.85 263.1,273.56" stroke="#1e1e1e" stroke-width="0.8" fill="none" stroke-linejoin="round" />
<text x="154.5" y="248.8" font-family="Liberation Sans" font-size="4.84" font-weight="normal" fill="#333" text-anchor="middle" >13.45</text>
<text x="192.95" y="260.1" font-family="Liberation Serif" font-size="7.2" font-weight="bold" fill="#000" text-anchor="start" textLength="64.3" lengthAdjust="spacingAndGlyphs" stroke="#000" stroke-width="0.2" >CCL3 + α-CCL4 Ab</text>
<line x1="32.6" y1="296.25" x2="32.6" y2="327.5" stroke="#4a4a4a" stroke-width="1.2" />
<line x1="32.1" y1="327" x2="264.5" y2="327" stroke="#4a4a4a" stroke-width="1.2" />
<line x1="30.6" y1="296.25" x2="32.6" y2="296.25" stroke="#4a4a4a" stroke-width="0.6" />
<text x="30.6" y="298.15" font-family="Liberation Sans" font-size="4.8" font-weight="normal" fill="#444" text-anchor="end" >100</text>
<text x="30.1" y="313.12" font-family="Liberation Sans" font-size="4.8" font-weight="normal" fill="#444" text-anchor="end" >%</text>
<text x="30.1" y="328.5" font-family="Liberation Sans" font-size="4.8" font-weight="normal" fill="#444" text-anchor="end" >0</text>
<path d="M31 323.93h1.6M31 320.85h1.6M31 317.77h1.6M31 314.7h1.6M31 311.62h1.6M31 308.55h1.6M31 305.48h1.6M31 302.4h1.6M31 299.32h1.6" stroke="#999" stroke-width="0.5"/>
<path d="M32.25 327v2.2M41.38 327v2.2M50.5 327v2.2M59.62 327v2.2M68.75 327v2.2M77.88 327v2.2M87 327v2.2M96.12 327v2.2M105.25 327v2.2M114.38 327v2.2M123.5 327v2.2M132.62 327v2.2M141.75 327v2.2M150.88 327v2.2M160 327v2.2M169.12 327v2.2M178.25 327v2.2M187.38 327v2.2M196.5 327v2.2M205.62 327v2.2M214.75 327v2.2M223.88 327v2.2M233 327v2.2M242.12 327v2.2M251.25 327v2.2M260.38 327v2.2" stroke="#999" stroke-width="0.5"/>
<polyline points="33.1,326.31 33.6,326.38 34.1,326.37 34.6,326.62 35.1,326.21 35.6,326.37 36.1,325.78 36.6,325.7 37.1,325.81 37.6,326.24 38.1,326.36 38.6,326.21 39.1,325.94 39.6,326.58 40.1,326.5 40.6,326.58 41.1,326.37 41.6,326.61 42.1,326.5 42.6,326.35 43.1,326.08 43.6,326.42 44.1,326.48 44.6,326.09 45.1,325.79 45.6,326.62 46.1,325.78 46.6,326.4 47.1,326.05 47.6,326.6 48.1,326.44 48.6,326.49 49.1,325.86 49.6,326.12 50.1,326.33 50.6,326.57 51.1,325.58 51.6,326.04 52.1,326.71 52.6,326.11 53.1,326.24 53.6,326.49 54.1,326.6 54.6,326.49 55.1,326.78 55.6,326.14 56.1,326.42 56.6,326.09 57.1,326.63 57.6,326.74 58.1,326.51 58.6,326.67 59.1,326.04 59.6,326.35 60.1,325.77 60.6,326.53 61.1,326.56 61.6,325.8 62.1,326.31 62.6,325.99 63.1,326.5 63.6,326.23 64.1,326.51 64.6,326.36 65.1,326.35 65.6,326.09 66.1,326.04 66.6,326.66 67.1,326.4 67.6,326.43 68.1,326.31 68.6,325.69 69.1,325.64 69.6,326.38 70.1,326.27 70.6,326.46 71.1,326.75 71.6,326.57 72.1,325.95 72.6,326.05 73.1,326.36 73.6,326.75 74.1,325.76 74.6,325.1 75.1,326.35 75.6,326.78 76.1,326.42 76.6,325.5 77.1,326.56 77.6,325.74 78.1,325.89 78.6,326.41 79.1,326.44 79.6,326.48 80.1,326.02 80.6,326.34 81.1,325.93 81.6,326.43 82.1,326.03 82.6,326.36 83.1,326.15 83.6,326.11 84.1,326.65 84.6,326.53 85.1,326.58 85.6,326.39 86.1,326.52 86.6,326.53 87.1,326.77 87.6,325.72 88.1,325.86 88.6,325.88 89.1,325.48 89.6,326.54 90.1,326.23 90.6,326.38 91.1,326.43 91.6,326.03 92.1,326.27 92.6,326.58 93.1,326.42 93.6,326.46 94.1,326.52 94.6,326.79 95.1,326.56 95.6,326.16 96.1,326.79 96.6,326.57 97.1,325.06 97.6,325.93 98.1,325.93 98.6,325.87 99.1,326.07 99.6,326.74 100.1,326.19 100.6,326.45 101.1,326.03 101.6,326.09 102.1,325.93 102.6,326 103.1,326.48 103.6,326.71 104.1,326.39 104.6,325.83 105.1,326.69 105.6,326.19 106.1,326.71 106.6,325.98 107.1,325.93 107.6,326.71 108.1,326.08 108.6,326.03 109.1,326.47 109.6,326.46 110.1,326.07 110.6,326.66 111.1,325.77 111.6,326.38 112.1,326.62 112.6,326.03 113.1,326.48 113.6,326.15 114.1,326.66 114.6,326.1 115.1,326 115.6,325.86 116.1,326.55 116.6,326.28 117.1,326.63 117.6,326.5 118.1,326.38 118.6,326.63 119.1,326.2 119.6,325.9 120.1,326.47 120.6,326.18 121.1,326.53 121.6,326.36 122.1,326.54 122.6,326.61 123.1,326.21 123.6,325.91 124.1,326.29 124.6,326.32 125.1,326.31 125.6,325.82 126.1,325.81 126.6,326.55 127.1,326.17 127.6,325.92 128.1,326.55 128.6,326.69 129.1,326.4 129.6,326.64 130.1,326.58 130.6,326.76 131.1,326.04 131.6,325.89 132.1,326.61 132.6,325.45 133.1,326.39 133.6,326.41 134.1,326.74 134.6,326.25 135.1,325.97 135.6,326.67 136.1,326.61 136.6,326.58 137.1,326.3 137.6,326.3 138.1,326.57 138.6,326.4 139.1,326.67 139.6,326.49 140.1,326.14 140.6,326.11 141.1,326.39 141.6,326.37 142.1,326.58 142.6,325.78 143.1,326.34 143.6,326.22 144.1,326.38 144.6,325.75 145.1,325.87 145.6,326.53 146.1,326.52 146.6,326.28 147.1,326.55 147.6,326.16 148.1,326.46 148.6,326.44 149.1,326.62 149.6,326.22 150.1,326.36 150.6,326.51 151.1,326.36 151.6,326.64 152.1,326.27 152.6,325.1 153.1,321.82 153.6,315.43 154.1,306.59 154.6,298.83 155.1,296.61 155.6,300.06 156.1,306.89 156.6,312.24 157.1,315.77 157.6,319.33 158.1,322.27 158.6,322.32 159.1,323.72 159.6,324.87 160.1,323.29 160.6,323.74 161.1,325.01 161.6,324.85 162.1,325.75 162.6,325.3 163.1,325.38 163.6,325.7 164.1,325.5 164.6,326.12 165.1,326.16 165.6,325.89 166.1,326.2 166.6,326 167.1,326.06 167.6,326.26 168.1,325.84 168.6,325.86 169.1,325.56 169.6,326.49 170.1,326.52 170.6,326.46 171.1,326.27 171.6,326.46 172.1,326.18 172.6,326.23 173.1,326.18 173.6,326.51 174.1,326.06 174.6,326.15 175.1,326.07 175.6,325.76 176.1,326.34 176.6,326.26 177.1,325.92 177.6,326.36 178.1,325.91 178.6,326.36 179.1,326.29 179.6,326.11 180.1,326.66 180.6,326.5 181.1,325.06 181.6,326.73 182.1,326.21 182.6,326.64 183.1,326.27 183.6,326.44 184.1,326.17 184.6,326.32 185.1,325.83 185.6,326.76 186.1,325.99 186.6,326.75 187.1,326.29 187.6,326.13 188.1,326.48 188.6,326.14 189.1,325.98 189.6,326.57 190.1,326.09 190.6,326.57 191.1,325.69 191.6,326.06 192.1,326.5 192.6,325.87 193.1,326.37 193.6,326.33 194.1,325.89 194.6,326.18 195.1,326.48 195.6,326.49 196.1,326.61 196.6,326.38 197.1,326.61 197.6,326.22 198.1,326.49 198.6,326.55 199.1,326.28 199.6,326.67 200.1,326.55 200.6,325.57 201.1,326.28 201.6,326.57 202.1,326.45 202.6,326.18 203.1,326.15 203.6,325.77 204.1,326.61 204.6,326.38 205.1,326.05 205.6,325.71 206.1,326.63 206.6,326.27 207.1,326.46 207.6,326.35 208.1,326.58 208.6,326.33 209.1,326.29 209.6,326.56 210.1,326.22 210.6,326.07 211.1,326.39 211.6,326.25 212.1,326.12 212.6,326.71 213.1,326.69 213.6,326.34 214.1,326.57 214.6,326.33 215.1,325.79 215.6,326.38 216.1,325.82 216.6,326.24 217.1,326.76 217.6,326.16 218.1,325.96 218.6,325.93 219.1,326.46 219.6,325.92 220.1,326.65 220.6,326.15 221.1,326.31 221.6,326.02 222.1,325.99 222.6,326.14 223.1,326.18 223.6,325.81 224.1,326.15 224.6,326.38 225.1,325.71 225.6,326.52 226.1,326.35 226.6,324.87 227.1,326.54 227.6,326.56 228.1,326.55 228.6,325.04 229.1,326.5 229.6,326.29 230.1,326.19 230.6,325.42 231.1,325.04 231.6,323.73 232.1,325.12 232.6,325.57 233.1,325.01 233.6,324.74 234.1,325.63 234.6,326.54 235.1,325.19 235.6,326.58 236.1,326.1 236.6,326.64 237.1,326.2 237.6,326.07 238.1,326.15 238.6,326.45 239.1,325.72 239.6,326.32 240.1,326.41 240.6,326.05 241.1,325.64 241.6,326.5 242.1,325.64 242.6,326.33 243.1,326.24 243.6,325.94 244.1,326.68 244.6,326.1 245.1,325.81 245.6,326.48 246.1,325.69 246.6,326.19 247.1,326.36 247.6,324.16 248.1,325.71 248.6,325.97 249.1,325.86 249.6,326.07 250.1,326.38 250.6,326.69 251.1,326.03 251.6,326.2 252.1,326.08 252.6,326.31 253.1,326.45 253.6,326.51 254.1,326.42 254.6,326.42 255.1,326.52 255.6,326.08 256.1,326.21 256.6,325.9 257.1,326.44 257.6,325.85 258.1,326.52 258.6,326.14 259.1,326.04 259.6,326.05 260.1,326.45 260.6,326.6 261.1,326.11 261.6,326.37 262.1,326.18 262.6,325.56 263.1,326.52" stroke="#8a8a8a" stroke-width="0.8" fill="none" stroke-linejoin="round" />
<polyline points="33.1,325.66 33.6,326.54 34.1,326.52 34.6,326.34 35.1,326.47 35.6,326.17 36.1,324.95 36.6,325.83 37.1,326.44 37.6,326.39 38.1,326.42 38.6,326.12 39.1,326.54 39.6,326.55 40.1,326 40.6,326.23 41.1,326.25 41.6,326.61 42.1,325.83 42.6,326.22 43.1,326.53 43.6,326.63 44.1,325.69 44.6,326.07 45.1,326.19 45.6,326.4 46.1,326.65 46.6,326.38 47.1,326.66 47.6,326.46 48.1,326.36 48.6,326.19 49.1,326.15 49.6,326.05 50.1,326.47 50.6,326.08 51.1,325.97 51.6,326.18 52.1,326.69 52.6,326.47 53.1,326.28 53.6,325.12 54.1,326.63 54.6,326.22 55.1,326.19 55.6,326.26 56.1,326.41 56.6,325.7 57.1,325.81 57.6,326.38 58.1,326.5 58.6,326.15 59.1,326.34 59.6,326.43 60.1,326.61 60.6,326.55 61.1,326.25 61.6,326.49 62.1,325.65 62.6,325.59 63.1,326.16 63.6,326.55 64.1,326.63 64.6,326.45 65.1,326.41 65.6,326.7 66.1,325.97 66.6,326 67.1,326.37 67.6,326.33 68.1,326.54 68.6,325.94 69.1,326.21 69.6,326.33 70.1,325.62 70.6,326.37 71.1,325.1 71.6,326.44 72.1,325.94 72.6,326.18 73.1,326.33 73.6,326.1 74.1,326.21 74.6,326.12 75.1,325.88 75.6,326.1 76.1,326.7 76.6,326.38 77.1,326 77.6,326.35 78.1,326.51 78.6,326.67 79.1,326.19 79.6,326.25 80.1,326.5 80.6,326.52 81.1,326.37 81.6,325.72 82.1,326.52 82.6,325.87 83.1,326.53 83.6,326.54 84.1,326.6 84.6,325.72 85.1,326.41 85.6,326.13 86.1,325.84 86.6,325.88 87.1,326.72 87.6,325.82 88.1,326.47 88.6,326.02 89.1,325.97 89.6,326.35 90.1,325.71 90.6,326.44 91.1,326.48 91.6,326.51 92.1,326.28 92.6,326.21 93.1,326.07 93.6,326 94.1,325.99 94.6,325.7 95.1,326.04 95.6,326.36 96.1,326.55 96.6,326.23 97.1,326.26 97.6,324.71 98.1,326.51 98.6,326.05 99.1,325.57 99.6,325.91 100.1,326.41 100.6,326.36 101.1,326 101.6,326.27 102.1,326.45 102.6,325.98 103.1,325.73 103.6,325.61 104.1,326.46 104.6,326.17 105.1,325.88 105.6,326.27 106.1,326.59 106.6,326.62 107.1,326.57 107.6,325.87 108.1,326.54 108.6,325.86 109.1,326.51 109.6,326.43 110.1,326.18 110.6,325.79 111.1,326.37 111.6,326.11 112.1,326.68 112.6,326.17 113.1,326.69 113.6,326.34 114.1,326.26 114.6,326.23 115.1,326.22 115.6,325.72 116.1,326.14 116.6,325.92 117.1,326.05 117.6,325.06 118.1,326.11 118.6,326.35 119.1,324.92 119.6,326.46 120.1,326.38 120.6,326.18 121.1,326.63 121.6,326.79 122.1,326.11 122.6,326.6 123.1,326.54 123.6,326.63 124.1,326.74 124.6,326.1 125.1,326.47 125.6,326.61 126.1,326.66 126.6,325.82 127.1,326.64 127.6,326.68 128.1,326.49 128.6,326.07 129.1,326.73 129.6,326.04 130.1,326.62 130.6,324.08 131.1,326.01 131.6,326.1 132.1,326.37 132.6,325.79 133.1,325.99 133.6,326.24 134.1,326.56 134.6,325.95 135.1,326.43 135.6,326.67 136.1,326.74 136.6,326.68 137.1,326.7 137.6,325.9 138.1,326.37 138.6,326.5 139.1,326.48 139.6,325.62 140.1,325.78 140.6,326.53 141.1,326.5 141.6,326.24 142.1,326.52 142.6,325.83 143.1,326.67 143.6,326.02 144.1,325.81 144.6,325.91 145.1,326.76 145.6,325.97 146.1,326.53 146.6,326.44 147.1,326.31 147.6,326.53 148.1,326.54 148.6,326.13 149.1,326.58 149.6,326.21 150.1,326.49 150.6,326.16 151.1,326.5 151.6,326.21 152.1,326.32 152.6,325.1 153.1,321.82 153.6,315.43 154.1,306.59 154.6,298.83 155.1,296.61 155.6,300.06 156.1,306.89 156.6,312.24 157.1,315.77 157.6,319.33 158.1,322.27 158.6,322.48 159.1,324.19 159.6,323.08 160.1,325.01 160.6,324.72 161.1,325.08 161.6,324.91 162.1,325.03 162.6,324.74 163.1,325.59 163.6,325.66 164.1,325.61 164.6,325.58 165.1,326 165.6,326.28 166.1,326.17 166.6,326.21 167.1,326.14 167.6,325.34 168.1,326.24 168.6,325.4 169.1,325.64 169.6,326.3 170.1,326.56 170.6,326.55 171.1,326.02 171.6,326.53 172.1,325.85 172.6,326.55 173.1,325.43 173.6,326.48 174.1,326.4 174.6,326.55 175.1,326.17 175.6,326.73 176.1,326.22 176.6,326.43 177.1,326.4 177.6,326.09 178.1,326.3 178.6,323.74 179.1,325.95 179.6,325.97 180.1,326.68 180.6,326.09 181.1,326.48 181.6,326.18 182.1,326.07 182.6,326.51 183.1,325.6 183.6,326.02 184.1,326.36 184.6,326.34 185.1,326.47 185.6,326.68 186.1,326.51 186.6,326.69 187.1,326.01 187.6,326.3 188.1,326.52 188.6,326.43 189.1,326.5 189.6,326.67 190.1,326.44 190.6,326.19 191.1,326.37 191.6,326.4 192.1,326.76 192.6,326.33 193.1,326.64 193.6,326.32 194.1,326.27 194.6,326.57 195.1,326.43 195.6,326.24 196.1,326.25 196.6,326.39 197.1,326.59 197.6,326.27 198.1,325.96 198.6,326.32 199.1,326.4 199.6,326.3 200.1,326.59 200.6,326.36 201.1,326.12 201.6,324.13 202.1,325.85 202.6,325.81 203.1,325.94 203.6,326.74 204.1,326.24 204.6,326.09 205.1,326.27 205.6,326.79 206.1,325.91 206.6,326.33 207.1,326.66 207.6,326.56 208.1,326.03 208.6,324.77 209.1,326.62 209.6,326.26 210.1,326.23 210.6,326.71 211.1,325.32 211.6,326.43 212.1,326.21 212.6,325.88 213.1,326.29 213.6,323.99 214.1,326.66 214.6,326.3 215.1,325.8 215.6,326.3 216.1,326.31 216.6,326.35 217.1,326.32 217.6,326.04 218.1,326.17 218.6,326.35 219.1,326.7 219.6,326.33 220.1,325.64 220.6,326.59 221.1,325.86 221.6,326.21 222.1,325.92 222.6,326.11 223.1,326.15 223.6,326.37 224.1,326.74 224.6,326.54 225.1,325.68 225.6,325.95 226.1,326.47 226.6,326.13 227.1,326.33 227.6,326.76 228.1,326.12 228.6,325.54 229.1,325.96 229.6,326.59 230.1,325.54 230.6,326.23 231.1,326.12 231.6,323.66 232.1,325.6 232.6,323.73 233.1,324.94 233.6,325.9 234.1,325.37 234.6,325.8 235.1,326.02 235.6,326.42 236.1,326.06 236.6,326.31 237.1,326.32 237.6,326 238.1,325.96 238.6,326.45 239.1,326.44 239.6,326.39 240.1,325.92 240.6,326.29 241.1,326.27 241.6,326.47 242.1,326.14 242.6,326.29 243.1,326.16 243.6,325.97 244.1,326.26 244.6,326.36 245.1,326.78 245.6,324.71 246.1,326.52 246.6,324.77 247.1,326.49 247.6,326.65 248.1,325.58 248.6,326.75 249.1,326.27 249.6,326.14 250.1,326.39 250.6,326.56 251.1,326.33 251.6,326.45 252.1,326.22 252.6,326.58 253.1,325.56 253.6,326.3 254.1,326.07 254.6,326.56 255.1,326.56 255.6,326.32 256.1,326 256.6,326.72 257.1,326.13 257.6,326.31 258.1,326.41 258.6,326.2 259.1,326.3 259.6,326.79 260.1,326.56 260.6,326.54 261.1,326.52 261.6,325.41 262.1,326.26 262.6,325.91 263.1,325.88" stroke="#1e1e1e" stroke-width="0.8" fill="none" stroke-linejoin="round" />
<text x="155.2" y="295.3" font-family="Liberation Sans" font-size="4.84" font-weight="normal" fill="#333" text-anchor="middle" >13.33</text>
<text x="192.95" y="314.2" font-family="Liberation Serif" font-size="7.2" font-weight="bold" fill="#000" text-anchor="start" textLength="73.2" lengthAdjust="spacingAndGlyphs" stroke="#000" stroke-width="0.2" >CCL3L1 + α-CCL4 Ab</text>
<rect x="24.3" y="81.8" width="1.8" height="1.6" fill="#222"/>
<text x="50.5" y="334.3" font-family="Liberation Sans" font-size="4.73" font-weight="normal" fill="#555" text-anchor="middle" >2.00</text>
<text x="68.75" y="334.3" font-family="Liberation Sans" font-size="4.73" font-weight="normal" fill="#555" text-anchor="middle" >4.00</text>
<text x="87" y="334.3" font-family="Liberation Sans" font-size="4.73" font-weight="normal" fill="#555" text-anchor="middle" >6.00</text>
<text x="105.25" y="334.3" font-family="Liberation Sans" font-size="4.73" font-weight="normal" fill="#555" text-anchor="middle" >8.00</text>
<text x="123.5" y="334.3" font-family="Liberation Sans" font-size="4.73" font-weight="normal" fill="#555" text-anchor="middle" >10.00</text>
<text x="141.75" y="334.3" font-family="Liberation Sans" font-size="4.73" font-weight="normal" fill="#555" text-anchor="middle" >12.00</text>
<text x="160" y="334.3" font-family="Liberation Sans" font-size="4.73" font-weight="normal" fill="#555" text-anchor="middle" >14.00</text>
<text x="178.25" y="334.3" font-family="Liberation Sans" font-size="4.73" font-weight="normal" fill="#555" text-anchor="middle" >16.00</text>
<text x="196.5" y="334.3" font-family="Liberation Sans" font-size="4.73" font-weight="normal" fill="#555" text-anchor="middle" >18.00</text>
<text x="214.75" y="334.3" font-family="Liberation Sans" font-size="4.73" font-weight="normal" fill="#555" text-anchor="middle" >20.00</text>
<text x="233" y="334.3" font-family="Liberation Sans" font-size="4.73" font-weight="normal" fill="#555" text-anchor="middle" >22.00</text>
<text x="251.25" y="334.3" font-family="Liberation Sans" font-size="4.73" font-weight="normal" fill="#555" text-anchor="middle" >24.00</text>
<text x="266" y="327" font-family="Liberation Sans" font-size="3.74" font-weight="normal" fill="#666" text-anchor="start" >Time</text>
<text x="0.9" y="374.5" font-family="Liberation Sans" font-size="18.5" font-weight="bold" fill="#000" text-anchor="start" textLength="12.6" lengthAdjust="spacingAndGlyphs" >B</text>
<line x1="22.6" y1="388" x2="22.6" y2="503.6" stroke="#555" stroke-width="1" />
<line x1="22.1" y1="503.1" x2="147" y2="503.1" stroke="#555" stroke-width="1" />
<text x="21.4" y="389.3" font-family="Liberation Sans" font-size="3.74" font-weight="bold" fill="#555" text-anchor="end" >100</text>
<text x="21.1" y="446.55" font-family="Liberation Sans" font-size="3.74" font-weight="bold" fill="#555" text-anchor="end" >%</text>
<text x="21.1" y="504.4" font-family="Liberation Sans" font-size="3.96" font-weight="bold" fill="#555" text-anchor="end" >0</text>
<line x1="24.1" y1="503.1" x2="24.1" y2="504.6" stroke="#888" stroke-width="0.5" />
<text x="24.1" y="507.8" font-family="Liberation Sans" font-size="3.96" font-weight="normal" fill="#777" text-anchor="middle" >6000</text>
<line x1="46.7" y1="503.1" x2="46.7" y2="504.6" stroke="#888" stroke-width="0.5" />
<text x="46.7" y="507.8" font-family="Liberation Sans" font-size="3.96" font-weight="normal" fill="#777" text-anchor="middle" >6500</text>
<line x1="70.8" y1="503.1" x2="70.8" y2="504.6" stroke="#888" stroke-width="0.5" />
<text x="70.8" y="507.8" font-family="Liberation Sans" font-size="3.96" font-weight="normal" fill="#777" text-anchor="middle" >7000</text>
<line x1="94.2" y1="503.1" x2="94.2" y2="504.6" stroke="#888" stroke-width="0.5" />
<text x="94.2" y="507.8" font-family="Liberation Sans" font-size="3.96" font-weight="normal" fill="#777" text-anchor="middle" >7500</text>
<line x1="117.6" y1="503.1" x2="117.6" y2="504.6" stroke="#888" stroke-width="0.5" />
<text x="117.6" y="507.8" font-family="Liberation Sans" font-size="3.96" font-weight="normal" fill="#777" text-anchor="middle" >8000</text>
<line x1="142.3" y1="503.1" x2="142.3" y2="504.6" stroke="#888" stroke-width="0.5" />
<text x="142.3" y="507.8" font-family="Liberation Sans" font-size="3.96" font-weight="normal" fill="#777" text-anchor="middle" >8500</text>
<polyline points="45.45,497.1 46.25,483 47.05,497.1" stroke="#999" stroke-width="0.6" fill="none" stroke-linejoin="round" />
<polyline points="67.95,497.1 68.75,483 69.55,497.1" stroke="#999" stroke-width="0.6" fill="none" stroke-linejoin="round" />
<polyline points="76.1,497.1 76.9,485 77.7,497.1" stroke="#999" stroke-width="0.6" fill="none" stroke-linejoin="round" />
<polyline points="61.7,497.1 62.5,488 63.3,497.1" stroke="#999" stroke-width="0.6" fill="none" stroke-linejoin="round" />
<polyline points="103,497.1 103.8,481 104.6,497.1" stroke="#999" stroke-width="0.6" fill="none" stroke-linejoin="round" />
<polyline points="118.2,497.1 119,486 119.8,497.1" stroke="#999" stroke-width="0.6" fill="none" stroke-linejoin="round" />
<polyline points="128,497.1 128.8,481 129.6,497.1" stroke="#999" stroke-width="0.6" fill="none" stroke-linejoin="round" />
<polyline points="91.2,497.1 92,489 92.8,497.1" stroke="#999" stroke-width="0.6" fill="none" stroke-linejoin="round" />
<polyline points="110.2,497.1 111,488 111.8,497.1" stroke="#999" stroke-width="0.6" fill="none" stroke-linejoin="round" />
<polyline points="135.2,497.1 136,489 136.8,497.1" stroke="#999" stroke-width="0.6" fill="none" stroke-linejoin="round" />
<polyline points="55.2,497.1 56,490 56.8,497.1" stroke="#999" stroke-width="0.6" fill="none" stroke-linejoin="round" />
<polyline points="97.2,497.1 98,490 98.8,497.1" stroke="#999" stroke-width="0.6" fill="none" stroke-linejoin="round" />
<polyline points="23.6,496.38 24,492.19 24.4,500.22 24.8,499.7 25.2,494.82 25.6,496.85 26,492.09 26.4,492.16 26.8,492.89 27.2,497.2 27.6,492.2 28,500.29 28.4,490.88 28.8,492.3 29.2,491.33 29.6,498.67 30,494.57 30.4,495.85 30.8,494.49 31.2,497.95 31.6,495.67 32,493.78 32.4,496.3 32.8,495.14 33.2,493.26 33.6,500.93 34,499.55 34.4,499.51 34.8,501.91 35.2,496.85 35.6,496.72 36,496.71 36.4,492.72 36.8,484.11 37.2,467.03 37.6,478.45 38,491.87 38.4,495.27 38.8,492.68 39.2,499.84 39.6,492.37 40,498.09 40.4,493.59 40.8,492.17 41.2,493.54 41.6,492.14 42,492.86 42.4,498.32 42.8,498.61 43.2,494.58 43.6,497.47 44,495.45 44.4,495.56 44.8,499.42 45.2,493.35 45.6,499.16 46,497.2 46.4,497.07 46.8,489.89 47.2,490.71 47.6,490.17 48,493.52 48.4,499.92 48.8,499.25 49.2,498.96 49.6,491.47 50,497.8 50.4,498.67 50.8,499.19 51.2,499.17 51.6,492.46 52,493.05 52.4,499.71 52.8,499.31 53.2,501.12 53.6,496.58 54,501.42 54.4,493.65 54.8,502.43 55.2,501.79 55.6,496.12 56,493.36 56.4,498.52 56.8,500.06 57.2,496.51 57.6,493.43 58,495.75 58.4,501.48 58.8,493.68 59.2,502.55 59.6,495.2 60,494.61 60.4,493.5 60.8,502.54 61.2,501.54 61.6,495.23 62,492.7 62.4,498.41 62.8,500.71 63.2,491.28 63.6,497.66 64,499.85 64.4,495.49 64.8,496.5 65.2,498.83 65.6,492.73 66,492.98 66.4,496.98 66.8,495.76 67.2,495.52 67.6,493.37 68,499.71 68.4,492.87 68.8,497.03 69.2,499.35 69.6,494.21 70,490.64 70.4,492.5 70.8,491 71.2,492 71.6,491.86 72,494.36 72.4,494.82 72.8,495.82 73.2,498.3 73.6,498.6 74,498.89 74.4,495.65 74.8,498.97 75.2,497.93 75.6,493.62 76,498.17 76.4,495.88 76.8,499.76 77.2,500.46 77.6,495.3 78,497.4 78.4,497.62 78.8,495.95 79.2,493.22 79.6,493.27 80,503.16 80.4,500.41 80.8,497.12 81.2,499.41 81.6,495.07 82,499.58 82.4,501.96 82.8,487.92 83.2,484.49 83.6,491.14 84,491.89 84.4,483.93 84.8,488.63 85.2,489.86 85.6,488.65 86,492.83 86.4,488.3 86.8,495.07 87.2,496.57 87.6,488.45 88,495.37 88.4,491.09 88.8,495.23 89.2,495.99 89.6,499.19 90,497.49 90.4,492.83 90.8,497.14 91.2,491.17 91.6,497.35 92,494.42 92.4,493.02 92.8,492.94 93.2,492.92 93.6,499.25 94,492.06 94.4,493.7 94.8,493.48 95.2,493.31 95.6,499.53 96,498.2 96.4,499.18 96.8,501.81 97.2,497.17 97.6,492.95 98,494.64 98.4,498.17 98.8,500.32 99.2,502.49 99.6,498.2 100,495.18 100.4,499.01 100.8,502.56 101.2,496.13 101.6,502.35 102,501.95 102.4,498.33 102.8,496.79 103.2,491.29 103.6,488.45 104,487.54 104.4,495.86 104.8,498.39 105.2,501.56 105.6,497.29 106,501.25 106.4,494.85 106.8,491.86 107.2,490.93 107.6,493.22 108,495.68 108.4,500.39 108.8,493.05 109.2,492.34 109.6,497.47 110,493.92 110.4,495.73 110.8,491.47 111.2,498.93 111.6,499.71 112,498.07 112.4,500.09 112.8,493.85 113.2,490.82 113.6,493.85 114,500.28 114.4,495.92 114.8,493.26 115.2,492.92 115.6,493.24 116,496.32 116.4,501.63 116.8,501.35 117.2,500.17 117.6,500.3 118,494.45 118.4,500.76 118.8,495.01 119.2,498.27 119.6,493.13 120,502.23 120.4,494.18 120.8,499.07 121.2,499.77 121.6,499.53 122,499.86 122.4,496.46 122.8,500.82 123.2,502.24 123.6,498.71 124,502.38 124.4,500.85 124.8,492.29 125.2,498.62 125.6,492.31 126,498.15 126.4,494.91 126.8,499.84 127.2,491.09 127.6,500.16 128,489.14 128.4,486.46 128.8,484.14 129.2,486.98 129.6,498.68 130,498.36 130.4,499.48 130.8,491.79 131.2,497.09 131.6,498.25 132,497.58 132.4,492.82 132.8,500.31 133.2,497.85 133.6,497.51 134,493.43 134.4,494.77 134.8,498.74 135.2,496.36 135.6,496.23 136,500.97 136.4,495.88 136.8,500.69 137.2,492.28 137.6,497.56 138,499.65 138.4,492.38 138.8,499.75 139.2,495.53 139.6,499.22 140,499.28 140.4,494.2 140.8,502.76 141.2,495.38 141.6,494.26 142,497.47 142.4,493.42 142.8,493.75 143.2,500.64 143.6,493.53 144,498.09 144.4,501.59 144.8,496.89 145.2,500.54" stroke="#777" stroke-width="0.6" fill="none" stroke-linejoin="round" />
<polyline points="23.6,493.24 24,496.55 24.4,493.26 24.8,497.15 25.2,496.66 25.6,494.81 26,496.45 26.4,496.21 26.8,492.07 27.2,495.55 27.6,496.67 28,496.07 28.4,498.95 28.8,498.21 29.2,495.42 29.6,494.08 30,493.31 30.4,498.79 30.8,498.54 31.2,498.04 31.6,496.83 32,497.33 32.4,495.33 32.8,497.73 33.2,495.06 33.6,498.69 34,499.25 34.4,499.73 34.8,496.51 35.2,495.04 35.6,496.83 36,499.34 36.4,494.44 36.8,484.81 37.2,472.39 37.6,478.49 38,495.14 38.4,495.08 38.8,495.68 39.2,498.63 39.6,499.14 40,497.48 40.4,498.17 40.8,497.15 41.2,498.7 41.6,500.44 42,499.94 42.4,498.26 42.8,496.6 43.2,500.06 43.6,496.3 44,497.2 44.4,499.09 44.8,497.7 45.2,495.15 45.6,497.61 46,496.66 46.4,499.02 46.8,496.92 47.2,496 47.6,499.41 48,496.25 48.4,494.96 48.8,499.18 49.2,499.74 49.6,493.78 50,492.52 50.4,498.74 50.8,499.7 51.2,496 51.6,494.76 52,498.2 52.4,500.73 52.8,495.39 53.2,496.87 53.6,498.87 54,495.72 54.4,497.08 54.8,495.19 55.2,497.78 55.6,496.15 56,494.89 56.4,497.27 56.8,495.66 57.2,495.28 57.6,495.5 58,497.63 58.4,497.02 58.8,500.16 59.2,497.92 59.6,496.25 60,495.55 60.4,496.23 60.8,499.7 61.2,495.62 61.6,497.15 62,499.85 62.4,500.14 62.8,497.1 63.2,499.65 63.6,498.16 64,494.56 64.4,492.99 64.8,493.31 65.2,498.12 65.6,495.32 66,498.48 66.4,499.75 66.8,499.42 67.2,495.78 67.6,491.73 68,493.44 68.4,493.17 68.8,496.57 69.2,497.38 69.6,499.26 70,497.82 70.4,499.79 70.8,497.55 71.2,496.16 71.6,499.03 72,495 72.4,498.75 72.8,498.88 73.2,500.16 73.6,494.06 74,494.63 74.4,500.87 74.8,495.24 75.2,497.27 75.6,498.8 76,498.12 76.4,501.3 76.8,502.31 77.2,497.61 77.6,495.56 78,501.57 78.4,498.53 78.8,496.6 79.2,495.51 79.6,494.33 80,498.69 80.4,496.66 80.8,498.54 81.2,501.54 81.6,498.23 82,501.47 82.4,494.63 82.8,487.27 83.2,487.55 83.6,490.39 84,484.6 84.4,488.81 84.8,490.48 85.2,491.69 85.6,491.39 86,490.28 86.4,495.57 86.8,496.25 87.2,495.22 87.6,497.41 88,494.64 88.4,490.81 88.8,495.49 89.2,491.46 89.6,496.34 90,496.19 90.4,492.84 90.8,492.24 91.2,491.68 91.6,492.66 92,499.29 92.4,494.19 92.8,499.06 93.2,493.8 93.6,495.08 94,496.45 94.4,495.87 94.8,500.79 95.2,495.72 95.6,497.3 96,495.41 96.4,494.61 96.8,499.26 97.2,497.06 97.6,498.11 98,499.93 98.4,495.39 98.8,494.71 99.2,499.68 99.6,502.6 100,495.16 100.4,497.81 100.8,502.32 101.2,501.42 101.6,502.48 102,498.83 102.4,501.82 102.8,494.36 103.2,495.17 103.6,495.77 104,492.3 104.4,494.66 104.8,496.18 105.2,495.85 105.6,499.09 106,500.52 106.4,494.64 106.8,494.64 107.2,498.33 107.6,498.12 108,498.56 108.4,497.47 108.8,499.15 109.2,498.72 109.6,496.97 110,494.02 110.4,492.17 110.8,498.15 111.2,498.79 111.6,499.19 112,494.35 112.4,497.72 112.8,499.7 113.2,494.29 113.6,492.44 114,493.6 114.4,494.22 114.8,498.1 115.2,499.77 115.6,500.07 116,499.24 116.4,501.6 116.8,501.93 117.2,497.88 117.6,501.42 118,500.29 118.4,496.52 118.8,498.92 119.2,495.94 119.6,497.5 120,500.96 120.4,494.96 120.8,498.52 121.2,498.04 121.6,496.74 122,494.81 122.4,498.17 122.8,496.9 123.2,494.79 123.6,496.86 124,499.13 124.4,494.46 124.8,499.42 125.2,494.2 125.6,496.59 126,495.84 126.4,499.49 126.8,499.98 127.2,498.61 127.6,494.53 128,492.93 128.4,494.07 128.8,490.21 129.2,492.54 129.6,495.93 130,493.06 130.4,494.44 130.8,499.08 131.2,494.62 131.6,498.29 132,493.21 132.4,491.65 132.8,495.45 133.2,494.19 133.6,496.65 134,498.4 134.4,492.92 134.8,496.17 135.2,495.65 135.6,499.97 136,500.08 136.4,500.57 136.8,499.64 137.2,496.58 137.6,498.58 138,498.33 138.4,497.04 138.8,496.41 139.2,499.29 139.6,501.63 140,496.75 140.4,497.22 140.8,495.74 141.2,497.25 141.6,497.58 142,495.25 142.4,499.35 142.8,497.31 143.2,500.69 143.6,496.47 144,499.83 144.4,501.99 144.8,495.65 145.2,496.47" stroke="#000" stroke-width="1" fill="none" stroke-linejoin="round" />
<line x1="83.1" y1="388.7" x2="83.1" y2="450" stroke="#555" stroke-width="0.9" />
<polygon points="81.6,499.1 82.5,470 83.1,448 83.7,470 85.2,499.1" fill="#000" />
<text x="70.4" y="383.9" font-family="Liberation Serif" font-size="11" font-weight="bold" fill="#000" text-anchor="start" textLength="20.5" lengthAdjust="spacingAndGlyphs" stroke="#000" stroke-width="0.2" >7442</text>
<text x="112.55" y="399.8" font-family="Liberation Serif" font-size="7.3" font-weight="bold" fill="#000" text-anchor="start" textLength="25.5" lengthAdjust="spacingAndGlyphs" stroke="#000" stroke-width="0.2" >rCCL3</text>
<line x1="172" y1="387" x2="172" y2="503.2" stroke="#555" stroke-width="1" />
<line x1="171.5" y1="502.7" x2="291.5" y2="502.7" stroke="#555" stroke-width="1" />
<text x="170.8" y="388.3" font-family="Liberation Sans" font-size="3.74" font-weight="bold" fill="#555" text-anchor="end" >100</text>
<text x="170.5" y="445.85" font-family="Liberation Sans" font-size="3.74" font-weight="bold" fill="#555" text-anchor="end" >%</text>
<text x="170.5" y="504" font-family="Liberation Sans" font-size="3.96" font-weight="bold" fill="#555" text-anchor="end" >0</text>
<line x1="174.1" y1="502.7" x2="174.1" y2="504.2" stroke="#888" stroke-width="0.5" />
<text x="174.1" y="507" font-family="Liberation Sans" font-size="3.96" font-weight="normal" fill="#777" text-anchor="middle" >6000</text>
<line x1="191" y1="502.7" x2="191" y2="504.2" stroke="#888" stroke-width="0.5" />
<text x="191" y="507" font-family="Liberation Sans" font-size="3.96" font-weight="normal" fill="#777" text-anchor="middle" >6500</text>
<line x1="207.9" y1="502.7" x2="207.9" y2="504.2" stroke="#888" stroke-width="0.5" />
<text x="207.9" y="507" font-family="Liberation Sans" font-size="3.96" font-weight="normal" fill="#777" text-anchor="middle" >7000</text>
<line x1="225.3" y1="502.7" x2="225.3" y2="504.2" stroke="#888" stroke-width="0.5" />
<text x="225.3" y="507" font-family="Liberation Sans" font-size="3.96" font-weight="normal" fill="#777" text-anchor="middle" >7500</text>
<line x1="242.4" y1="502.7" x2="242.4" y2="504.2" stroke="#888" stroke-width="0.5" />
<text x="242.4" y="507" font-family="Liberation Sans" font-size="3.96" font-weight="normal" fill="#777" text-anchor="middle" >8000</text>
<line x1="259.8" y1="502.7" x2="259.8" y2="504.2" stroke="#888" stroke-width="0.5" />
<text x="259.8" y="507" font-family="Liberation Sans" font-size="3.96" font-weight="normal" fill="#777" text-anchor="middle" >8500</text>
<line x1="277.2" y1="502.7" x2="277.2" y2="504.2" stroke="#888" stroke-width="0.5" />
<text x="277.2" y="507" font-family="Liberation Sans" font-size="3.96" font-weight="normal" fill="#777" text-anchor="middle" >9000</text>
<line x1="297" y1="502.7" x2="297" y2="504.2" stroke="#888" stroke-width="0.5" />
<text x="297" y="507" font-family="Liberation Sans" font-size="3.96" font-weight="normal" fill="#777" text-anchor="middle" >m/z</text>
<polyline points="272.1,493.7 273,464.5 273.9,493.7" stroke="#666" stroke-width="0.8" fill="none" stroke-linejoin="round" />
<polyline points="288.6,493.7 289.5,468 290.4,493.7" stroke="#666" stroke-width="0.8" fill="none" stroke-linejoin="round" />
<polyline points="286.6,493.7 287.5,472 288.4,493.7" stroke="#666" stroke-width="0.8" fill="none" stroke-linejoin="round" />
<polyline points="209.85,493.7 210.75,480 211.65,493.7" stroke="#666" stroke-width="0.8" fill="none" stroke-linejoin="round" />
<polyline points="240.1,493.7 241,482 241.9,493.7" stroke="#666" stroke-width="0.8" fill="none" stroke-linejoin="round" />
<polyline points="258.1,493.7 259,484 259.9,493.7" stroke="#666" stroke-width="0.8" fill="none" stroke-linejoin="round" />
<polyline points="234.1,493.7 235,480 235.9,493.7" stroke="#666" stroke-width="0.8" fill="none" stroke-linejoin="round" />
<polyline points="173,490.38 173.4,493.96 173.8,489.87 174.2,493.7 174.6,500.03 175,499.36 175.4,496.5 175.8,500.31 176.2,496.36 176.6,501.83 177,498.46 177.4,492.21 177.8,497.78 178.2,496.5 178.6,497.15 179,492.77 179.4,498.94 179.8,492.06 180.2,493.31 180.6,492.29 181,492.4 181.4,491.01 181.8,498.3 182.2,496.87 182.6,488.21 183,495.14 183.4,488.27 183.8,495.18 184.2,490.48 184.6,489.3 185,490.39 185.4,492.07 185.8,493.32 186.2,489.37 186.6,486.92 187,493.32 187.4,492.61 187.8,497.31 188.2,497.16 188.6,488.01 189,491.01 189.4,495.04 189.8,491.29 190.2,498.63 190.6,486.19 191,491.63 191.4,497.47 191.8,499.04 192.2,493.39 192.6,490.22 193,494.9 193.4,491.49 193.8,496.66 194.2,492.15 194.6,490.22 195,494.89 195.4,495.34 195.8,489.12 196.2,490.56 196.6,492.95 197,494.48 197.4,488.35 197.8,493.28 198.2,499.86 198.6,495.02 199,498.52 199.4,500.66 199.8,488.42 200.2,497.37 200.6,493.91 201,486.49 201.4,486.68 201.8,487.04 202.2,486.39 202.6,494.63 203,490.07 203.4,496.37 203.8,491.32 204.2,498.16 204.6,498.42 205,487.49 205.4,496 205.8,486.57 206.2,489.41 206.6,496.6 207,490.58 207.4,485.11 207.8,484.91 208.2,497.91 208.6,496.29 209,497.75 209.4,489.35 209.8,487.37 210.2,487.98 210.6,474.85 211,483.21 211.4,482.99 211.8,487.49 212.2,496.41 212.6,489.98 213,500.16 213.4,496.19 213.8,495.51 214.2,496.27 214.6,491.06 215,500.51 215.4,488.09 215.8,498.79 216.2,492.42 216.6,491.02 217,486.87 217.4,480.38 217.8,472.24 218.2,469.29 218.6,456.81 219,436.24 219.4,448.61 219.8,465.56 220.2,457.53 220.6,463.06 221,478.33 221.4,479.34 221.8,476.17 222.2,482.6 222.6,483.91 223,486.9 223.4,484.63 223.8,491.28 224.2,479.77 224.6,491.78 225,489.84 225.4,485.86 225.8,482.58 226.2,483.46 226.6,491.12 227,490.9 227.4,489.37 227.8,483.73 228.2,484.23 228.6,489.57 229,484.84 229.4,484.77 229.8,477.9 230.2,480.71 230.6,488.69 231,495.05 231.4,485.35 231.8,489.43 232.2,490.17 232.6,489.01 233,491.8 233.4,486.7 233.8,488.16 234.2,486.11 234.6,489.49 235,479.96 235.4,487.74 235.8,493.59 236.2,496.14 236.6,494.13 237,492.92 237.4,495.81 237.8,493.71 238.2,493.05 238.6,493.95 239,489.78 239.4,496.95 239.8,493.72 240.2,487.16 240.6,486.67 241,480.44 241.4,488.51 241.8,493.01 242.2,500.38 242.6,489.81 243,495.19 243.4,497.88 243.8,490.43 244.2,493 244.6,494.51 245,488.11 245.4,492.36 245.8,498.23 246.2,498.18 246.6,498.03 247,486.11 247.4,494.7 247.8,495.55 248.2,489.94 248.6,488.94 249,494.75 249.4,490.47 249.8,498.03 250.2,490.25 250.6,497.61 251,495.55 251.4,491.57 251.8,496.08 252.2,498.73 252.6,496.57 253,490.96 253.4,488.98 253.8,495.48 254.2,497.88 254.6,496.09 255,491.29 255.4,496.99 255.8,497.84 256.2,493.78 256.6,497.89 257,497.67 257.4,501.47 257.8,488.6 258.2,498.92 258.6,491.86 259,481.55 259.4,484.3 259.8,490.97 260.2,496.01 260.6,495.87 261,493.54 261.4,499.14 261.8,494.52 262.2,495.23 262.6,496.36 263,497.91 263.4,488.67 263.8,487.38 264.2,492.24 264.6,496.59 265,496.21 265.4,488.51 265.8,479.63 266.2,485.9 266.6,491.98 267,493.32 267.4,486.51 267.8,484.85 268.2,490.26 268.6,487.22 269,488.3 269.4,493.92 269.8,494.2 270.2,491.65 270.6,496.28 271,493.63 271.4,486.48 271.8,489.73 272.2,487.81 272.6,494.19 273,484.59 273.4,485.11 273.8,495.78 274.2,498.06 274.6,490.48 275,489.68 275.4,490.22 275.8,486.72 276.2,494.78 276.6,486.67 277,499.56 277.4,497.29 277.8,491.62 278.2,494.26 278.6,497.51 279,488.01 279.4,495.35 279.8,497.58 280.2,492.95 280.6,497.56 281,489.11 281.4,485.62 281.8,487.93 282.2,495.59 282.6,482.2 283,479.05 283.4,478.15 283.8,486.64 284.2,486.7 284.6,490.24 285,483.94 285.4,484.74 285.8,483.32 286.2,495.21 286.6,492.95 287,485.4 287.4,486.36 287.8,485.41 288.2,488.74 288.6,488.18 289,488.55 289.4,484.57 289.8,478.02 290.2,488.34 290.6,482.58 291,488.22" stroke="#666" stroke-width="0.6" fill="none" stroke-linejoin="round" />
<polyline points="173,498.56 173.4,497.98 173.8,495.83 174.2,493.65 174.6,497.91 175,501.37 175.4,496.9 175.8,500.24 176.2,493.16 176.6,496.7 177,494.17 177.4,496.49 177.8,497.87 178.2,500.28 178.6,497.42 179,500.09 179.4,495.28 179.8,492.53 180.2,495.08 180.6,497.61 181,497.7 181.4,491.22 181.8,492 182.2,491.94 182.6,493.74 183,497.42 183.4,492.19 183.8,488.79 184.2,494.75 184.6,492.7 185,490.05 185.4,484.54 185.8,488.09 186.2,488.65 186.6,495.64 187,489.21 187.4,488.22 187.8,488.92 188.2,494.36 188.6,489.65 189,496.33 189.4,491.09 189.8,493.59 190.2,489.78 190.6,490.27 191,495.84 191.4,498.05 191.8,491.48 192.2,491.66 192.6,489.11 193,490.18 193.4,492.27 193.8,494.02 194.2,494.91 194.6,492.98 195,490.34 195.4,491.77 195.8,487.84 196.2,487.68 196.6,496.19 197,495.6 197.4,490.55 197.8,498.59 198.2,499.87 198.6,494.58 199,499.22 199.4,491.63 199.8,497.98 200.2,491.78 200.6,497.07 201,495.17 201.4,494.99 201.8,485.97 202.2,488.17 202.6,494.05 203,489.16 203.4,489.21 203.8,492.52 204.2,488.89 204.6,487.44 205,486.72 205.4,489.59 205.8,492.75 206.2,491.42 206.6,492.46 207,487.17 207.4,487.07 207.8,491.4 208.2,488.27 208.6,486.51 209,486.77 209.4,492.15 209.8,494.35 210.2,486.16 210.6,476.28 211,478.37 211.4,488.72 211.8,494.54 212.2,490.71 212.6,492.79 213,489.28 213.4,493.67 213.8,496.54 214.2,494.73 214.6,497.22 215,492.39 215.4,495.4 215.8,493.32 216.2,492.95 216.6,485.82 217,485.28 217.4,482.83 217.8,474.31 218.2,471.4 218.6,450.49 219,437.29 219.4,448.61 219.8,464.97 220.2,464.09 220.6,471.96 221,476.09 221.4,479.31 221.8,479.9 222.2,485.55 222.6,484.36 223,484.21 223.4,483.74 223.8,482.17 224.2,482.76 224.6,487.12 225,487.52 225.4,490.12 225.8,487.75 226.2,487.06 226.6,488.79 227,486.44 227.4,492.95 227.8,491.1 228.2,487.91 228.6,489.44 229,493.16 229.4,492.17 229.8,486.72 230.2,488.24 230.6,491.46 231,490.31 231.4,490.89 231.8,491.62 232.2,488.14 232.6,492.92 233,493.54 233.4,496.06 233.8,491.19 234.2,493.52 234.6,487.66 235,483.79 235.4,482.86 235.8,493.8 236.2,495.85 236.6,496.6 237,492.75 237.4,492.27 237.8,492.24 238.2,499.02 238.6,495.61 239,497.5 239.4,497.65 239.8,498.28 240.2,491.47 240.6,485.79 241,490.07 241.4,485.72 241.8,496.61 242.2,493.83 242.6,489.89 243,491.7 243.4,496.14 243.8,493.26 244.2,490.16 244.6,488.95 245,488.35 245.4,493 245.8,491.64 246.2,494.23 246.6,489.36 247,490.03 247.4,492.59 247.8,490.8 248.2,493.96 248.6,490.39 249,494.46 249.4,494.31 249.8,492.01 250.2,494.49 250.6,491.62 251,496.68 251.4,495.9 251.8,491.68 252.2,496.48 252.6,495.29 253,497.49 253.4,496.55 253.8,498.49 254.2,495.48 254.6,493.32 255,496.8 255.4,499.24 255.8,495.97 256.2,497.37 256.6,496.62 257,494.02 257.4,492.38 257.8,495.66 258.2,489.94 258.6,487.94 259,488.79 259.4,487.98 259.8,491.9 260.2,498.74 260.6,496.26 261,495.24 261.4,491.65 261.8,496.11 262.2,493.01 262.6,495.58 263,497.96 263.4,496.95 263.8,490.86 264.2,496.32 264.6,494.31 265,488.31 265.4,483.31 265.8,481.21 266.2,484.39 266.6,487.27 267,485.36 267.4,494.29 267.8,487.29 268.2,493.38 268.6,491.05 269,493.5 269.4,493.97 269.8,493 270.2,489.92 270.6,490.84 271,488.12 271.4,488.35 271.8,486.19 272.2,488.46 272.6,491.24 273,488.16 273.4,484.42 273.8,489.1 274.2,491.15 274.6,492.36 275,492.55 275.4,495.77 275.8,490.37 276.2,493.81 276.6,494.48 277,488.74 277.4,489.19 277.8,488.97 278.2,493.59 278.6,496.53 279,497.14 279.4,496.76 279.8,493.9 280.2,494.03 280.6,494.33 281,490.81 281.4,491.8 281.8,488.01 282.2,486.95 282.6,482.76 283,485.38 283.4,481.72 283.8,487.64 284.2,485.85 284.6,485.56 285,489.56 285.4,490.66 285.8,490.03 286.2,494.11 286.6,489.79 287,490.42 287.4,492.76 287.8,486.03 288.2,490.88 288.6,484.91 289,488.69 289.4,485.89 289.8,487.16 290.2,491 290.6,485.08 291,484.73" stroke="#000" stroke-width="1" fill="none" stroke-linejoin="round" />
<line x1="219.1" y1="388.3" x2="219.1" y2="450" stroke="#555" stroke-width="0.9" />
<text x="207.7" y="381.3" font-family="Liberation Serif" font-size="11" font-weight="bold" fill="#000" text-anchor="start" textLength="20.5" lengthAdjust="spacingAndGlyphs" stroke="#000" stroke-width="0.2" >7796</text>
<text x="245.35" y="395.2" font-family="Liberation Serif" font-size="7.3" font-weight="bold" fill="#000" text-anchor="start" textLength="34.2" lengthAdjust="spacingAndGlyphs" stroke="#000" stroke-width="0.2" >rCCL3L1</text>
<line x1="22.8" y1="517.2" x2="22.8" y2="638.1" stroke="#777" stroke-width="1" />
<line x1="22.3" y1="637.6" x2="157" y2="637.6" stroke="#777" stroke-width="1" />
<text x="21.6" y="518.5" font-family="Liberation Sans" font-size="3.74" font-weight="bold" fill="#555" text-anchor="end" >100</text>
<text x="21.3" y="578.4" font-family="Liberation Sans" font-size="3.74" font-weight="bold" fill="#555" text-anchor="end" >%</text>
<text x="21.3" y="638.9" font-family="Liberation Sans" font-size="3.96" font-weight="bold" fill="#555" text-anchor="end" >0</text>
<line x1="40" y1="637.6" x2="40" y2="639.1" stroke="#888" stroke-width="0.5" />
<text x="40" y="643.8" font-family="Liberation Sans" font-size="4.4" font-weight="normal" fill="#444" text-anchor="middle" >6500</text>
<line x1="56.5" y1="637.6" x2="56.5" y2="639.1" stroke="#888" stroke-width="0.5" />
<text x="56.5" y="643.8" font-family="Liberation Sans" font-size="4.4" font-weight="normal" fill="#444" text-anchor="middle" >7000</text>
<line x1="73" y1="637.6" x2="73" y2="639.1" stroke="#888" stroke-width="0.5" />
<text x="73" y="643.8" font-family="Liberation Sans" font-size="4.4" font-weight="normal" fill="#444" text-anchor="middle" >7500</text>
<line x1="90" y1="637.6" x2="90" y2="639.1" stroke="#888" stroke-width="0.5" />
<text x="90" y="643.8" font-family="Liberation Sans" font-size="4.4" font-weight="normal" fill="#444" text-anchor="middle" >8000</text>
<line x1="106.7" y1="637.6" x2="106.7" y2="639.1" stroke="#888" stroke-width="0.5" />
<text x="106.7" y="643.8" font-family="Liberation Sans" font-size="4.4" font-weight="normal" fill="#444" text-anchor="middle" >8500</text>
<line x1="123.4" y1="637.6" x2="123.4" y2="639.1" stroke="#888" stroke-width="0.5" />
<text x="123.4" y="643.8" font-family="Liberation Sans" font-size="4.4" font-weight="normal" fill="#444" text-anchor="middle" >9000</text>
<line x1="140.2" y1="637.6" x2="140.2" y2="639.1" stroke="#888" stroke-width="0.5" />
<text x="140.2" y="643.8" font-family="Liberation Sans" font-size="4.4" font-weight="normal" fill="#444" text-anchor="middle" >9500</text>
<line x1="157.5" y1="637.6" x2="157.5" y2="639.1" stroke="#888" stroke-width="0.5" />
<text x="157.5" y="643.8" font-family="Liberation Sans" font-size="4.4" font-weight="normal" fill="#444" text-anchor="middle" >10000</text>
<polygon points="23.4,637.6 23.4,635.17 23.75,628.06 24.1,632.12 24.45,631.94 24.8,635.54 25.15,631.34 25.5,635.56 25.85,628.26 26.2,634.58 26.55,628.9 26.9,632.72 27.25,633.12 27.6,635.31 27.95,624.33 28.3,631.45 28.65,624.64 29,630.65 29.35,625.01 29.7,631.35 30.05,628.13 30.4,633.13 30.75,628.99 31.1,634.05 31.45,630.47 31.8,632.37 32.15,626.95 32.5,633.34 32.85,629.55 33.2,636 33.55,629.34 33.9,635.96 34.25,633.13 34.6,635.81 34.95,631.85 35.3,635.45 35.65,634.17 36,636.06 36.35,633.71 36.7,635.7 37.05,634.77 37.4,633.91 37.75,633 38.1,633.93 38.45,634.95 38.8,634.23 39.15,630.44 39.5,636.24 39.85,632.49 40.2,633.66 40.55,630.01 40.9,633.58 41.25,632.23 41.6,636.12 41.95,628.19 42.3,633.69 42.65,632.85 43,634.12 43.35,629.88 43.7,633.35 44.05,631.45 44.4,635.75 44.75,628.68 45.1,635.43 45.45,633.45 45.8,633.88 46.15,629.48 46.5,634.86 46.85,633.19 47.2,635.9 47.55,631.45 47.9,633.81 48.25,633.46 48.6,634.93 48.95,627.9 49.3,634.5 49.65,627.4 50,634.74 50.35,629.83 50.7,636.56 51.05,631.34 51.4,634.19 51.75,633.23 52.1,634.1 52.45,633.56 52.8,635.82 53.15,633.96 53.5,636.38 53.85,633.74 54.2,636.76 54.55,632.35 54.9,637.01 55.25,632.66 55.6,636.01 55.95,633.72 56.3,636.47 56.65,634.29 57,635.29 57.35,635.54 57.7,636.62 58.05,634.77 58.4,636.98 58.75,635.37 59.1,636 59.45,632.28 59.8,636.87 60.15,633.26 60.5,634.76 60.85,633.87 61.2,635.26 61.55,634.6 61.9,634.01 62.25,634.18 62.6,635.44 62.95,632.65 63.3,635.86 63.65,629.9 64,632.84 64.35,630.68 64.7,634.66 65.05,629.88 65.4,632.72 65.75,627.14 66.1,635.8 66.45,629.48 66.8,633.84 67.15,631.16 67.5,634.9 67.85,632.94 68.2,632.64 68.55,632.6 68.9,631.69 69.25,624.36 69.6,633.77 69.95,626.85 70.3,631.51 70.65,629.25 71,635.02 71.35,627.86 71.7,631.7 72.05,627.1 72.4,628.45 72.75,627.65 73.1,629.78 73.45,605.33 73.8,623.67 74.15,608.9 74.5,623.5 74.85,613.56 75.2,632.65 75.55,621.91 75.9,631.33 76.25,628.44 76.6,632.89 76.95,630.18 77.3,636.07 77.65,625.7 78,635.97 78.35,629.1 78.7,632.85 79.05,630.56 79.4,633.31 79.75,632.91 80.1,634.13 80.45,631.55 80.8,636.55 81.15,628.77 81.5,633.3 81.85,633.36 82.2,632.81 82.55,632.45 82.9,633.97 83.25,632.35 83.6,636.45 83.95,630.51 84.3,634.86 84.65,632.04 85,634.31 85.35,626.12 85.7,635.82 86.05,625.6 86.4,631.97 86.75,625.82 87.1,632.3 87.45,626.86 87.8,634.75 88.15,631.78 88.5,632.74 88.85,632.54 89.2,632.59 89.55,627.66 89.9,631 90.25,628.9 90.6,633.21 90.95,627.01 91.3,630.73 91.65,628.35 92,634.24 92.35,626.31 92.7,632.38 93.05,629.36 93.4,633.99 93.75,625.62 94.1,631.11 94.45,629.2 94.8,633.49 95.15,626.99 95.5,635.68 95.85,630.89 96.2,631.95 96.55,632.15 96.9,635.18 97.25,632.42 97.6,636.16 97.95,633.36 98.3,636.3 98.65,631.47 99,635.97 99.35,634.45 99.7,636.44 100.05,632.86 100.4,633.24 100.75,630.09 101.1,633.95 101.45,629.25 101.8,636.03 102.15,634.21 102.5,634.57 102.85,630.82 103.2,635.89 103.55,629.41 103.9,634.8 104.25,632.42 104.6,634.03 104.95,629.94 105.3,635.23 105.65,628.47 106,635.7 106.35,627.09 106.7,635.19 107.05,627.12 107.4,634.87 107.75,632.8 108.1,635.82 108.45,627.4 108.8,634.17 109.15,627.17 109.5,634.58 109.85,630.06 110.2,635.83 110.55,632.52 110.9,632.02 111.25,629.25 111.6,635.58 111.95,633.68 112.3,635.06 112.65,632.09 113,636.23 113.35,630.23 113.7,632.63 114.05,632.69 114.4,633.63 114.75,628.3 115.1,632.59 115.45,628.75 115.8,634.14 116.15,629.32 116.5,633.64 116.85,630.87 117.2,634.97 117.55,630.61 117.9,634.08 118.25,630.96 118.6,633.97 118.95,629.92 119.3,634.67 119.65,630.17 120,633.51 120.35,628.8 120.7,634.21 121.05,630.14 121.4,635.54 121.75,630.98 122.1,632.75 122.45,634 122.8,633.37 123.15,630.69 123.5,635.82 123.85,628.35 124.2,633.99 124.55,633.7 124.9,632.85 125.25,628.22 125.6,634.49 125.95,633.7 126.3,634.3 126.65,627.86 127,634.44 127.35,626.46 127.7,631.63 128.05,632.94 128.4,633.4 128.75,629.57 129.1,633.72 129.45,628.94 129.8,633.04 130.15,631.28 130.5,634.15 130.85,625.27 131.2,633.9 131.55,633.27 131.9,635.22 132.25,626.71 132.6,630.86 132.95,631.7 133.3,631.64 133.65,632.72 134,633.81 134.35,623.62 134.7,630.58 135.05,624.75 135.4,633.7 135.75,624.81 136.1,630.57 136.45,631.07 136.8,634.96 137.15,626.59 137.5,633.26 137.85,627.43 138.2,633.84 138.55,627.5 138.9,634.52 139.25,630.9 139.6,636.35 139.95,633.63 140.3,634.42 140.65,631.35 141,636.61 141.35,631.41 141.7,636.34 142.05,631.93 142.4,635.9 142.75,632.71 143.1,636.48 143.45,632.62 143.8,634.6 144.15,630.42 144.5,634.29 144.85,632.05 145.2,635.71 145.55,631.31 145.9,634.37 146.25,634.75 146.6,634.28 146.95,631.38 147.3,634.69 147.65,629.16 148,635.89 148.35,627.43 148.7,636.13 149.05,626.93 149.4,634.68 149.75,628.65 150.1,632.01 150.45,632.17 150.8,632.01 151.15,629.52 151.5,634.02 151.85,627.38 152.2,634.65 152.55,627.21 152.9,631.97 153.25,627.09 153.6,632.13 153.95,628.61 154.3,635.68 154.65,629.01 155,633.3 155.35,631.57 155.7,634.66 156.05,632.51 156,637.6" fill="#000" />
<path d="M46.15 637.6V624.61M46.85 637.6V622.03M48.95 637.6V625.85M53.85 637.6V630.13M61.55 637.6V629.88M67.85 637.6V625.73M72.75 637.6V603.18M81.85 637.6V626.26M84.65 637.6V623.33M93.05 637.6V621.64M95.15 637.6V624.51M105.65 637.6V624.08M109.85 637.6V620.68M116.85 637.6V623.17M129.45 637.6V621.46M137.15 637.6V622.86M154.65 637.6V623.58" stroke="#999" stroke-width="0.6" fill="none" opacity="1"/>
<line x1="72" y1="517.5" x2="72" y2="550" stroke="#999" stroke-width="0.8" />
<line x1="72.05" y1="549" x2="72.05" y2="602" stroke="#333" stroke-width="1" />
<polygon points="70.6,637.6 71.6,614 72.1,598 72.7,614 74.2,637.6" fill="#000" />
<path d="M24.8 616.55V634.6M27.98 620.63V634.6M30.48 625.24V634.6M31.71 623.52V634.6M33.71 620.89V634.6M35.69 623.98V634.6M36.94 619.91V634.6M37.98 618.78V634.6M39.83 627.41V634.6M42.91 627.99V634.6M44.13 624.42V634.6M45.29 618.99V634.6M46.63 619.02V634.6M47.84 626.78V634.6M48.7 624.66V634.6M49.79 623.32V634.6M50.66 623.16V634.6M51.75 626.71V634.6M54.37 625.08V634.6M56.78 620.78V634.6M57.7 623.57V634.6M59.07 621.85V634.6M66.11 621.9V634.6M67.16 627.47V634.6M68.48 623.81V634.6M69.71 619.16V634.6M71.72 625.76V634.6M72.68 624.97V634.6M74.71 620.15V634.6M75.77 620.08V634.6M78.3 618.58V634.6M83.85 621.3V634.6M84.66 617.19V634.6M85.89 627.95V634.6M90.52 624.35V634.6M93.66 618.92V634.6M94.87 617.23V634.6M98.32 628.31V634.6M99.52 623.33V634.6M100.81 626.11V634.6M101.86 628.4V634.6M104.39 626.43V634.6M105.68 619.85V634.6M109.53 626.06V634.6M110.77 619.83V634.6M114.67 628.47V634.6M117.14 626.8V634.6M121.23 620.63V634.6M122.09 624.7V634.6M124.38 619.34V634.6M128.94 625.21V634.6M130.19 627.39V634.6M131.13 624.37V634.6M132.53 628.37V634.6M137.67 628.25V634.6M140.02 618.62V634.6M141.03 628.33V634.6M141.84 627.97V634.6M144.08 627.22V634.6M145.26 615.9V634.6M148.53 628.08V634.6M150.59 622.75V634.6M153.03 616.12V634.6" stroke="#666" stroke-width="0.5"/>
<line x1="135.4" y1="604.5" x2="135.4" y2="637.6" stroke="#999" stroke-width="0.7" />
<line x1="135.4" y1="618" x2="135.4" y2="637.6" stroke="#333" stroke-width="0.9" />
<text x="135.5" y="603" font-family="Liberation Sans" font-size="3.3" font-weight="normal" fill="#aaa" text-anchor="middle" >·········</text>
<text x="70.5" y="522.2" font-family="Liberation Serif" font-size="11" font-weight="bold" fill="#000" text-anchor="start" textLength="21" lengthAdjust="spacingAndGlyphs" stroke="#000" stroke-width="0.2" >7444</text>
<text x="121.85" y="531.6" font-family="Liberation Serif" font-size="7.3" font-weight="bold" fill="#000" text-anchor="start" textLength="21.2" lengthAdjust="spacingAndGlyphs" stroke="#000" stroke-width="0.2" >CCL3</text>
<line x1="170.8" y1="518" x2="170.8" y2="637.8" stroke="#777" stroke-width="1" />
<line x1="170.3" y1="637.3" x2="299" y2="637.3" stroke="#777" stroke-width="1" />
<text x="169.6" y="519.3" font-family="Liberation Sans" font-size="3.74" font-weight="bold" fill="#555" text-anchor="end" >100</text>
<text x="169.3" y="578.65" font-family="Liberation Sans" font-size="3.74" font-weight="bold" fill="#555" text-anchor="end" >%</text>
<text x="169.3" y="638.6" font-family="Liberation Sans" font-size="3.96" font-weight="bold" fill="#555" text-anchor="end" >0</text>
<line x1="171.6" y1="637.3" x2="171.6" y2="638.8" stroke="#888" stroke-width="0.5" />
<text x="171.6" y="643.3" font-family="Liberation Sans" font-size="4.4" font-weight="normal" fill="#444" text-anchor="middle" >5000</text>
<line x1="189.5" y1="637.3" x2="189.5" y2="638.8" stroke="#888" stroke-width="0.5" />
<text x="189.5" y="643.3" font-family="Liberation Sans" font-size="4.4" font-weight="normal" fill="#444" text-anchor="middle" >6000</text>
<line x1="207.7" y1="637.3" x2="207.7" y2="638.8" stroke="#888" stroke-width="0.5" />
<text x="207.7" y="643.3" font-family="Liberation Sans" font-size="4.4" font-weight="normal" fill="#444" text-anchor="middle" >7000</text>
<line x1="226.4" y1="637.3" x2="226.4" y2="638.8" stroke="#888" stroke-width="0.5" />
<text x="226.4" y="643.3" font-family="Liberation Sans" font-size="4.4" font-weight="normal" fill="#444" text-anchor="middle" >8000</text>
<line x1="244.6" y1="637.3" x2="244.6" y2="638.8" stroke="#888" stroke-width="0.5" />
<text x="244.6" y="643.3" font-family="Liberation Sans" font-size="4.4" font-weight="normal" fill="#444" text-anchor="middle" >9000</text>
<line x1="262.5" y1="637.3" x2="262.5" y2="638.8" stroke="#888" stroke-width="0.5" />
<text x="262.5" y="643.3" font-family="Liberation Sans" font-size="4.4" font-weight="normal" fill="#444" text-anchor="middle" >10000</text>
<line x1="281.2" y1="637.3" x2="281.2" y2="638.8" stroke="#888" stroke-width="0.5" />
<text x="281.2" y="643.3" font-family="Liberation Sans" font-size="4.4" font-weight="normal" fill="#444" text-anchor="middle" >11000</text>
<line x1="297" y1="637.3" x2="297" y2="638.8" stroke="#888" stroke-width="0.5" />
<text x="297" y="643.3" font-family="Liberation Sans" font-size="4.4" font-weight="normal" fill="#444" text-anchor="middle" >12000</text>
<text x="163" y="637.5" font-family="Liberation Sans" font-size="3.3" font-weight="normal" fill="#777" text-anchor="middle" >mass</text>
<text x="304.5" y="638.3" font-family="Liberation Sans" font-size="3.3" font-weight="normal" fill="#777" text-anchor="middle" >mass</text>
<path d="M197.08 580.26V625.3M198.65 582.49V625.3M215.47 562.4V625.3M216.61 588.39V625.3M218.02 591.15V625.3M231.74 581.92V625.3M254.9 587.46V625.3M294.16 586.13V625.3" stroke="#c8c8c8" stroke-width="0.55"/>
<path d="M172.8 611.47V629.3M173.93 597.83V629.3M175.1 600.22V629.3M177.82 602.33V629.3M180.23 600.28V629.3M182.94 591.31V629.3M185.63 610.36V629.3M186.64 589.7V629.3M191.33 611.24V629.3M192.97 596.78V629.3M199.71 613.29V629.3M203.12 610.56V629.3M207.3 594.31V629.3M210.14 612.73V629.3M211.24 611.79V629.3M212.34 603.78V629.3M220.57 608.39V629.3M224.56 609.59V629.3M228.74 596.19V629.3M230.22 609.87V629.3M233.42 605.3V629.3M238.25 593.68V629.3M240.97 600.4V629.3M243.86 608.2V629.3M245.48 600.74V629.3M252.29 594.43V629.3M253.53 612.57V629.3M258.8 598.2V629.3M264.67 613.25V629.3M265.74 603.25V629.3M267.42 608.43V629.3M270.22 597.94V629.3M273.19 606.35V629.3M274.28 606.69V629.3M278.29 610.28V629.3M285.58 612.92V629.3M287.76 605.53V629.3M293.12 603.03V629.3M296.43 599.87V629.3" stroke="#707070" stroke-width="0.55"/>
<line x1="192" y1="555" x2="192" y2="632.3" stroke="#b4b4b4" stroke-width="0.6" />
<line x1="206" y1="555" x2="206" y2="632.3" stroke="#b4b4b4" stroke-width="0.6" />
<line x1="235.5" y1="561" x2="235.5" y2="632.3" stroke="#b4b4b4" stroke-width="0.6" />
<line x1="258" y1="568" x2="258" y2="632.3" stroke="#b4b4b4" stroke-width="0.6" />
<line x1="276.7" y1="565" x2="276.7" y2="632.3" stroke="#b4b4b4" stroke-width="0.6" />
<line x1="293" y1="568" x2="293" y2="632.3" stroke="#b4b4b4" stroke-width="0.6" />
<line x1="187" y1="590" x2="187" y2="632.3" stroke="#333" stroke-width="0.8" />
<line x1="222" y1="590" x2="222" y2="632.3" stroke="#333" stroke-width="0.8" />
<line x1="279" y1="589" x2="279" y2="632.3" stroke="#333" stroke-width="0.8" />
<line x1="209" y1="600" x2="209" y2="632.3" stroke="#333" stroke-width="0.8" />
<line x1="255" y1="598" x2="255" y2="632.3" stroke="#333" stroke-width="0.8" />
<line x1="266" y1="602" x2="266" y2="632.3" stroke="#333" stroke-width="0.8" />
<line x1="244" y1="603" x2="244" y2="632.3" stroke="#333" stroke-width="0.8" />
<line x1="198" y1="604" x2="198" y2="632.3" stroke="#333" stroke-width="0.8" />
<polygon points="171.4,637.3 171.4,634.6 171.7,622 172,628.76 172.3,628.04 172.6,630.6 172.9,624 173.2,631.22 173.5,627.47 173.8,634.99 174.1,629.76 174.4,633.6 174.7,629.55 175,632 175.3,630.89 175.6,631.8 175.9,630.71 176.2,635.02 176.5,628.7 176.8,634.44 177.1,621.8 177.4,629.19 177.7,626.95 178,629.61 178.3,623.62 178.6,631.26 178.9,623.54 179.2,634.69 179.5,619.84 179.8,633.76 180.1,624.48 180.4,628.54 180.7,623.19 181,628 181.3,629.03 181.6,634.79 181.9,618.5 182.2,630.11 182.5,628.43 182.8,628.45 183.1,620.77 183.4,630.25 183.7,622.14 184,633.97 184.3,621.42 184.6,626.54 184.9,614.1 185.2,633.53 185.5,617.87 185.8,634.74 186.1,618.05 186.4,630.99 186.7,623.94 187,626.33 187.3,625.51 187.6,633.31 187.9,620.01 188.2,632.76 188.5,623.87 188.8,632.3 189.1,615.31 189.4,632.59 189.7,616.07 190,632.85 190.3,629.89 190.6,633.29 190.9,626.43 191.2,632.64 191.5,625.97 191.8,626.51 192.1,625.03 192.4,631.43 192.7,620.33 193,625.68 193.3,616.71 193.6,626.35 193.9,622.66 194.2,624.8 194.5,619.07 194.8,631.31 195.1,612.2 195.4,631.9 195.7,611.29 196,630.78 196.3,623.19 196.6,632.25 196.9,614.81 197.2,631.56 197.5,619.27 197.8,630.19 198.1,612.98 198.4,630.39 198.7,619.86 199,632.11 199.3,625.64 199.6,633.04 199.9,616.18 200.2,627.96 200.5,617.02 200.8,625.44 201.1,617.76 201.4,634.46 201.7,622.63 202,630.71 202.3,615.39 202.6,634.59 202.9,620.02 203.2,630.76 203.5,629.34 203.8,631.99 204.1,617.91 204.4,629.21 204.7,619.37 205,629.78 205.3,627.56 205.6,632.9 205.9,624.46 206.2,632.51 206.5,622.53 206.8,632.02 207.1,628.23 207.4,633.91 207.7,623.76 208,635.57 208.3,620.11 208.6,628.59 208.9,620.52 209.2,629.32 209.5,626.38 209.8,632.87 210.1,619.47 210.4,634.34 210.7,618.69 211,629.77 211.3,618.01 211.6,628.54 211.9,624.46 212.2,634.67 212.5,624.26 212.8,628.58 213.1,624.3 213.4,627.05 213.7,624.26 214,634.94 214.3,618.08 214.6,631.95 214.9,622.88 215.2,633.39 215.5,627.14 215.8,628.25 216.1,627.14 216.4,628.37 216.7,623.02 217,630.05 217.3,621.64 217.6,629.4 217.9,625.28 218.2,629.69 218.5,622.79 218.8,633.96 219.1,625.98 219.4,632.28 219.7,622.6 220,628.96 220.3,625.45 220.6,627.73 220.9,625.22 221.2,628.8 221.5,627.38 221.8,631.88 222.1,613.06 222.4,632.86 222.7,618.37 223,628.86 223.3,615.38 223.6,623.15 223.9,624.27 224.2,634.09 224.5,617.35 224.8,632.86 225.1,615.95 225.4,630.88 225.7,619.82 226,627.57 226.3,621.02 226.6,624.79 226.9,617.1 227.2,625.15 227.5,608.88 227.8,634.26 228.1,621.83 228.4,632.44 228.7,623.96 229,633.1 229.3,611.21 229.6,629.96 229.9,616.06 230.2,625.61 230.5,619.24 230.8,625.91 231.1,626.93 231.4,625.53 231.7,623.7 232,632.43 232.3,618.55 232.6,630.8 232.9,619.22 233.2,626.14 233.5,618.27 233.8,634.1 234.1,617.04 234.4,629.76 234.7,625.91 235,634.07 235.3,622.42 235.6,631.7 235.9,629.38 236.2,626.76 236.5,624.8 236.8,632.3 237.1,626.31 237.4,627 237.7,619.2 238,634.86 238.3,623.79 238.6,634.66 238.9,624.81 239.2,634.27 239.5,622.7 239.8,627.11 240.1,616.79 240.4,633.53 240.7,615.81 241,632.01 241.3,617.48 241.6,626.44 241.9,619.04 242.2,633.63 242.5,615.33 242.8,628.64 243.1,625.01 243.4,632.31 243.7,627.22 244,633.96 244.3,626.09 244.6,633.25 244.9,626.74 245.2,633.09 245.5,630.53 245.8,629.63 246.1,625.82 246.4,630.71 246.7,627.55 247,633.55 247.3,620.14 247.6,635.41 247.9,620.44 248.2,631.94 248.5,620.08 248.8,633.95 249.1,631.39 249.4,632.69 249.7,623.97 250,629.52 250.3,622.13 250.6,632.64 250.9,622.74 251.2,635.02 251.5,625.58 251.8,629.82 252.1,628.81 252.4,633.93 252.7,628.69 253,630.55 253.3,632.24 253.6,633.98 253.9,621.03 254.2,632.43 254.5,620.45 254.8,632.6 255.1,626.08 255.4,629.84 255.7,626.98 256,630.51 256.3,619.72 256.6,630.94 256.9,616.25 257.2,626.48 257.5,618.7 257.8,631.52 258.1,615.7 258.4,627.52 258.7,622.64 259,634.61 259.3,616.5 259.6,629.68 259.9,616.2 260.2,624.94 260.5,617.02 260.8,625.06 261.1,628.19 261.4,625.14 261.7,613.97 262,625.83 262.3,625.83 262.6,631.76 262.9,613.11 263.2,631.57 263.5,620.36 263.8,626.34 264.1,627.68 264.4,625.33 264.7,629.79 265,631.09 265.3,615.5 265.6,629.67 265.9,616.94 266.2,627.34 266.5,629.99 266.8,634.81 267.1,616.5 267.4,634.13 267.7,622.88 268,634.85 268.3,619.48 268.6,631.91 268.9,629.3 269.2,626.95 269.5,616.89 269.8,632.42 270.1,613.46 270.4,625.13 270.7,621.89 271,627.83 271.3,615.27 271.6,626.53 271.9,619.75 272.2,629.6 272.5,628.32 272.8,631.04 273.1,625.25 273.4,628.94 273.7,622.54 274,624.52 274.3,620.51 274.6,634.63 274.9,621.9 275.2,629.3 275.5,611.11 275.8,634.55 276.1,628.13 276.4,627.28 276.7,612.57 277,629.09 277.3,623.05 277.6,633.81 277.9,623.41 278.2,628.04 278.5,621.98 278.8,628.17 279.1,626.18 279.4,629.71 279.7,622.39 280,630.74 280.3,619.87 280.6,631.59 280.9,620.09 281.2,629.36 281.5,621.67 281.8,634.95 282.1,622.17 282.4,633.59 282.7,621.88 283,631.67 283.3,629.69 283.6,634.36 283.9,631.1 284.2,632.77 284.5,623.82 284.8,633.74 285.1,628.55 285.4,634.71 285.7,625.14 286,630.68 286.3,628.38 286.6,634.77 286.9,625.25 287.2,635.38 287.5,622.52 287.8,633.1 288.1,626.39 288.4,633.97 288.7,626.74 289,630.83 289.3,628.03 289.6,630.93 289.9,617.61 290.2,629.15 290.5,622.13 290.8,631.48 291.1,617.85 291.4,630.31 291.7,622.8 292,631.5 292.3,627.65 292.6,634.88 292.9,621.76 293.2,627.73 293.5,616.92 293.8,628.51 294.1,625.2 294.4,631.36 294.7,620.09 295,627.48 295.3,624.07 295.6,633.85 295.9,620.72 296.2,632.04 296.5,625.46 296.8,630.68 297.1,626.92 297.4,634.96 297.7,623.98 298,634.35 298.3,627.47 298.5,637.3" fill="#000" />
<line x1="222.9" y1="525" x2="222.9" y2="637.3" stroke="#333" stroke-width="1.1" />
<line x1="223.1" y1="580" x2="223.1" y2="637.3" stroke="#111" stroke-width="1.3" />
<text x="220.5" y="521.8" font-family="Liberation Serif" font-size="11" font-weight="bold" fill="#000" text-anchor="start" textLength="20.5" lengthAdjust="spacingAndGlyphs" stroke="#000" stroke-width="0.2" >7794</text>
<text x="250.65" y="526.6" font-family="Liberation Serif" font-size="7.3" font-weight="bold" fill="#000" text-anchor="start" textLength="30.2" lengthAdjust="spacingAndGlyphs" stroke="#000" stroke-width="0.2" >CCL3L1</text>
<text x="7.1" y="519.2" font-family="Liberation Serif" font-size="8.4" font-weight="bold" fill="#000" text-anchor="start" textLength="68" lengthAdjust="spacingAndGlyphs" stroke="#000" stroke-width="0.2" transform="rotate(-90 7.1 519.2)">Peak intensity (%)</text>
<text x="116.35" y="661.6" font-family="Liberation Serif" font-size="8.3" font-weight="bold" fill="#000" text-anchor="start" textLength="116.3" lengthAdjust="spacingAndGlyphs" stroke="#000" stroke-width="0.2" >Molecular mass/charge (m/z)</text>
<text x="321" y="17.5" font-family="Liberation Sans" font-size="18.5" font-weight="bold" fill="#000" text-anchor="start" textLength="14.4" lengthAdjust="spacingAndGlyphs" >C</text>
<line x1="350.6" y1="21" x2="350.6" y2="93.1" stroke="#777" stroke-width="1" />
<line x1="350.1" y1="92.6" x2="501.25" y2="92.6" stroke="#777" stroke-width="1" />
<text x="349.4" y="22.3" font-family="Liberation Sans" font-size="3.74" font-weight="bold" fill="#555" text-anchor="end" >100</text>
<text x="349.1" y="57.8" font-family="Liberation Sans" font-size="3.74" font-weight="bold" fill="#555" text-anchor="end" >%</text>
<text x="349.1" y="93.9" font-family="Liberation Sans" font-size="3.96" font-weight="bold" fill="#555" text-anchor="end" >0</text>
<line x1="376.25" y1="92.6" x2="376.25" y2="94.1" stroke="#888" stroke-width="0.5" />
<text x="376.25" y="96.5" font-family="Liberation Sans" font-size="3.96" font-weight="normal" fill="#777" text-anchor="middle" >8000</text>
<line x1="400" y1="92.6" x2="400" y2="94.1" stroke="#888" stroke-width="0.5" />
<text x="400" y="96.5" font-family="Liberation Sans" font-size="3.96" font-weight="normal" fill="#777" text-anchor="middle" >10000</text>
<line x1="423.75" y1="92.6" x2="423.75" y2="94.1" stroke="#888" stroke-width="0.5" />
<text x="423.75" y="96.5" font-family="Liberation Sans" font-size="3.96" font-weight="normal" fill="#777" text-anchor="middle" >12000</text>
<line x1="448" y1="92.6" x2="448" y2="94.1" stroke="#888" stroke-width="0.5" />
<text x="448" y="96.5" font-family="Liberation Sans" font-size="3.96" font-weight="normal" fill="#777" text-anchor="middle" >14000</text>
<line x1="475" y1="92.6" x2="475" y2="94.1" stroke="#888" stroke-width="0.5" />
<text x="475" y="96.5" font-family="Liberation Sans" font-size="3.96" font-weight="normal" fill="#777" text-anchor="middle" >16000</text>
<line x1="500" y1="92.6" x2="500" y2="94.1" stroke="#888" stroke-width="0.5" />
<text x="500" y="96.5" font-family="Liberation Sans" font-size="3.96" font-weight="normal" fill="#777" text-anchor="middle" >18000</text>
<text x="510" y="93.3" font-family="Liberation Sans" font-size="3.3" font-weight="normal" fill="#777" text-anchor="middle" >mass</text>
<polygon points="351.2,92.6 351.2,91.26 351.48,86.13 351.75,90.28 352.03,88.82 352.3,89.4 352.58,87.43 352.85,91.22 353.13,90.44 353.4,90.35 353.68,90.16 353.95,91.33 354.23,89.39 354.5,89.93 354.78,86.38 355.05,91.78 355.33,88.55 355.6,91.43 355.88,84.82 356.15,91.16 356.43,84.74 356.7,88.02 356.98,86.35 357.25,90.16 357.53,85.75 357.8,91.39 358.08,82.93 358.35,88.26 358.63,87.65 358.9,87.91 359.18,83.95 359.45,89.29 359.73,84.37 360,89.75 360.28,83.85 360.55,87.92 360.83,83.34 361.1,90.06 361.38,85.96 361.65,87.25 361.93,86.17 362.2,88.34 362.48,81.65 362.75,89.35 363.03,84.82 363.3,90.59 363.58,84.62 363.85,89.05 364.13,88.02 364.4,90.32 364.68,83.5 364.95,89.62 365.23,87.84 365.5,91.6 365.78,85.62 366.05,90.87 366.33,87.08 366.6,89.89 366.88,86.86 367.15,90.15 367.43,87.78 367.7,90.68 367.98,89.77 368.25,91.83 368.53,89.03 368.8,92.1 369.08,89.16 369.35,91.29 369.63,88.61 369.9,91.4 370.18,89.15 370.45,91.66 370.73,88.43 371,87.76 371.28,84.38 371.55,90.2 371.83,80.97 372.1,87.7 372.38,88.49 372.65,87.76 372.93,82.92 373.2,89.64 373.48,87.17 373.75,89.74 374.03,89.07 374.3,91.51 374.58,88.18 374.85,90.35 375.13,91.08 375.4,90.88 375.68,88.25 375.95,91.51 376.23,89.31 376.5,89.69 376.78,89.99 377.05,91.59 377.33,90.2 377.6,91.28 377.88,84.88 378.15,91.2 378.43,86.08 378.7,89.67 378.98,87.89 379.25,90.86 379.53,86.68 379.8,89.45 380.08,89.22 380.35,88.36 380.63,84.53 380.9,91.68 381.18,86.77 381.45,91.14 381.73,85.6 382,89.4 382.28,87.98 382.55,90.67 382.83,84.5 383.1,89.85 383.38,86.13 383.65,91.23 383.93,85.28 384.2,88.41 384.48,82.19 384.75,88.31 385.03,84.77 385.3,91.13 385.58,82.27 385.85,89.76 386.13,86.14 386.4,90.97 386.68,88.4 386.95,88.27 387.23,85.74 387.5,91.53 387.78,84.98 388.05,89.83 388.33,87.2 388.6,91.02 388.88,89.72 389.15,91.02 389.43,86.18 389.7,89.53 389.98,87.51 390.25,90.52 390.53,87.15 390.8,88.38 391.08,89.33 391.35,89.85 391.63,85.02 391.9,88.6 392.18,85.21 392.45,88.95 392.73,83.55 393,88.93 393.28,87.71 393.55,90.21 393.83,85.54 394.1,88.36 394.38,83.93 394.65,90.8 394.93,87.79 395.2,90.23 395.48,89.86 395.75,89.26 396.03,86.75 396.3,91.6 396.58,85.79 396.85,91.25 397.13,88.44 397.4,89.57 397.68,88.46 397.95,90.52 398.23,88.03 398.5,90.98 398.78,84.62 399.05,88.92 399.33,86.95 399.6,87.16 399.88,85.15 400.15,88.54 400.43,86.48 400.7,89.57 400.98,86.43 401.25,86.55 401.53,88.43 401.8,86.08 402.08,81.45 402.35,90.81 402.63,81.06 402.9,89.35 403.18,87.48 403.45,90.34 403.73,83.69 404,85.58 404.28,83.61 404.55,86.58 404.83,79.78 405.1,90.88 405.38,86.06 405.65,87.84 405.93,85.43 406.2,85.86 406.48,77.92 406.75,90.92 407.03,81.11 407.3,85.38 407.58,79.45 407.85,89.92 408.13,87.16 408.4,87.56 408.68,81.48 408.95,86.68 409.23,84.65 409.5,89.32 409.78,85.32 410.05,86.51 410.33,87.73 410.6,87.61 410.88,86.45 411.15,90.89 411.43,87.95 411.7,87.23 411.98,81.39 412.25,90.47 412.53,78.2 412.8,88.5 413.08,80.13 413.35,87.7 413.63,86.74 413.9,89.67 414.18,87.25 414.45,87.73 414.73,80.77 415,86.71 415.28,82.3 415.55,85.79 415.83,79.05 416.1,86.63 416.38,84.94 416.65,84.7 416.93,80.64 417.2,83.62 417.48,81.55 417.75,83.4 418.03,75.76 418.3,85.81 418.58,77.92 418.85,85.74 419.13,84.27 419.4,86.94 419.68,75.95 419.95,84.31 420.23,80.78 420.5,86.58 420.78,78.54 421.05,90.75 421.33,84.12 421.6,88.6 421.88,81.43 422.15,90.85 422.43,88.84 422.7,89.13 422.98,89.19 423.25,90.83 423.53,88.82 423.8,89.79 424.08,84.12 424.35,91.26 424.63,88.17 424.9,89.29 425.18,84.68 425.45,89.02 425.73,87.6 426,89.88 426.28,85.37 426.55,88.89 426.83,84.99 427.1,88.39 427.38,81.59 427.65,87.43 427.93,79.47 428.2,89.12 428.48,88.48 428.75,88.08 429.03,82.72 429.3,90.18 429.58,86.03 429.85,86.85 430.13,83.62 430.4,86.71 430.68,83.36 430.95,88.99 431.23,81.86 431.5,86.99 431.78,79 432.05,88.62 432.33,84.62 432.6,85.45 432.88,76.23 433.15,84.53 433.43,75.49 433.7,85.73 433.98,84.36 434.25,88.45 434.53,76.54 434.8,88.77 435.08,82.99 435.35,84.76 435.63,82.88 435.9,87.95 436.18,77.21 436.45,89.2 436.73,84.53 437,87.69 437.28,85.08 437.55,86.09 437.83,86.81 438.1,86.61 438.38,81.31 438.65,83.96 438.93,82.11 439.2,86.16 439.48,81.99 439.75,85.07 440.03,78.25 440.3,86.7 440.58,83.3 440.85,90.47 441.13,77.4 441.4,88.85 441.68,78.03 441.95,89.95 442.23,79.45 442.5,84.56 442.78,81.96 443.05,89.17 443.33,86.24 443.6,89.77 443.88,79.25 444.15,89.41 444.43,85.87 444.7,90.18 444.98,82.51 445.25,89.61 445.53,79.27 445.8,90.34 446.08,84.23 446.35,90.17 446.63,84.39 446.9,84.72 447.18,79.89 447.45,90.6 447.73,82.19 448,83.27 448.28,81.03 448.55,90.27 448.83,78.8 449.1,84.19 449.38,77.61 449.65,83 449.93,85.01 450.2,84.37 450.48,76.16 450.75,89.34 451.03,81.47 451.3,85.55 451.58,80.93 451.85,90.23 452.13,82.29 452.4,88.01 452.68,75.25 452.95,89.28 453.23,81.33 453.5,84.65 453.78,78.74 454.05,86.88 454.33,71.66 454.6,83.6 454.88,74.42 455.15,84.65 455.43,78.26 455.7,85.15 455.98,79.08 456.25,88.23 456.53,68.94 456.8,88.15 457.08,84.41 457.35,81.77 457.63,78.97 457.9,88.05 458.18,74.23 458.45,83.39 458.73,76.4 459,87.67 459.28,75.44 459.55,83.75 459.83,77.06 460.1,81.64 460.38,70.93 460.65,83.42 460.93,71.49 461.2,80.26 461.48,69.15 461.75,79.66 462.03,78.16 462.3,79.7 462.58,81.03 462.85,83.29 463.13,78.84 463.4,81.26 463.68,72.24 463.95,80.89 464.23,66.74 464.5,80.11 464.78,63.9 465.05,81.58 465.33,72.78 465.6,82.72 465.88,75.47 466.15,87.15 466.43,82.31 466.7,88.99 466.98,85.48 467.25,86.19 467.53,73.29 467.8,89.29 468.08,76.99 468.35,86.12 468.63,73.6 468.9,86.54 469.18,73.08 469.45,86.92 469.73,73.43 470,81.07 470.28,80.73 470.55,87.45 470.83,74.07 471.1,89.18 471.38,79.98 471.65,87.43 471.93,76.21 472.2,88.18 472.48,74.57 472.75,89.15 473.03,80.83 473.3,90.31 473.58,74.39 473.85,85.57 474.13,77.41 474.4,82.88 474.68,75.84 474.95,83.26 475.23,83.68 475.5,87.24 475.78,80.53 476.05,86.22 476.33,71.2 476.6,82.62 476.88,71.89 477.15,86.86 477.43,79.03 477.7,81.3 477.98,67.54 478.25,80.26 478.53,68.51 478.8,82.68 479.08,69.9 479.35,83.02 479.63,65.26 479.9,79.31 480.18,81.85 480.45,84.2 480.73,65.74 481,83.76 481.28,81.41 481.55,82.1 481.83,83.67 482.1,88.39 482.38,72.02 482.65,89.2 482.93,66.25 483.2,85.01 483.48,72.69 483.75,83.2 484.03,75.97 484.3,81.77 484.58,80.3 484.85,81.9 485.13,79.85 485.4,88.41 485.68,76.88 485.95,87.53 486.23,78.38 486.5,89.06 486.78,75.73 487.05,88.28 487.33,80.8 487.6,87.42 487.88,71.16 488.15,85.59 488.43,71.9 488.7,87.02 488.98,74.02 489.25,84.71 489.53,71.43 489.8,80.63 490.08,79.61 490.35,80.15 490.63,75 490.9,89.16 491.18,72.05 491.45,82.89 491.73,77.48 492,87.94 492.28,80.77 492.55,84.52 492.83,75.4 493.1,87.74 493.38,70.7 493.65,85.35 493.93,74.07 494.2,84.73 494.48,68.6 494.75,87.55 495.03,76.34 495.3,82.76 495.58,71.74 495.85,82.9 496.13,76.43 496.4,86.38 496.68,81.14 496.95,80.61 497.23,69.51 497.5,82.06 497.78,76.67 498.05,81.86 498.33,84.25 498.6,86.85 498.88,79.56 499.15,89.84 499.43,74.75 499.7,88.35 499.98,82.63 500.25,83.55 500.53,82.13 500.8,88.95 501.08,76.63 501.25,92.6" fill="#000" />
<path d="M354.23 92.6V83.73M361.93 92.6V81.98M369.63 92.6V87.91M374.58 92.6V86.25M381.18 92.6V81.36M382.28 92.6V83.25M386.68 92.6V78.06M394.38 92.6V83.21M402.08 92.6V76.78M410.33 92.6V77.17M418.03 92.6V71.46M426.83 92.6V77.55M430.13 92.6V77.73M433.43 92.6V72.87M436.73 92.6V69.01M467.53 92.6V65.2M472.48 92.6V69.88M485.13 92.6V57.9M486.78 92.6V68.86M496.13 92.6V65.14" stroke="#8a8a8a" stroke-width="0.6" fill="none" opacity="1"/>
<line x1="355" y1="84.5" x2="355" y2="92.6" stroke="#777" stroke-width="0.6" />
<line x1="372" y1="80" x2="372" y2="92.6" stroke="#777" stroke-width="0.6" />
<line x1="381" y1="82" x2="381" y2="92.6" stroke="#777" stroke-width="0.6" />
<line x1="404" y1="76" x2="404" y2="92.6" stroke="#777" stroke-width="0.6" />
<line x1="418.5" y1="70.5" x2="418.5" y2="92.6" stroke="#777" stroke-width="0.6" />
<line x1="463" y1="67" x2="463" y2="92.6" stroke="#777" stroke-width="0.6" />
<line x1="480" y1="69" x2="480" y2="92.6" stroke="#777" stroke-width="0.6" />
<line x1="496" y1="73" x2="496" y2="92.6" stroke="#777" stroke-width="0.6" />
<line x1="429" y1="80" x2="429" y2="92.6" stroke="#777" stroke-width="0.6" />
<line x1="411" y1="78" x2="411" y2="92.6" stroke="#777" stroke-width="0.6" />
<line x1="392" y1="80" x2="392" y2="92.6" stroke="#777" stroke-width="0.6" />
<polygon points="437.5,92.6 440.8,86 442,76 442.7,66 443.2,56 443.8,66 444.7,76 446.6,86 450.5,92.6" fill="#000" />
<line x1="443" y1="21.5" x2="443" y2="60" stroke="#999" stroke-width="1.1" />
<text x="430.3" y="15.7" font-family="Liberation Serif" font-size="11" font-weight="bold" fill="#000" text-anchor="start" textLength="26" lengthAdjust="spacingAndGlyphs" stroke="#000" stroke-width="0.2" >13830</text>
<text x="443" y="19.8" font-family="Liberation Sans" font-size="3.85" font-weight="bold" fill="#222" text-anchor="middle" >13820.0</text>
<text x="360.3" y="83.3" font-family="Liberation Sans" font-size="3.85" font-weight="bold" fill="#222" text-anchor="middle" >6780.0</text>
<text x="370.4" y="79" font-family="Liberation Sans" font-size="3.85" font-weight="bold" fill="#222" text-anchor="middle" >7645.0</text>
<text x="403.3" y="75" font-family="Liberation Sans" font-size="3.85" font-weight="bold" fill="#222" text-anchor="middle" >10120.0</text>
<text x="419.5" y="70" font-family="Liberation Sans" font-size="3.85" font-weight="bold" fill="#222" text-anchor="middle" >11430.0</text>
<text x="465" y="66" font-family="Liberation Sans" font-size="3.85" font-weight="bold" fill="#222" text-anchor="middle" >15060.0</text>
<text x="480.5" y="68.5" font-family="Liberation Sans" font-size="3.85" font-weight="bold" fill="#222" text-anchor="middle" >16330.0</text>
<text x="496" y="72.3" font-family="Liberation Sans" font-size="3.85" font-weight="bold" fill="#222" text-anchor="middle" >17670.0</text>
<text x="321" y="117.6" font-family="Liberation Sans" font-size="18" font-weight="bold" fill="#000" text-anchor="start" textLength="13.6" lengthAdjust="spacingAndGlyphs" >D</text>
<line x1="350" y1="134" x2="350" y2="206" stroke="#777" stroke-width="1" />
<line x1="349.5" y1="205.5" x2="493.75" y2="205.5" stroke="#777" stroke-width="1" />
<text x="348.8" y="135.3" font-family="Liberation Sans" font-size="3.74" font-weight="bold" fill="#555" text-anchor="end" >100</text>
<text x="348.5" y="170.75" font-family="Liberation Sans" font-size="3.74" font-weight="bold" fill="#555" text-anchor="end" >%</text>
<text x="348.5" y="206.8" font-family="Liberation Sans" font-size="3.96" font-weight="bold" fill="#555" text-anchor="end" >0</text>
<line x1="368" y1="205.5" x2="368" y2="207" stroke="#888" stroke-width="0.5" />
<text x="368" y="210" font-family="Liberation Sans" font-size="3.96" font-weight="normal" fill="#777" text-anchor="middle" >6500</text>
<line x1="385" y1="205.5" x2="385" y2="207" stroke="#888" stroke-width="0.5" />
<text x="385" y="210" font-family="Liberation Sans" font-size="3.96" font-weight="normal" fill="#777" text-anchor="middle" >7000</text>
<line x1="403.75" y1="205.5" x2="403.75" y2="207" stroke="#888" stroke-width="0.5" />
<text x="403.75" y="210" font-family="Liberation Sans" font-size="3.96" font-weight="normal" fill="#777" text-anchor="middle" >7500</text>
<line x1="421.25" y1="205.5" x2="421.25" y2="207" stroke="#888" stroke-width="0.5" />
<text x="421.25" y="210" font-family="Liberation Sans" font-size="3.96" font-weight="normal" fill="#777" text-anchor="middle" >8000</text>
<line x1="438.25" y1="205.5" x2="438.25" y2="207" stroke="#888" stroke-width="0.5" />
<text x="438.25" y="210" font-family="Liberation Sans" font-size="3.96" font-weight="normal" fill="#777" text-anchor="middle" >8500</text>
<line x1="456.25" y1="205.5" x2="456.25" y2="207" stroke="#888" stroke-width="0.5" />
<text x="456.25" y="210" font-family="Liberation Sans" font-size="3.96" font-weight="normal" fill="#777" text-anchor="middle" >9000</text>
<line x1="474.25" y1="205.5" x2="474.25" y2="207" stroke="#888" stroke-width="0.5" />
<text x="474.25" y="210" font-family="Liberation Sans" font-size="3.96" font-weight="normal" fill="#777" text-anchor="middle" >9500</text>
<line x1="490" y1="205.5" x2="490" y2="207" stroke="#888" stroke-width="0.5" />
<text x="490" y="210" font-family="Liberation Sans" font-size="3.96" font-weight="normal" fill="#777" text-anchor="middle" >10000</text>
<text x="500" y="206.5" font-family="Liberation Sans" font-size="3.3" font-weight="normal" fill="#777" text-anchor="middle" >mass</text>
<polygon points="350.6,205.5 350.6,204.99 350.95,203.57 351.3,203.65 351.65,203.42 352,204.5 352.35,201.12 352.7,203.32 353.05,201.19 353.4,203.64 353.75,201.72 354.1,202.31 354.45,203.05 354.8,203.69 355.15,202.29 355.5,203.65 355.85,198.21 356.2,203.99 356.55,199.58 356.9,201.33 357.25,197.73 357.6,203.83 357.95,197.27 358.3,204.42 358.65,197.49 359,201.89 359.35,200.72 359.7,201.47 360.05,200.77 360.4,203.54 360.75,201.96 361.1,203.06 361.45,199.19 361.8,201 362.15,195.4 362.5,200.46 362.85,196.72 363.2,203.83 363.55,198.07 363.9,202.03 364.25,201.9 364.6,201.33 364.95,198.89 365.3,204.34 365.65,200.43 366,202.7 366.35,197.76 366.7,203.47 367.05,199.21 367.4,202.74 367.75,200.74 368.1,204.65 368.45,199.44 368.8,204.49 369.15,202.32 369.5,203.17 369.85,202.03 370.2,203.44 370.55,202.91 370.9,203.85 371.25,201.84 371.6,204.57 371.95,200.58 372.3,197.91 372.65,192.29 373,198.5 373.35,188.43 373.7,204.78 374.05,201.43 374.4,204.62 374.75,203.72 375.1,203.07 375.45,203.61 375.8,204.44 376.15,202.83 376.5,204.14 376.85,202.69 377.2,202.99 377.55,200.91 377.9,203.67 378.25,200.63 378.6,203.39 378.95,199.42 379.3,204.31 379.65,202.34 380,202.29 380.35,197.72 380.7,202.75 381.05,201.86 381.4,204.26 381.75,200.23 382.1,203.36 382.45,200.89 382.8,202.24 383.15,199.54 383.5,202.06 383.85,198.56 384.2,204.58 384.55,199.37 384.9,203.89 385.25,201.82 385.6,203.64 385.95,200.91 386.3,203.68 386.65,202.17 387,203.89 387.35,200.04 387.7,202.9 388.05,203.21 388.4,203.42 388.75,201.57 389.1,202.87 389.45,202.61 389.8,204.91 390.15,202.04 390.5,204.08 390.85,203.99 391.2,203.56 391.55,202.91 391.9,202.97 392.25,200.86 392.6,202.55 392.95,194.11 393.3,202.37 393.65,200.05 394,203.84 394.35,203.21 394.7,203.96 395.05,200.83 395.4,203.92 395.75,200.84 396.1,204.11 396.45,201.17 396.8,204.4 397.15,201.91 397.5,204.26 397.85,200.4 398.2,202.95 398.55,201.72 398.9,202.31 399.25,202.77 399.6,202.83 399.95,196.51 400.3,204.16 400.65,199.38 401,201.04 401.35,196.52 401.7,203.64 402.05,190.65 402.4,197.78 402.75,188.05 403.1,193.75 403.45,182.77 403.8,200.35 404.15,195.85 404.5,197.54 404.85,199.16 405.2,198.66 405.55,197.36 405.9,202.16 406.25,193.43 406.6,200.7 406.95,201.78 407.3,202.71 407.65,199.46 408,201.93 408.35,196.97 408.7,201.67 409.05,200.33 409.4,202.38 409.75,200.65 410.1,203.2 410.45,199.18 410.8,204.55 411.15,201.75 411.5,204.12 411.85,199.79 412.2,204.26 412.55,202.66 412.9,203.58 413.25,202.54 413.6,204.54 413.95,202.93 414.3,204.65 414.65,201.25 415,202.95 415.35,202.35 415.7,202.26 416.05,201.09 416.4,200.78 416.75,197.6 417.1,203.95 417.45,200.34 417.8,204.74 418.15,200.99 418.5,202.68 418.85,200.94 419.2,204.49 419.55,199.95 419.9,202.32 420.25,198.81 420.6,202.94 420.95,199.04 421.3,202.98 421.65,198.66 422,202.91 422.35,198.07 422.7,203.79 423.05,202.42 423.4,204.14 423.75,197.16 424.1,202.82 424.45,197.95 424.8,204.17 425.15,200.04 425.5,203.12 425.85,202.04 426.2,203.53 426.55,200.62 426.9,202.12 427.25,201.08 427.6,202.75 427.95,202.08 428.3,202.34 428.65,202.39 429,202.84 429.35,200.55 429.7,202.71 430.05,200.06 430.4,202.8 430.75,200.99 431.1,204.58 431.45,203.37 431.8,203.23 432.15,202.55 432.5,204.87 432.85,202.49 433.2,204.94 433.55,203 433.9,204.93 434.25,202.73 434.6,204.76 434.95,203.99 435.3,204.78 435.65,201.03 436,203.71 436.35,201.12 436.7,204.46 437.05,200.73 437.4,201.02 437.75,199.97 438.1,199.95 438.45,192.23 438.8,203.78 439.15,202.86 439.5,202.49 439.85,200.88 440.2,202.97 440.55,200.29 440.9,202.18 441.25,199.92 441.6,203.71 441.95,202.23 442.3,203.57 442.65,201.66 443,202.53 443.35,197.6 443.7,203.11 444.05,198.68 444.4,203.19 444.75,199.41 445.1,204.51 445.45,199.97 445.8,201.93 446.15,197.31 446.5,204.4 446.85,199.36 447.2,202.48 447.55,198.55 447.9,203 448.25,198.84 448.6,202.7 448.95,198.13 449.3,203.99 449.65,198.54 450,203.62 450.35,202.6 450.7,203.89 451.05,200.51 451.4,204.62 451.75,200.94 452.1,204.35 452.45,203.67 452.8,203.56 453.15,201.6 453.5,203.21 453.85,202.48 454.2,203.01 454.55,200.57 454.9,201.1 455.25,193.35 455.6,200.84 455.95,201.14 456.3,203.13 456.65,201.82 457,203.38 457.35,203.61 457.7,204.87 458.05,201.63 458.4,204.35 458.75,202.21 459.1,203.37 459.45,200.81 459.8,202.85 460.15,203.47 460.5,204.48 460.85,202.95 461.2,204.59 461.55,203.02 461.9,203.7 462.25,199.11 462.6,204.38 462.95,199.07 463.3,201.57 463.65,202.77 464,203.27 464.35,197.39 464.7,201.71 465.05,201.47 465.4,202.33 465.75,201.4 466.1,201.85 466.45,198 466.8,201.86 467.15,197.08 467.5,203.84 467.85,201.51 468.2,202.84 468.55,199.48 468.9,202.36 469.25,200.49 469.6,203.69 469.95,198.65 470.3,195.04 470.65,185.91 471,200.32 471.35,193.99 471.7,204.44 472.05,200.4 472.4,202.97 472.75,202.53 473.1,203.33 473.45,202.97 473.8,203.79 474.15,203.17 474.5,204.98 474.85,201.02 475.2,204.3 475.55,203.05 475.9,203.76 476.25,203.36 476.6,204.88 476.95,202.07 477.3,204.46 477.65,201.8 478,204.76 478.35,201.41 478.7,203.42 479.05,201.98 479.4,203.17 479.75,203.74 480.1,204.15 480.45,200.88 480.8,203.08 481.15,202.48 481.5,203.75 481.85,200.81 482.2,202.59 482.55,200.62 482.9,203.51 483.25,200.34 483.6,202.16 483.95,201.31 484.3,202.79 484.65,194.93 485,201.34 485.35,192.43 485.7,201.71 486.05,199.34 486.4,202.2 486.75,199.83 487.1,202.13 487.45,197.89 487.8,201.86 488.15,198.45 488.5,204.39 488.85,201.69 489.2,202.85 489.55,197.46 489.9,203.87 490.25,202.07 490.6,203.14 490.95,201.85 491.3,203.62 491.65,198.54 492,204.17 492.35,202.5 492.7,204.07 493.05,200.38 493.4,203.99 493.75,201.55 493.75,205.5" fill="#000" />
<path d="M354.45 205.5V197.02M371.25 205.5V200.75M390.85 205.5V200.08M397.85 205.5V197.14M400.65 205.5V193.01M448.25 205.5V197.32M467.85 205.5V194.56M485.35 205.5V189.59M492.35 205.5V197.07" stroke="#8a8a8a" stroke-width="0.6" fill="none" opacity="1"/>
<line x1="402.2" y1="134.6" x2="402.2" y2="152" stroke="#9a9a9a" stroke-width="1" />
<line x1="402.2" y1="150" x2="402.2" y2="165" stroke="#555" stroke-width="1.2" />
<polygon points="399.6,205.5 401.2,190 401.8,172 402.2,158 402.7,172 403.5,190 406,205.5" fill="#000" />
<polygon points="403,205.5 404.3,192 405.5,196 408.5,205.5" fill="#555" />
<text x="393.6" y="127.6" font-family="Liberation Serif" font-size="11" font-weight="bold" fill="#000" text-anchor="start" textLength="21.5" lengthAdjust="spacingAndGlyphs" stroke="#000" stroke-width="0.2" >7444</text>
<text x="402.3" y="133.2" font-family="Liberation Sans" font-size="3.85" font-weight="bold" fill="#222" text-anchor="middle" >7444.0</text>
<text x="372" y="188.5" font-family="Liberation Sans" font-size="3.85" font-weight="bold" fill="#222" text-anchor="middle" >6616.0</text>
<text x="392" y="193.5" font-family="Liberation Sans" font-size="3.85" font-weight="bold" fill="#222" text-anchor="middle" >7162.0</text>
<text x="416" y="196" font-family="Liberation Sans" font-size="3.85" font-weight="bold" fill="#222" text-anchor="middle" >7660.0</text>
<text x="438.8" y="194.5" font-family="Liberation Sans" font-size="3.85" font-weight="bold" fill="#222" text-anchor="middle" >8456.0</text>
<text x="454.5" y="192.5" font-family="Liberation Sans" font-size="3.85" font-weight="bold" fill="#222" text-anchor="middle" >8816.0</text>
<text x="470.5" y="185" font-family="Liberation Sans" font-size="3.85" font-weight="bold" fill="#222" text-anchor="middle" >9350.0</text>
<text x="485" y="195.3" font-family="Liberation Sans" font-size="3.85" font-weight="bold" fill="#222" text-anchor="middle" >9776.0</text>
<text x="329.4" y="203.8" font-family="Liberation Serif" font-size="8.4" font-weight="bold" fill="#000" text-anchor="start" textLength="68.8" lengthAdjust="spacingAndGlyphs" stroke="#000" stroke-width="0.2" transform="rotate(-90 329.4 203.8)">Peak intensity (%)</text>
<line x1="350.6" y1="255.6" x2="350.6" y2="327.9" stroke="#777" stroke-width="1" />
<line x1="350.1" y1="327.4" x2="502" y2="327.4" stroke="#777" stroke-width="1" />
<text x="349.4" y="256.9" font-family="Liberation Sans" font-size="3.74" font-weight="bold" fill="#555" text-anchor="end" >100</text>
<text x="349.1" y="292.5" font-family="Liberation Sans" font-size="3.74" font-weight="bold" fill="#555" text-anchor="end" >%</text>
<text x="349.1" y="328.7" font-family="Liberation Sans" font-size="3.96" font-weight="bold" fill="#555" text-anchor="end" >0</text>
<line x1="348" y1="327.4" x2="348" y2="328.9" stroke="#888" stroke-width="0.5" />
<text x="348" y="331.5" font-family="Liberation Sans" font-size="3.96" font-weight="normal" fill="#777" text-anchor="middle" >5000</text>
<line x1="370" y1="327.4" x2="370" y2="328.9" stroke="#888" stroke-width="0.5" />
<text x="370" y="331.5" font-family="Liberation Sans" font-size="3.96" font-weight="normal" fill="#777" text-anchor="middle" >6000</text>
<line x1="392" y1="327.4" x2="392" y2="328.9" stroke="#888" stroke-width="0.5" />
<text x="392" y="331.5" font-family="Liberation Sans" font-size="3.96" font-weight="normal" fill="#777" text-anchor="middle" >7000</text>
<line x1="414" y1="327.4" x2="414" y2="328.9" stroke="#888" stroke-width="0.5" />
<text x="414" y="331.5" font-family="Liberation Sans" font-size="3.96" font-weight="normal" fill="#777" text-anchor="middle" >8000</text>
<line x1="437" y1="327.4" x2="437" y2="328.9" stroke="#888" stroke-width="0.5" />
<text x="437" y="331.5" font-family="Liberation Sans" font-size="3.96" font-weight="normal" fill="#777" text-anchor="middle" >9000</text>
<line x1="457" y1="327.4" x2="457" y2="328.9" stroke="#888" stroke-width="0.5" />
<text x="457" y="331.5" font-family="Liberation Sans" font-size="3.96" font-weight="normal" fill="#777" text-anchor="middle" >10000</text>
<line x1="479" y1="327.4" x2="479" y2="328.9" stroke="#888" stroke-width="0.5" />
<text x="479" y="331.5" font-family="Liberation Sans" font-size="3.96" font-weight="normal" fill="#777" text-anchor="middle" >11000</text>
<line x1="498" y1="327.4" x2="498" y2="328.9" stroke="#888" stroke-width="0.5" />
<text x="498" y="331.5" font-family="Liberation Sans" font-size="3.96" font-weight="normal" fill="#777" text-anchor="middle" >12000</text>
<text x="509" y="328.5" font-family="Liberation Sans" font-size="3.3" font-weight="normal" fill="#777" text-anchor="middle" >mass</text>
<path d="M364.65 298.4V319.4M393.47 292.77V319.4M395.94 300.64V319.4M397.49 294.59V319.4M432.2 288.9V319.4M436.7 287.99V319.4M441.13 292.09V319.4M446.11 287.43V319.4M448.71 302.31V319.4M489.51 300.87V319.4" stroke="#c0c0c0" stroke-width="0.55"/>
<path d="M353.8 302.96V321.4M354.86 307.57V321.4M356.23 306.39V321.4M362.07 313.04V321.4M363.53 312.1V321.4M365.98 305.13V321.4M371.12 313.09V321.4M372.59 312.91V321.4M375.19 300.7V321.4M379.38 311.96V321.4M382.12 300.49V321.4M383.14 313.29V321.4M388 305.34V321.4M389.06 313.01V321.4M399.86 303.91V321.4M400.91 313.34V321.4M402.49 308.43V321.4M406.43 302.64V321.4M408.67 309.12V321.4M409.79 313.14V321.4M410.8 313.02V321.4M412.33 305.57V321.4M413.79 300.41V321.4M415.02 308.62V321.4M418.81 302.15V321.4M427.21 308.39V321.4M433.28 303.73V321.4M435.66 305.6V321.4M439.54 312.5V321.4M444.6 306.56V321.4M447.2 299.79V321.4M455.29 305.75V321.4M456.33 299.6V321.4M458.67 307.82V321.4M460.14 308.91V321.4M461.25 300.65V321.4M463.82 305.26V321.4M466.54 305.75V321.4M468.86 303.66V321.4M469.99 311.9V321.4M472.58 309.22V321.4M473.76 300.59V321.4M476.22 313.39V321.4M477.39 308.13V321.4M483.03 301.14V321.4M484.56 302.09V321.4M486.84 300.5V321.4M492.1 302.24V321.4M493.31 309.23V321.4M494.85 308.56V321.4M496.03 313.01V321.4M497.57 303.59V321.4M498.68 313.35V321.4M500.03 309.43V321.4" stroke="#555" stroke-width="0.55"/>
<line x1="354.6" y1="294.6" x2="354.6" y2="327.4" stroke="#a0a0a0" stroke-width="0.7" />
<line x1="354.6" y1="304.44" x2="354.6" y2="327.4" stroke="#333" stroke-width="0.9" />
<line x1="363.5" y1="294.6" x2="363.5" y2="327.4" stroke="#a0a0a0" stroke-width="0.7" />
<line x1="363.5" y1="314.28" x2="363.5" y2="327.4" stroke="#333" stroke-width="0.9" />
<line x1="369.2" y1="298.5" x2="369.2" y2="327.4" stroke="#a0a0a0" stroke-width="0.7" />
<line x1="369.2" y1="307.17" x2="369.2" y2="327.4" stroke="#333" stroke-width="0.9" />
<line x1="375" y1="274.6" x2="375" y2="327.4" stroke="#a0a0a0" stroke-width="0.7" />
<line x1="375" y1="306.28" x2="375" y2="327.4" stroke="#333" stroke-width="0.9" />
<line x1="377.7" y1="285.4" x2="377.7" y2="327.4" stroke="#a0a0a0" stroke-width="0.7" />
<line x1="377.7" y1="298" x2="377.7" y2="327.4" stroke="#333" stroke-width="0.9" />
<line x1="385.4" y1="285.4" x2="385.4" y2="327.4" stroke="#a0a0a0" stroke-width="0.7" />
<line x1="385.4" y1="310.6" x2="385.4" y2="327.4" stroke="#333" stroke-width="0.9" />
<line x1="391.2" y1="278.5" x2="391.2" y2="327.4" stroke="#a0a0a0" stroke-width="0.7" />
<line x1="391.2" y1="307.84" x2="391.2" y2="327.4" stroke="#333" stroke-width="0.9" />
<line x1="395.4" y1="303.8" x2="395.4" y2="327.4" stroke="#a0a0a0" stroke-width="0.7" />
<line x1="395.4" y1="310.88" x2="395.4" y2="327.4" stroke="#333" stroke-width="0.9" />
<line x1="400.8" y1="294.6" x2="400.8" y2="327.4" stroke="#a0a0a0" stroke-width="0.7" />
<line x1="400.8" y1="314.28" x2="400.8" y2="327.4" stroke="#333" stroke-width="0.9" />
<line x1="406" y1="303.8" x2="406" y2="327.4" stroke="#a0a0a0" stroke-width="0.7" />
<line x1="406" y1="310.88" x2="406" y2="327.4" stroke="#333" stroke-width="0.9" />
<line x1="419.2" y1="290" x2="419.2" y2="327.4" stroke="#a0a0a0" stroke-width="0.7" />
<line x1="419.2" y1="312.44" x2="419.2" y2="327.4" stroke="#333" stroke-width="0.9" />
<line x1="425.4" y1="287.7" x2="425.4" y2="327.4" stroke="#a0a0a0" stroke-width="0.7" />
<line x1="425.4" y1="311.52" x2="425.4" y2="327.4" stroke="#333" stroke-width="0.9" />
<line x1="437.6" y1="297" x2="437.6" y2="327.4" stroke="#a0a0a0" stroke-width="0.7" />
<line x1="437.6" y1="315.24" x2="437.6" y2="327.4" stroke="#333" stroke-width="0.9" />
<line x1="453" y1="284" x2="453" y2="327.4" stroke="#a0a0a0" stroke-width="0.7" />
<line x1="453" y1="310.04" x2="453" y2="327.4" stroke="#333" stroke-width="0.9" />
<line x1="474.6" y1="284" x2="474.6" y2="327.4" stroke="#a0a0a0" stroke-width="0.7" />
<line x1="474.6" y1="310.04" x2="474.6" y2="327.4" stroke="#333" stroke-width="0.9" />
<line x1="478.4" y1="294" x2="478.4" y2="327.4" stroke="#a0a0a0" stroke-width="0.7" />
<line x1="478.4" y1="304.02" x2="478.4" y2="327.4" stroke="#333" stroke-width="0.9" />
<line x1="493" y1="284" x2="493" y2="327.4" stroke="#a0a0a0" stroke-width="0.7" />
<line x1="493" y1="310.04" x2="493" y2="327.4" stroke="#333" stroke-width="0.9" />
<line x1="431" y1="302" x2="431" y2="327.4" stroke="#a0a0a0" stroke-width="0.7" />
<line x1="431" y1="309.62" x2="431" y2="327.4" stroke="#333" stroke-width="0.9" />
<line x1="447" y1="303" x2="447" y2="327.4" stroke="#a0a0a0" stroke-width="0.7" />
<line x1="447" y1="317.64" x2="447" y2="327.4" stroke="#333" stroke-width="0.9" />
<line x1="462" y1="300" x2="462" y2="327.4" stroke="#a0a0a0" stroke-width="0.7" />
<line x1="462" y1="308.22" x2="462" y2="327.4" stroke="#333" stroke-width="0.9" />
<line x1="468" y1="305" x2="468" y2="327.4" stroke="#a0a0a0" stroke-width="0.7" />
<line x1="468" y1="318.44" x2="468" y2="327.4" stroke="#333" stroke-width="0.9" />
<line x1="488" y1="300" x2="488" y2="327.4" stroke="#a0a0a0" stroke-width="0.7" />
<line x1="488" y1="308.22" x2="488" y2="327.4" stroke="#333" stroke-width="0.9" />
<line x1="498" y1="304" x2="498" y2="327.4" stroke="#a0a0a0" stroke-width="0.7" />
<line x1="498" y1="318.04" x2="498" y2="327.4" stroke="#333" stroke-width="0.9" />
<polygon points="351.2,327.4 351.2,325.99 351.55,321.88 351.9,322.02 352.25,319.27 352.6,325.67 352.95,318.72 353.3,323.48 353.65,315.14 354,324.25 354.35,322.94 354.7,325.52 355.05,322.91 355.4,322.1 355.75,316.44 356.1,325.27 356.45,322.47 356.8,321.71 357.15,322.3 357.5,326.14 357.85,322.83 358.2,324.51 358.55,321.69 358.9,321.45 359.25,321.34 359.6,322.06 359.95,317.39 360.3,321.47 360.65,316.47 361,323.8 361.35,319.14 361.7,319.32 362.05,316.76 362.4,322.51 362.75,312.45 363.1,320.96 363.45,320.22 363.8,321.36 364.15,320.9 364.5,323.39 364.85,319.53 365.2,325.88 365.55,313.06 365.9,320.88 366.25,318 366.6,321.9 366.95,317.86 367.3,323.96 367.65,321.51 368,323.29 368.35,322.12 368.7,324.32 369.05,319.66 369.4,323.79 369.75,322.78 370.1,326.37 370.45,323.54 370.8,323.81 371.15,316.94 371.5,324.9 371.85,316.54 372.2,324.18 372.55,322.63 372.9,325.49 373.25,320.36 373.6,323.05 373.95,316.23 374.3,322.94 374.65,319.26 375,322.71 375.35,321.11 375.7,326.34 376.05,318.27 376.4,326.54 376.75,319.48 377.1,324.48 377.45,320.6 377.8,326.3 378.15,323 378.5,323.64 378.85,323.41 379.2,325.12 379.55,319.74 379.9,323.52 380.25,322.55 380.6,325.86 380.95,323.14 381.3,323.95 381.65,316.15 382,322.3 382.35,322.15 382.7,320.53 383.05,317.72 383.4,324.86 383.75,312.89 384.1,324.41 384.45,318.64 384.8,322.82 385.15,319.96 385.5,322.24 385.85,318.32 386.2,323.04 386.55,315.16 386.9,325.54 387.25,315.86 387.6,324.06 387.95,318.32 388.3,323.39 388.65,321.5 389,325.03 389.35,320.89 389.7,324 390.05,320.56 390.4,324.26 390.75,313.95 391.1,324.42 391.45,320.64 391.8,323.06 392.15,316.61 392.5,322.57 392.85,314.16 393.2,324.24 393.55,312.48 393.9,319.7 394.25,314.81 394.6,323.25 394.95,320.44 395.3,323.66 395.65,321.53 396,322.05 396.35,317.64 396.7,325.92 397.05,316.09 397.4,324.26 397.75,320.38 398.1,326.43 398.45,318.91 398.8,325.26 399.15,319.78 399.5,324.32 399.85,319.89 400.2,326.27 400.55,322.6 400.9,323.93 401.25,320.35 401.6,324.33 401.95,320.19 402.3,326.37 402.65,320.32 403,326.06 403.35,319.4 403.7,325.07 404.05,318.63 404.4,323.24 404.75,317.08 405.1,325.93 405.45,318.82 405.8,324.51 406.15,318.65 406.5,323.72 406.85,317.28 407.2,322.85 407.55,318.87 407.9,323.03 408.25,322.92 408.6,321.29 408.95,317.93 409.3,325.13 409.65,317.47 410,318.33 410.35,318.39 410.7,321.6 411.05,311.99 411.4,324.16 411.75,307.52 412.1,322.99 412.45,317.9 412.8,318.7 413.15,315.58 413.5,321.49 413.85,312.66 414.2,322.77 414.55,319.8 414.9,324.17 415.25,312.77 415.6,324.42 415.95,316.15 416.3,324.26 416.65,313.89 417,322.47 417.35,321.02 417.7,321.99 418.05,317.91 418.4,325.9 418.75,320 419.1,325.62 419.45,319.14 419.8,325.86 420.15,317.62 420.5,322.79 420.85,319.34 421.2,321.56 421.55,315.54 421.9,322.31 422.25,315.28 422.6,324.43 422.95,321.5 423.3,322.36 423.65,320.13 424,325.63 424.35,322.25 424.7,321.63 425.05,322.12 425.4,324.13 425.75,315.04 426.1,326.02 426.45,322.78 426.8,326.31 427.15,318.81 427.5,325.72 427.85,323.45 428.2,326.25 428.55,323.36 428.9,325.93 429.25,321.45 429.6,326.1 429.95,324.83 430.3,324.3 430.65,320.59 431,325.39 431.35,323.06 431.7,325.16 432.05,322.16 432.4,325.76 432.75,319.93 433.1,323.69 433.45,319.56 433.8,325.61 434.15,319.4 434.5,321.51 434.85,316.8 435.2,325.37 435.55,316.37 435.9,321.36 436.25,321.91 436.6,321.72 436.95,321.95 437.3,322.92 437.65,316.81 438,323.86 438.35,316.57 438.7,324.31 439.05,323.1 439.4,323.68 439.75,319.72 440.1,323.42 440.45,319.21 440.8,323.39 441.15,316.73 441.5,325.98 441.85,316.03 442.2,323.66 442.55,320.23 442.9,323.54 443.25,317.43 443.6,323.96 443.95,316.79 444.3,322.26 444.65,320.66 445,319.63 445.35,313.19 445.7,320.33 446.05,316.99 446.4,321.8 446.75,318.75 447.1,321.15 447.45,316.6 447.8,324.75 448.15,315.44 448.5,321.45 448.85,316.45 449.2,322.92 449.55,316.45 449.9,322.38 450.25,322.39 450.6,325.69 450.95,318.39 451.3,324.24 451.65,322.51 452,323.71 452.35,323.68 452.7,323.55 453.05,317.94 453.4,324.18 453.75,321.4 454.1,324.17 454.45,319.05 454.8,324.98 455.15,319.46 455.5,326.21 455.85,316.75 456.2,324.07 456.55,319.28 456.9,324.52 457.25,321.19 457.6,325.09 457.95,323.42 458.3,324.15 458.65,321.86 459,324.98 459.35,319.81 459.7,323.52 460.05,320.19 460.4,324.14 460.75,321.92 461.1,323.93 461.45,319.66 461.8,323.92 462.15,320.75 462.5,322.97 462.85,319.83 463.2,324.43 463.55,319.58 463.9,322.77 464.25,320.28 464.6,324.15 464.95,316.14 465.3,324.1 465.65,318.09 466,320.77 466.35,320.81 466.7,323.32 467.05,319.48 467.4,324.02 467.75,320.33 468.1,323.36 468.45,317.57 468.8,320.61 469.15,313.53 469.5,324.47 469.85,316.76 470.2,322.92 470.55,314.66 470.9,320.95 471.25,315.82 471.6,320.91 471.95,316.4 472.3,322.49 472.65,314.33 473,323.86 473.35,316.79 473.7,321.43 474.05,317.15 474.4,321.86 474.75,315.04 475.1,323.95 475.45,316.53 475.8,323.35 476.15,321.68 476.5,325.43 476.85,319.5 477.2,321.91 477.55,319.97 477.9,320.96 478.25,318.68 478.6,323.66 478.95,316.63 479.3,325.08 479.65,319.79 480,322.84 480.35,319.02 480.7,324.45 481.05,319.83 481.4,326.16 481.75,321.52 482.1,325.32 482.45,321.82 482.8,324.4 483.15,323.99 483.5,326.06 483.85,323.04 484.2,324.21 484.55,319.16 484.9,325.55 485.25,323.23 485.6,322.68 485.95,318.48 486.3,322.9 486.65,317.01 487,324.03 487.35,316.2 487.7,323.35 488.05,317.65 488.4,322.3 488.75,319.77 489.1,324.83 489.45,321.32 489.8,324.88 490.15,318.34 490.5,323.29 490.85,319.95 491.2,325.72 491.55,323 491.9,324.92 492.25,318.33 492.6,322.63 492.95,318.78 493.3,325.83 493.65,319.21 494,321.52 494.35,322.01 494.7,323.61 495.05,316.52 495.4,321.61 495.75,314.23 496.1,319.74 496.45,319.54 496.8,325.27 497.15,314.57 497.5,324.94 497.85,318.19 498.2,322.94 498.55,320.18 498.9,321.99 499.25,320.15 499.6,324.35 499.95,316.69 500.3,324.17 500.65,319.63 501,322.2 501.35,318.61 501.7,321.58 502.05,315.47 502,327.4" fill="#000" />
<line x1="411.3" y1="256" x2="411.3" y2="327.4" stroke="#444" stroke-width="1.2" />
<polygon points="408.3,327.4 410.4,308 411.3,295 412.2,308 414.5,327.4" fill="#000" />
<text x="400.2" y="247.2" font-family="Liberation Serif" font-size="11" font-weight="bold" fill="#000" text-anchor="start" textLength="21" lengthAdjust="spacingAndGlyphs" stroke="#000" stroke-width="0.2" >7794</text>
<text x="411.5" y="254.5" font-family="Liberation Sans" font-size="3.85" font-weight="bold" fill="#222" text-anchor="middle" >7794.0</text>
<text x="363.5" y="291.5" font-family="Liberation Sans" font-size="3.85" font-weight="bold" fill="#222" text-anchor="middle" >5562.0</text>
<text x="375" y="273.5" font-family="Liberation Sans" font-size="3.85" font-weight="bold" fill="#222" text-anchor="middle" >6134.0</text>
<text x="391.5" y="277" font-family="Liberation Sans" font-size="3.85" font-weight="bold" fill="#222" text-anchor="middle" >6662.0</text>
<text x="401" y="292.3" font-family="Liberation Sans" font-size="3.85" font-weight="bold" fill="#222" text-anchor="middle" >7313.0</text>
<text x="419" y="288.3" font-family="Liberation Sans" font-size="3.85" font-weight="bold" fill="#222" text-anchor="middle" >8172.0</text>
<text x="426" y="282.5" font-family="Liberation Sans" font-size="3.85" font-weight="bold" fill="#222" text-anchor="middle" >8480.0</text>
<text x="437.7" y="294.5" font-family="Liberation Sans" font-size="3.85" font-weight="bold" fill="#222" text-anchor="middle" >9032.0</text>
<text x="452.8" y="285" font-family="Liberation Sans" font-size="3.85" font-weight="bold" fill="#222" text-anchor="middle" >9741.0</text>
<text x="474.8" y="283" font-family="Liberation Sans" font-size="3.85" font-weight="bold" fill="#222" text-anchor="middle" >10756.0</text>
<text x="493.5" y="283.3" font-family="Liberation Sans" font-size="3.85" font-weight="bold" fill="#222" text-anchor="middle" >11612.0</text>
<text x="363.25" y="355" font-family="Liberation Serif" font-size="8.6" font-weight="bold" fill="#000" text-anchor="start" textLength="120.65" lengthAdjust="spacingAndGlyphs" stroke="#000" stroke-width="0.2" >Molecular mass/charge (m/z)</text>
<text x="321.7" y="461.1" font-family="Liberation Sans" font-size="18" font-weight="bold" fill="#000" text-anchor="start" textLength="12.6" lengthAdjust="spacingAndGlyphs" >E</text>
<line x1="343.7" y1="471.6" x2="513" y2="471.6" stroke="#555" stroke-width="1" />
<line x1="513" y1="471.6" x2="513" y2="638.4" stroke="#555" stroke-width="1" />
<polygon points="355,638.4 355.5,637.14 356.25,634.92 357,633 357.75,633.94 358.5,627.87 359.25,625.89 360,626.96 360.75,623.97 361.5,626.19 362.25,621.51 363,614.91 363.75,612.26 364.5,611.44 365.25,615.01 366,612.65 366.75,605.38 367.5,610.83 368.25,608.1 369,610.44 369.75,605.66 370.5,603.33 371.25,607.39 372,608.7 372.75,606.78 373.5,608.81 374.25,605.34 375,600.61 375.75,604.66 376.5,595.13 377.25,592.47 378,599.95 378.75,605.99 379.5,602.66 380.25,599.6 381,603.64 381.75,603.19 382.5,596.52 383.25,601.28 384,599.4 384.75,602.71 385.5,596.96 386.25,604.06 387,604.08 387.75,600.08 388.5,602.93 389.25,601.65 390,604.13 390.75,606.7 391.5,601.9 392.25,601.14 393,600.32 393.75,605.86 394.5,604.73 395.25,606.67 396,611.36 396.75,612.79 397.5,607.03 398.25,609.18 399,611.28 399.75,617.05 400.5,617.74 401.25,617.45 402,612.32 402.75,613.5 403.5,618.7 404.25,619.76 405,621.39 405.75,622.24 406.5,617.82 407.25,622.43 408,626.62 408.75,621.23 409.5,625.51 410.25,622.5 411,624 411.75,627 412.5,628.1 413.25,624.87 414,628.87 414.75,626.87 415.5,631.65 416.25,630.68 417,630.07 417.75,629.78 418.5,631.92 419.25,630.88 420,633.13 420.75,631.62 421.5,631.74 422.25,633.63 423,635 423.75,633.31 424.5,634.37 425.25,634.71 426,635.05 426.75,635.67 427.5,636.15 428.25,636.54 429,637.48 429.75,637.48 430.5,637.89 431.25,638.06 432,638.4" fill="#5a5a5a" />
<polyline points="344.3,636.36 345,633.81 345.7,635.23 346.4,636.28 347.1,636.64 347.8,637.39 348.5,636.19 349.2,634.56 349.9,632.05 350.6,627.72 351.3,622.01 352,618.67 352.7,616.97 353.4,610.19 354.1,610.17 354.8,603.42 355.5,599.34 356.2,592.85 356.9,587 357.6,576.1 358.3,571.07 359,566.66 359.7,558.17 360.4,555.16 361.1,548.5 361.8,552.33 362.5,553.93 363.2,554.84 363.9,558.72 364.6,564.18 365.3,565.67 366,569.98 366.7,576.5 367.4,583.48 368.1,587.05 368.8,592.43 369.5,594.15 370.2,597.78 370.9,602.49 371.6,606.12 372.3,604.74" stroke="#111" stroke-width="1.15" fill="none" stroke-linejoin="round" />
<polyline points="372,611.37 372.85,609.92 373.7,604.62 374.55,603.81 375.4,608.77 376.25,603.12 377.1,599.97 377.95,605.38 378.8,604.5 379.65,606.49 380.5,605.62 381.35,598.05 382.2,604.49 383.05,598.01 383.9,598.46 384.75,601.88 385.6,605.5 386.45,597.48 387.3,602.74 388.15,603.55 389,604.53 389.85,597.61 390.7,603.44 391.55,606.1 392.4,604.41 393.25,608.73 394.1,603.63 394.95,606 395.8,608.06 396.65,602.32 397.5,601.23 398.35,609.6 399.2,603.29 400.05,605.55 400.9,597.68 401.75,598.77 402.6,604.09 403.45,603.25 404.3,603.91 405.15,594.13 406,601.2 406.85,597.14 407.7,598.02 408.55,597.8 409.4,601.12 410.25,602.45 411.1,612.21 411.95,608.01 412.8,614.68 413.65,613.65 414.5,617.35 415.35,619.32 416.2,618.28 417.05,620.5 417.9,622.6 418.75,619.34 419.6,622 420.45,629.07 421.3,627.65 422.15,626.36 423,622.11 423.85,623.26 424.7,627.86 425.55,630.81 426.4,629.09 427.25,631.09 428.1,631.43 428.95,631.82 429.8,632.44 430.65,633.29 431.5,632.2 432.35,634.3 433.2,634.62 434.05,633.43 434.9,635.96 435.75,635.98 436.6,634.44 437.45,637.18 438.3,634.81 439.15,635.48 440,636.56 440.85,637.24 441.7,635.53 442.55,634.98 443.4,637.42 444.25,636.19 445.1,635.83 445.95,635.88 446.8,636.32 447.65,637.18 448.5,636.11 449.35,635.74 450.2,637.73 451.05,637.73 451.9,636.21 452.75,636.4 453.6,636.92 454.45,637.73 455.3,636.91" stroke="#000" stroke-width="1.9" fill="none" stroke-linejoin="round" />
<line x1="343.7" y1="471.1" x2="343.7" y2="639" stroke="#000" stroke-width="1.4" />
<line x1="343" y1="638.4" x2="513.5" y2="638.4" stroke="#000" stroke-width="1.4" />
<line x1="340.7" y1="638.4" x2="343.7" y2="638.4" stroke="#000" stroke-width="0.8" />
<line x1="341.9" y1="631.73" x2="343.7" y2="631.73" stroke="#000" stroke-width="0.8" />
<line x1="341.9" y1="625.06" x2="343.7" y2="625.06" stroke="#000" stroke-width="0.8" />
<line x1="341.9" y1="618.38" x2="343.7" y2="618.38" stroke="#000" stroke-width="0.8" />
<line x1="341.9" y1="611.71" x2="343.7" y2="611.71" stroke="#000" stroke-width="0.8" />
<line x1="340.7" y1="605.04" x2="343.7" y2="605.04" stroke="#000" stroke-width="0.8" />
<line x1="341.9" y1="598.37" x2="343.7" y2="598.37" stroke="#000" stroke-width="0.8" />
<line x1="341.9" y1="591.7" x2="343.7" y2="591.7" stroke="#000" stroke-width="0.8" />
<line x1="341.9" y1="585.02" x2="343.7" y2="585.02" stroke="#000" stroke-width="0.8" />
<line x1="341.9" y1="578.35" x2="343.7" y2="578.35" stroke="#000" stroke-width="0.8" />
<line x1="340.7" y1="571.68" x2="343.7" y2="571.68" stroke="#000" stroke-width="0.8" />
<line x1="341.9" y1="565.01" x2="343.7" y2="565.01" stroke="#000" stroke-width="0.8" />
<line x1="341.9" y1="558.34" x2="343.7" y2="558.34" stroke="#000" stroke-width="0.8" />
<line x1="341.9" y1="551.66" x2="343.7" y2="551.66" stroke="#000" stroke-width="0.8" />
<line x1="341.9" y1="544.99" x2="343.7" y2="544.99" stroke="#000" stroke-width="0.8" />
<line x1="340.7" y1="538.32" x2="343.7" y2="538.32" stroke="#000" stroke-width="0.8" />
<line x1="341.9" y1="531.65" x2="343.7" y2="531.65" stroke="#000" stroke-width="0.8" />
<line x1="341.9" y1="524.98" x2="343.7" y2="524.98" stroke="#000" stroke-width="0.8" />
<line x1="341.9" y1="518.3" x2="343.7" y2="518.3" stroke="#000" stroke-width="0.8" />
<line x1="341.9" y1="511.63" x2="343.7" y2="511.63" stroke="#000" stroke-width="0.8" />
<line x1="340.7" y1="504.96" x2="343.7" y2="504.96" stroke="#000" stroke-width="0.8" />
<line x1="341.9" y1="498.29" x2="343.7" y2="498.29" stroke="#000" stroke-width="0.8" />
<line x1="341.9" y1="491.62" x2="343.7" y2="491.62" stroke="#000" stroke-width="0.8" />
<line x1="341.9" y1="484.94" x2="343.7" y2="484.94" stroke="#000" stroke-width="0.8" />
<line x1="341.9" y1="478.27" x2="343.7" y2="478.27" stroke="#000" stroke-width="0.8" />
<line x1="340.7" y1="471.6" x2="343.7" y2="471.6" stroke="#000" stroke-width="0.8" />
<text x="336.9" y="638.8" font-family="Liberation Sans" font-size="7.2" font-weight="normal" fill="#000" text-anchor="middle" transform="rotate(-90 336.9 638.8)">0</text>
<text x="336.9" y="605.44" font-family="Liberation Sans" font-size="7.2" font-weight="normal" fill="#000" text-anchor="middle" transform="rotate(-90 336.9 605.44)">20</text>
<text x="336.9" y="572.08" font-family="Liberation Sans" font-size="7.2" font-weight="normal" fill="#000" text-anchor="middle" transform="rotate(-90 336.9 572.08)">40</text>
<text x="336.9" y="538.72" font-family="Liberation Sans" font-size="7.2" font-weight="normal" fill="#000" text-anchor="middle" transform="rotate(-90 336.9 538.72)">60</text>
<text x="336.9" y="505.36" font-family="Liberation Sans" font-size="7.2" font-weight="normal" fill="#000" text-anchor="middle" transform="rotate(-90 336.9 505.36)">80</text>
<text x="336.9" y="472" font-family="Liberation Sans" font-size="7.2" font-weight="normal" fill="#000" text-anchor="middle" transform="rotate(-90 336.9 472)">100</text>
<text x="329.6" y="569.2" font-family="Liberation Sans" font-size="8.2" font-weight="normal" fill="#000" text-anchor="start" textLength="22.8" lengthAdjust="spacingAndGlyphs" transform="rotate(-90 329.6 569.2)">Counts</text>
<line x1="344.1" y1="638.4" x2="344.1" y2="641.4" stroke="#000" stroke-width="0.8" />
<line x1="356.74" y1="638.4" x2="356.74" y2="640.2" stroke="#000" stroke-width="0.8" />
<line x1="364.14" y1="638.4" x2="364.14" y2="640.2" stroke="#000" stroke-width="0.8" />
<line x1="369.39" y1="638.4" x2="369.39" y2="640.2" stroke="#000" stroke-width="0.8" />
<line x1="373.46" y1="638.4" x2="373.46" y2="640.2" stroke="#000" stroke-width="0.8" />
<line x1="376.78" y1="638.4" x2="376.78" y2="640.2" stroke="#000" stroke-width="0.8" />
<line x1="379.59" y1="638.4" x2="379.59" y2="640.2" stroke="#000" stroke-width="0.8" />
<line x1="382.03" y1="638.4" x2="382.03" y2="640.2" stroke="#000" stroke-width="0.8" />
<line x1="384.18" y1="638.4" x2="384.18" y2="640.2" stroke="#000" stroke-width="0.8" />
<line x1="386.1" y1="638.4" x2="386.1" y2="641.4" stroke="#000" stroke-width="0.8" />
<line x1="398.74" y1="638.4" x2="398.74" y2="640.2" stroke="#000" stroke-width="0.8" />
<line x1="406.14" y1="638.4" x2="406.14" y2="640.2" stroke="#000" stroke-width="0.8" />
<line x1="411.39" y1="638.4" x2="411.39" y2="640.2" stroke="#000" stroke-width="0.8" />
<line x1="415.46" y1="638.4" x2="415.46" y2="640.2" stroke="#000" stroke-width="0.8" />
<line x1="418.78" y1="638.4" x2="418.78" y2="640.2" stroke="#000" stroke-width="0.8" />
<line x1="421.59" y1="638.4" x2="421.59" y2="640.2" stroke="#000" stroke-width="0.8" />
<line x1="424.03" y1="638.4" x2="424.03" y2="640.2" stroke="#000" stroke-width="0.8" />
<line x1="426.18" y1="638.4" x2="426.18" y2="640.2" stroke="#000" stroke-width="0.8" />
<line x1="428.1" y1="638.4" x2="428.1" y2="641.4" stroke="#000" stroke-width="0.8" />
<line x1="440.74" y1="638.4" x2="440.74" y2="640.2" stroke="#000" stroke-width="0.8" />
<line x1="448.14" y1="638.4" x2="448.14" y2="640.2" stroke="#000" stroke-width="0.8" />
<line x1="453.39" y1="638.4" x2="453.39" y2="640.2" stroke="#000" stroke-width="0.8" />
<line x1="457.46" y1="638.4" x2="457.46" y2="640.2" stroke="#000" stroke-width="0.8" />
<line x1="460.78" y1="638.4" x2="460.78" y2="640.2" stroke="#000" stroke-width="0.8" />
<line x1="463.59" y1="638.4" x2="463.59" y2="640.2" stroke="#000" stroke-width="0.8" />
<line x1="466.03" y1="638.4" x2="466.03" y2="640.2" stroke="#000" stroke-width="0.8" />
<line x1="468.18" y1="638.4" x2="468.18" y2="640.2" stroke="#000" stroke-width="0.8" />
<line x1="470.1" y1="638.4" x2="470.1" y2="641.4" stroke="#000" stroke-width="0.8" />
<line x1="482.74" y1="638.4" x2="482.74" y2="640.2" stroke="#000" stroke-width="0.8" />
<line x1="490.14" y1="638.4" x2="490.14" y2="640.2" stroke="#000" stroke-width="0.8" />
<line x1="495.39" y1="638.4" x2="495.39" y2="640.2" stroke="#000" stroke-width="0.8" />
<line x1="499.46" y1="638.4" x2="499.46" y2="640.2" stroke="#000" stroke-width="0.8" />
<line x1="502.78" y1="638.4" x2="502.78" y2="640.2" stroke="#000" stroke-width="0.8" />
<line x1="505.59" y1="638.4" x2="505.59" y2="640.2" stroke="#000" stroke-width="0.8" />
<line x1="508.03" y1="638.4" x2="508.03" y2="640.2" stroke="#000" stroke-width="0.8" />
<line x1="510.18" y1="638.4" x2="510.18" y2="640.2" stroke="#000" stroke-width="0.8" />
<line x1="512.1" y1="638.4" x2="512.1" y2="641.4" stroke="#000" stroke-width="0.8" />
<text x="340.3" y="651" font-family="Liberation Sans" font-size="7.4" fill="#000">10<tspan dy="-4" font-size="6.6">0</tspan></text>
<text x="382.3" y="651" font-family="Liberation Sans" font-size="7.4" fill="#000">10<tspan dy="-4" font-size="6.6">1</tspan></text>
<text x="424.3" y="651" font-family="Liberation Sans" font-size="7.4" fill="#000">10<tspan dy="-4" font-size="6.6">2</tspan></text>
<text x="466.3" y="651" font-family="Liberation Sans" font-size="7.4" fill="#000">10<tspan dy="-4" font-size="6.6">3</tspan></text>
<text x="508.3" y="651" font-family="Liberation Sans" font-size="7.4" fill="#000">10<tspan dy="-4" font-size="6.6">4</tspan></text>
<text x="426.7" y="659.6" font-family="Liberation Sans" font-size="7.2" font-weight="normal" fill="#000" text-anchor="middle" textLength="35.5" lengthAdjust="spacingAndGlyphs" >FL2-Height</text>
<text x="409.8" y="489" font-family="Liberation Serif" font-size="12.4" font-weight="bold" fill="#000" text-anchor="start" textLength="93" lengthAdjust="spacingAndGlyphs" stroke="#000" stroke-width="0.2" >CCR5 expression</text>
</svg>
</body></html>
